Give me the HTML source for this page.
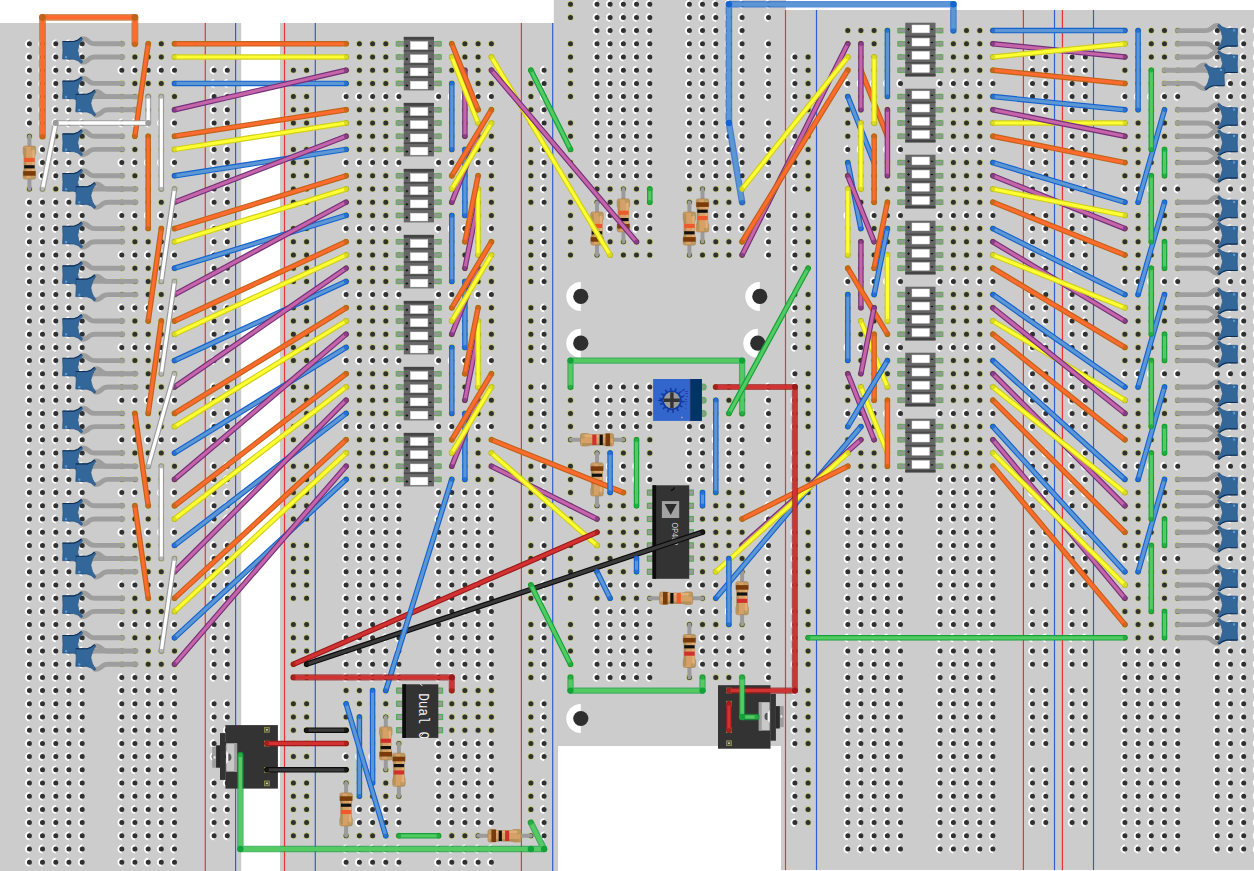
<!DOCTYPE html>
<html><head><meta charset="utf-8"><title>Breadboard</title>
<style>html,body{margin:0;padding:0;background:#fff;}svg{display:block;}</style>
</head><body>
<svg width="1254" height="871" viewBox="0 0 1254 871" font-family="Liberation Sans, sans-serif">
<rect width="1254" height="871" fill="#ffffff"/>
<rect x="0" y="23" width="241.2" height="860" fill="#cccccc"/>
<rect x="280" y="23" width="278" height="860" fill="#cccccc"/>
<rect x="553.8" y="0" width="232.2" height="746" fill="#cccccc"/>
<rect x="781" y="10" width="473" height="860" fill="#cccccc"/>
<defs><path id="hL" d="M29.4,43.8h0M29.4,57h0M29.4,70.2h0M29.4,83.4h0M29.4,96.6h0M29.4,109.8h0M29.4,123h0M29.4,136.2h0M29.4,149.4h0M29.4,162.6h0M29.4,175.8h0M29.4,189h0M29.4,202.2h0M29.4,215.4h0M29.4,228.6h0M29.4,241.8h0M29.4,255h0M29.4,268.2h0M29.4,281.4h0M29.4,294.6h0M29.4,307.8h0M29.4,321h0M29.4,334.2h0M29.4,347.4h0M29.4,360.6h0M29.4,373.8h0M29.4,387h0M29.4,400.2h0M29.4,413.4h0M29.4,426.6h0M29.4,439.8h0M29.4,453h0M29.4,466.2h0M29.4,479.4h0M29.4,492.6h0M29.4,505.8h0M29.4,519h0M29.4,532.2h0M29.4,545.4h0M29.4,558.6h0M29.4,571.8h0M29.4,585h0M29.4,598.2h0M29.4,611.4h0M29.4,624.6h0M29.4,637.8h0M29.4,651h0M29.4,664.2h0M29.4,677.4h0M29.4,690.6h0M29.4,703.8h0M29.4,717h0M29.4,730.2h0M29.4,743.4h0M29.4,756.6h0M29.4,769.8h0M29.4,783h0M29.4,796.2h0M29.4,809.4h0M29.4,822.6h0M29.4,835.8h0M29.4,849h0M29.4,862.2h0M42.5,43.8h0M42.5,57h0M42.5,70.2h0M42.5,83.4h0M42.5,96.6h0M42.5,109.8h0M42.5,123h0M42.5,136.2h0M42.5,149.4h0M42.5,162.6h0M42.5,175.8h0M42.5,189h0M42.5,202.2h0M42.5,215.4h0M42.5,228.6h0M42.5,241.8h0M42.5,255h0M42.5,268.2h0M42.5,281.4h0M42.5,294.6h0M42.5,307.8h0M42.5,321h0M42.5,334.2h0M42.5,347.4h0M42.5,360.6h0M42.5,373.8h0M42.5,387h0M42.5,400.2h0M42.5,413.4h0M42.5,426.6h0M42.5,439.8h0M42.5,453h0M42.5,466.2h0M42.5,479.4h0M42.5,492.6h0M42.5,505.8h0M42.5,519h0M42.5,532.2h0M42.5,545.4h0M42.5,558.6h0M42.5,571.8h0M42.5,585h0M42.5,598.2h0M42.5,611.4h0M42.5,624.6h0M42.5,637.8h0M42.5,651h0M42.5,664.2h0M42.5,677.4h0M42.5,690.6h0M42.5,703.8h0M42.5,717h0M42.5,730.2h0M42.5,743.4h0M42.5,756.6h0M42.5,769.8h0M42.5,783h0M42.5,796.2h0M42.5,809.4h0M42.5,822.6h0M42.5,835.8h0M42.5,849h0M42.5,862.2h0M55.8,43.8h0M55.8,57h0M55.8,70.2h0M55.8,83.4h0M55.8,96.6h0M55.8,109.8h0M55.8,123h0M55.8,136.2h0M55.8,149.4h0M55.8,162.6h0M55.8,175.8h0M55.8,189h0M55.8,202.2h0M55.8,215.4h0M55.8,228.6h0M55.8,241.8h0M55.8,255h0M55.8,268.2h0M55.8,281.4h0M55.8,294.6h0M55.8,307.8h0M55.8,321h0M55.8,334.2h0M55.8,347.4h0M55.8,360.6h0M55.8,373.8h0M55.8,387h0M55.8,400.2h0M55.8,413.4h0M55.8,426.6h0M55.8,439.8h0M55.8,453h0M55.8,466.2h0M55.8,479.4h0M55.8,492.6h0M55.8,505.8h0M55.8,519h0M55.8,532.2h0M55.8,545.4h0M55.8,558.6h0M55.8,571.8h0M55.8,585h0M55.8,598.2h0M55.8,611.4h0M55.8,624.6h0M55.8,637.8h0M55.8,651h0M55.8,664.2h0M55.8,677.4h0M55.8,690.6h0M55.8,703.8h0M55.8,717h0M55.8,730.2h0M55.8,743.4h0M55.8,756.6h0M55.8,769.8h0M55.8,783h0M55.8,796.2h0M55.8,809.4h0M55.8,822.6h0M55.8,835.8h0M55.8,849h0M55.8,862.2h0M68.9,43.8h0M68.9,57h0M68.9,70.2h0M68.9,83.4h0M68.9,96.6h0M68.9,109.8h0M68.9,123h0M68.9,136.2h0M68.9,149.4h0M68.9,162.6h0M68.9,175.8h0M68.9,189h0M68.9,202.2h0M68.9,215.4h0M68.9,228.6h0M68.9,241.8h0M68.9,255h0M68.9,268.2h0M68.9,281.4h0M68.9,294.6h0M68.9,307.8h0M68.9,321h0M68.9,334.2h0M68.9,347.4h0M68.9,360.6h0M68.9,373.8h0M68.9,387h0M68.9,400.2h0M68.9,413.4h0M68.9,426.6h0M68.9,439.8h0M68.9,453h0M68.9,466.2h0M68.9,479.4h0M68.9,492.6h0M68.9,505.8h0M68.9,519h0M68.9,532.2h0M68.9,545.4h0M68.9,558.6h0M68.9,571.8h0M68.9,585h0M68.9,598.2h0M68.9,611.4h0M68.9,624.6h0M68.9,637.8h0M68.9,651h0M68.9,664.2h0M68.9,677.4h0M68.9,690.6h0M68.9,703.8h0M68.9,717h0M68.9,730.2h0M68.9,743.4h0M68.9,756.6h0M68.9,769.8h0M68.9,783h0M68.9,796.2h0M68.9,809.4h0M68.9,822.6h0M68.9,835.8h0M68.9,849h0M68.9,862.2h0M82.2,43.8h0M82.2,57h0M82.2,70.2h0M82.2,83.4h0M82.2,96.6h0M82.2,109.8h0M82.2,123h0M82.2,136.2h0M82.2,149.4h0M82.2,162.6h0M82.2,175.8h0M82.2,189h0M82.2,202.2h0M82.2,215.4h0M82.2,228.6h0M82.2,241.8h0M82.2,255h0M82.2,268.2h0M82.2,281.4h0M82.2,294.6h0M82.2,307.8h0M82.2,321h0M82.2,334.2h0M82.2,347.4h0M82.2,360.6h0M82.2,373.8h0M82.2,387h0M82.2,400.2h0M82.2,413.4h0M82.2,426.6h0M82.2,439.8h0M82.2,453h0M82.2,466.2h0M82.2,479.4h0M82.2,492.6h0M82.2,505.8h0M82.2,519h0M82.2,532.2h0M82.2,545.4h0M82.2,558.6h0M82.2,571.8h0M82.2,585h0M82.2,598.2h0M82.2,611.4h0M82.2,624.6h0M82.2,637.8h0M82.2,651h0M82.2,664.2h0M82.2,677.4h0M82.2,690.6h0M82.2,703.8h0M82.2,717h0M82.2,730.2h0M82.2,743.4h0M82.2,756.6h0M82.2,769.8h0M82.2,783h0M82.2,796.2h0M82.2,809.4h0M82.2,822.6h0M82.2,835.8h0M82.2,849h0M82.2,862.2h0M121.8,43.8h0M121.8,57h0M121.8,70.2h0M121.8,83.4h0M121.8,96.6h0M121.8,109.8h0M121.8,123h0M121.8,136.2h0M121.8,149.4h0M121.8,162.6h0M121.8,175.8h0M121.8,189h0M121.8,202.2h0M121.8,215.4h0M121.8,228.6h0M121.8,241.8h0M121.8,255h0M121.8,268.2h0M121.8,281.4h0M121.8,294.6h0M121.8,307.8h0M121.8,321h0M121.8,334.2h0M121.8,347.4h0M121.8,360.6h0M121.8,373.8h0M121.8,387h0M121.8,400.2h0M121.8,413.4h0M121.8,426.6h0M121.8,439.8h0M121.8,453h0M121.8,466.2h0M121.8,479.4h0M121.8,492.6h0M121.8,505.8h0M121.8,519h0M121.8,532.2h0M121.8,545.4h0M121.8,558.6h0M121.8,571.8h0M121.8,585h0M121.8,598.2h0M121.8,611.4h0M121.8,624.6h0M121.8,637.8h0M121.8,651h0M121.8,664.2h0M121.8,677.4h0M121.8,690.6h0M121.8,703.8h0M121.8,717h0M121.8,730.2h0M121.8,743.4h0M121.8,756.6h0M121.8,769.8h0M121.8,783h0M121.8,796.2h0M121.8,809.4h0M121.8,822.6h0M121.8,835.8h0M121.8,849h0M121.8,862.2h0M134.9,43.8h0M134.9,57h0M134.9,70.2h0M134.9,83.4h0M134.9,96.6h0M134.9,109.8h0M134.9,123h0M134.9,136.2h0M134.9,149.4h0M134.9,162.6h0M134.9,175.8h0M134.9,189h0M134.9,202.2h0M134.9,215.4h0M134.9,228.6h0M134.9,241.8h0M134.9,255h0M134.9,268.2h0M134.9,281.4h0M134.9,294.6h0M134.9,307.8h0M134.9,321h0M134.9,334.2h0M134.9,347.4h0M134.9,360.6h0M134.9,373.8h0M134.9,387h0M134.9,400.2h0M134.9,413.4h0M134.9,426.6h0M134.9,439.8h0M134.9,453h0M134.9,466.2h0M134.9,479.4h0M134.9,492.6h0M134.9,505.8h0M134.9,519h0M134.9,532.2h0M134.9,545.4h0M134.9,558.6h0M134.9,571.8h0M134.9,585h0M134.9,598.2h0M134.9,611.4h0M134.9,624.6h0M134.9,637.8h0M134.9,651h0M134.9,664.2h0M134.9,677.4h0M134.9,690.6h0M134.9,703.8h0M134.9,717h0M134.9,730.2h0M134.9,743.4h0M134.9,756.6h0M134.9,769.8h0M134.9,783h0M134.9,796.2h0M134.9,809.4h0M134.9,822.6h0M134.9,835.8h0M134.9,849h0M134.9,862.2h0M148.2,43.8h0M148.2,57h0M148.2,70.2h0M148.2,83.4h0M148.2,96.6h0M148.2,109.8h0M148.2,123h0M148.2,136.2h0M148.2,149.4h0M148.2,162.6h0M148.2,175.8h0M148.2,189h0M148.2,202.2h0M148.2,215.4h0M148.2,228.6h0M148.2,241.8h0M148.2,255h0M148.2,268.2h0M148.2,281.4h0M148.2,294.6h0M148.2,307.8h0M148.2,321h0M148.2,334.2h0M148.2,347.4h0M148.2,360.6h0M148.2,373.8h0M148.2,387h0M148.2,400.2h0M148.2,413.4h0M148.2,426.6h0M148.2,439.8h0M148.2,453h0M148.2,466.2h0M148.2,479.4h0M148.2,492.6h0M148.2,505.8h0M148.2,519h0M148.2,532.2h0M148.2,545.4h0M148.2,558.6h0M148.2,571.8h0M148.2,585h0M148.2,598.2h0M148.2,611.4h0M148.2,624.6h0M148.2,637.8h0M148.2,651h0M148.2,664.2h0M148.2,677.4h0M148.2,690.6h0M148.2,703.8h0M148.2,717h0M148.2,730.2h0M148.2,743.4h0M148.2,756.6h0M148.2,769.8h0M148.2,783h0M148.2,796.2h0M148.2,809.4h0M148.2,822.6h0M148.2,835.8h0M148.2,849h0M148.2,862.2h0M161.3,43.8h0M161.3,57h0M161.3,70.2h0M161.3,83.4h0M161.3,96.6h0M161.3,109.8h0M161.3,123h0M161.3,136.2h0M161.3,149.4h0M161.3,162.6h0M161.3,175.8h0M161.3,189h0M161.3,202.2h0M161.3,215.4h0M161.3,228.6h0M161.3,241.8h0M161.3,255h0M161.3,268.2h0M161.3,281.4h0M161.3,294.6h0M161.3,307.8h0M161.3,321h0M161.3,334.2h0M161.3,347.4h0M161.3,360.6h0M161.3,373.8h0M161.3,387h0M161.3,400.2h0M161.3,413.4h0M161.3,426.6h0M161.3,439.8h0M161.3,453h0M161.3,466.2h0M161.3,479.4h0M161.3,492.6h0M161.3,505.8h0M161.3,519h0M161.3,532.2h0M161.3,545.4h0M161.3,558.6h0M161.3,571.8h0M161.3,585h0M161.3,598.2h0M161.3,611.4h0M161.3,624.6h0M161.3,637.8h0M161.3,651h0M161.3,664.2h0M161.3,677.4h0M161.3,690.6h0M161.3,703.8h0M161.3,717h0M161.3,730.2h0M161.3,743.4h0M161.3,756.6h0M161.3,769.8h0M161.3,783h0M161.3,796.2h0M161.3,809.4h0M161.3,822.6h0M161.3,835.8h0M161.3,849h0M161.3,862.2h0M174.5,43.8h0M174.5,57h0M174.5,70.2h0M174.5,83.4h0M174.5,96.6h0M174.5,109.8h0M174.5,123h0M174.5,136.2h0M174.5,149.4h0M174.5,162.6h0M174.5,175.8h0M174.5,189h0M174.5,202.2h0M174.5,215.4h0M174.5,228.6h0M174.5,241.8h0M174.5,255h0M174.5,268.2h0M174.5,281.4h0M174.5,294.6h0M174.5,307.8h0M174.5,321h0M174.5,334.2h0M174.5,347.4h0M174.5,360.6h0M174.5,373.8h0M174.5,387h0M174.5,400.2h0M174.5,413.4h0M174.5,426.6h0M174.5,439.8h0M174.5,453h0M174.5,466.2h0M174.5,479.4h0M174.5,492.6h0M174.5,505.8h0M174.5,519h0M174.5,532.2h0M174.5,545.4h0M174.5,558.6h0M174.5,571.8h0M174.5,585h0M174.5,598.2h0M174.5,611.4h0M174.5,624.6h0M174.5,637.8h0M174.5,651h0M174.5,664.2h0M174.5,677.4h0M174.5,690.6h0M174.5,703.8h0M174.5,717h0M174.5,730.2h0M174.5,743.4h0M174.5,756.6h0M174.5,769.8h0M174.5,783h0M174.5,796.2h0M174.5,809.4h0M174.5,822.6h0M174.5,835.8h0M174.5,849h0M174.5,862.2h0M214.1,70.2h0M214.1,83.4h0M214.1,96.6h0M214.1,109.8h0M214.1,123h0M214.1,149.4h0M214.1,162.6h0M214.1,175.8h0M214.1,189h0M214.1,202.2h0M214.1,228.6h0M214.1,241.8h0M214.1,255h0M214.1,268.2h0M214.1,281.4h0M214.1,307.8h0M214.1,321h0M214.1,334.2h0M214.1,347.4h0M214.1,360.6h0M214.1,387h0M214.1,400.2h0M214.1,413.4h0M214.1,426.6h0M214.1,439.8h0M214.1,466.2h0M214.1,479.4h0M214.1,492.6h0M214.1,505.8h0M214.1,519h0M214.1,545.4h0M214.1,558.6h0M214.1,571.8h0M214.1,585h0M214.1,598.2h0M214.1,624.6h0M214.1,637.8h0M214.1,651h0M214.1,664.2h0M214.1,677.4h0M214.1,703.8h0M214.1,717h0M214.1,730.2h0M214.1,743.4h0M214.1,756.6h0M214.1,783h0M214.1,796.2h0M214.1,809.4h0M214.1,822.6h0M214.1,835.8h0M227.3,70.2h0M227.3,83.4h0M227.3,96.6h0M227.3,109.8h0M227.3,123h0M227.3,149.4h0M227.3,162.6h0M227.3,175.8h0M227.3,189h0M227.3,202.2h0M227.3,228.6h0M227.3,241.8h0M227.3,255h0M227.3,268.2h0M227.3,281.4h0M227.3,307.8h0M227.3,321h0M227.3,334.2h0M227.3,347.4h0M227.3,360.6h0M227.3,387h0M227.3,400.2h0M227.3,413.4h0M227.3,426.6h0M227.3,439.8h0M227.3,466.2h0M227.3,479.4h0M227.3,492.6h0M227.3,505.8h0M227.3,519h0M227.3,545.4h0M227.3,558.6h0M227.3,571.8h0M227.3,585h0M227.3,598.2h0M227.3,624.6h0M227.3,637.8h0M227.3,651h0M227.3,664.2h0M227.3,677.4h0M227.3,703.8h0M227.3,717h0M227.3,730.2h0M227.3,743.4h0M227.3,756.6h0M227.3,783h0M227.3,796.2h0M227.3,809.4h0M227.3,822.6h0M227.3,835.8h0"/><path id="hS" d="M293.4,70.2h0M293.4,83.4h0M293.4,96.6h0M293.4,109.8h0M293.4,123h0M293.4,149.4h0M293.4,162.6h0M293.4,175.8h0M293.4,189h0M293.4,202.2h0M293.4,228.6h0M293.4,241.8h0M293.4,255h0M293.4,268.2h0M293.4,281.4h0M293.4,307.8h0M293.4,321h0M293.4,334.2h0M293.4,347.4h0M293.4,360.6h0M293.4,387h0M293.4,400.2h0M293.4,413.4h0M293.4,426.6h0M293.4,439.8h0M293.4,466.2h0M293.4,479.4h0M293.4,492.6h0M293.4,505.8h0M293.4,519h0M293.4,545.4h0M293.4,558.6h0M293.4,571.8h0M293.4,585h0M293.4,598.2h0M293.4,624.6h0M293.4,637.8h0M293.4,651h0M293.4,664.2h0M293.4,677.4h0M293.4,703.8h0M293.4,717h0M293.4,730.2h0M293.4,743.4h0M293.4,756.6h0M293.4,783h0M293.4,796.2h0M293.4,809.4h0M293.4,822.6h0M293.4,835.8h0M306.6,70.2h0M306.6,83.4h0M306.6,96.6h0M306.6,109.8h0M306.6,123h0M306.6,149.4h0M306.6,162.6h0M306.6,175.8h0M306.6,189h0M306.6,202.2h0M306.6,228.6h0M306.6,241.8h0M306.6,255h0M306.6,268.2h0M306.6,281.4h0M306.6,307.8h0M306.6,321h0M306.6,334.2h0M306.6,347.4h0M306.6,360.6h0M306.6,387h0M306.6,400.2h0M306.6,413.4h0M306.6,426.6h0M306.6,439.8h0M306.6,466.2h0M306.6,479.4h0M306.6,492.6h0M306.6,505.8h0M306.6,519h0M306.6,545.4h0M306.6,558.6h0M306.6,571.8h0M306.6,585h0M306.6,598.2h0M306.6,624.6h0M306.6,637.8h0M306.6,651h0M306.6,664.2h0M306.6,677.4h0M306.6,703.8h0M306.6,717h0M306.6,730.2h0M306.6,743.4h0M306.6,756.6h0M306.6,783h0M306.6,796.2h0M306.6,809.4h0M306.6,822.6h0M306.6,835.8h0M346.1,43.8h0M346.1,57h0M346.1,70.2h0M346.1,83.4h0M346.1,96.6h0M346.1,109.8h0M346.1,123h0M346.1,136.2h0M346.1,149.4h0M346.1,162.6h0M346.1,175.8h0M346.1,189h0M346.1,202.2h0M346.1,215.4h0M346.1,228.6h0M346.1,241.8h0M346.1,255h0M346.1,268.2h0M346.1,281.4h0M346.1,294.6h0M346.1,307.8h0M346.1,321h0M346.1,334.2h0M346.1,347.4h0M346.1,360.6h0M346.1,373.8h0M346.1,387h0M346.1,400.2h0M346.1,413.4h0M346.1,426.6h0M346.1,439.8h0M346.1,453h0M346.1,466.2h0M346.1,479.4h0M346.1,492.6h0M346.1,505.8h0M346.1,519h0M346.1,532.2h0M346.1,545.4h0M346.1,558.6h0M346.1,571.8h0M346.1,585h0M346.1,598.2h0M346.1,611.4h0M346.1,624.6h0M346.1,637.8h0M346.1,651h0M346.1,664.2h0M346.1,677.4h0M346.1,690.6h0M346.1,703.8h0M346.1,717h0M346.1,730.2h0M346.1,743.4h0M346.1,756.6h0M346.1,769.8h0M346.1,783h0M346.1,796.2h0M346.1,809.4h0M346.1,822.6h0M346.1,835.8h0M346.1,849h0M346.1,862.2h0M359.4,43.8h0M359.4,57h0M359.4,70.2h0M359.4,83.4h0M359.4,96.6h0M359.4,109.8h0M359.4,123h0M359.4,136.2h0M359.4,149.4h0M359.4,162.6h0M359.4,175.8h0M359.4,189h0M359.4,202.2h0M359.4,215.4h0M359.4,228.6h0M359.4,241.8h0M359.4,255h0M359.4,268.2h0M359.4,281.4h0M359.4,294.6h0M359.4,307.8h0M359.4,321h0M359.4,334.2h0M359.4,347.4h0M359.4,360.6h0M359.4,373.8h0M359.4,387h0M359.4,400.2h0M359.4,413.4h0M359.4,426.6h0M359.4,439.8h0M359.4,453h0M359.4,466.2h0M359.4,479.4h0M359.4,492.6h0M359.4,505.8h0M359.4,519h0M359.4,532.2h0M359.4,545.4h0M359.4,558.6h0M359.4,571.8h0M359.4,585h0M359.4,598.2h0M359.4,611.4h0M359.4,624.6h0M359.4,637.8h0M359.4,651h0M359.4,664.2h0M359.4,677.4h0M359.4,690.6h0M359.4,703.8h0M359.4,717h0M359.4,730.2h0M359.4,743.4h0M359.4,756.6h0M359.4,769.8h0M359.4,783h0M359.4,796.2h0M359.4,809.4h0M359.4,822.6h0M359.4,835.8h0M359.4,849h0M359.4,862.2h0M372.6,43.8h0M372.6,57h0M372.6,70.2h0M372.6,83.4h0M372.6,96.6h0M372.6,109.8h0M372.6,123h0M372.6,136.2h0M372.6,149.4h0M372.6,162.6h0M372.6,175.8h0M372.6,189h0M372.6,202.2h0M372.6,215.4h0M372.6,228.6h0M372.6,241.8h0M372.6,255h0M372.6,268.2h0M372.6,281.4h0M372.6,294.6h0M372.6,307.8h0M372.6,321h0M372.6,334.2h0M372.6,347.4h0M372.6,360.6h0M372.6,373.8h0M372.6,387h0M372.6,400.2h0M372.6,413.4h0M372.6,426.6h0M372.6,439.8h0M372.6,453h0M372.6,466.2h0M372.6,479.4h0M372.6,492.6h0M372.6,505.8h0M372.6,519h0M372.6,532.2h0M372.6,545.4h0M372.6,558.6h0M372.6,571.8h0M372.6,585h0M372.6,598.2h0M372.6,611.4h0M372.6,624.6h0M372.6,637.8h0M372.6,651h0M372.6,664.2h0M372.6,677.4h0M372.6,690.6h0M372.6,703.8h0M372.6,717h0M372.6,730.2h0M372.6,743.4h0M372.6,756.6h0M372.6,769.8h0M372.6,783h0M372.6,796.2h0M372.6,809.4h0M372.6,822.6h0M372.6,835.8h0M372.6,849h0M372.6,862.2h0M385.8,43.8h0M385.8,57h0M385.8,70.2h0M385.8,83.4h0M385.8,96.6h0M385.8,109.8h0M385.8,123h0M385.8,136.2h0M385.8,149.4h0M385.8,162.6h0M385.8,175.8h0M385.8,189h0M385.8,202.2h0M385.8,215.4h0M385.8,228.6h0M385.8,241.8h0M385.8,255h0M385.8,268.2h0M385.8,281.4h0M385.8,294.6h0M385.8,307.8h0M385.8,321h0M385.8,334.2h0M385.8,347.4h0M385.8,360.6h0M385.8,373.8h0M385.8,387h0M385.8,400.2h0M385.8,413.4h0M385.8,426.6h0M385.8,439.8h0M385.8,453h0M385.8,466.2h0M385.8,479.4h0M385.8,492.6h0M385.8,505.8h0M385.8,519h0M385.8,532.2h0M385.8,545.4h0M385.8,558.6h0M385.8,571.8h0M385.8,585h0M385.8,598.2h0M385.8,611.4h0M385.8,624.6h0M385.8,637.8h0M385.8,651h0M385.8,664.2h0M385.8,677.4h0M385.8,690.6h0M385.8,703.8h0M385.8,717h0M385.8,730.2h0M385.8,743.4h0M385.8,756.6h0M385.8,769.8h0M385.8,783h0M385.8,796.2h0M385.8,809.4h0M385.8,822.6h0M385.8,835.8h0M385.8,849h0M385.8,862.2h0M398.9,43.8h0M398.9,57h0M398.9,70.2h0M398.9,83.4h0M398.9,96.6h0M398.9,109.8h0M398.9,123h0M398.9,136.2h0M398.9,149.4h0M398.9,162.6h0M398.9,175.8h0M398.9,189h0M398.9,202.2h0M398.9,215.4h0M398.9,228.6h0M398.9,241.8h0M398.9,255h0M398.9,268.2h0M398.9,281.4h0M398.9,294.6h0M398.9,307.8h0M398.9,321h0M398.9,334.2h0M398.9,347.4h0M398.9,360.6h0M398.9,373.8h0M398.9,387h0M398.9,400.2h0M398.9,413.4h0M398.9,426.6h0M398.9,439.8h0M398.9,453h0M398.9,466.2h0M398.9,479.4h0M398.9,492.6h0M398.9,505.8h0M398.9,519h0M398.9,532.2h0M398.9,545.4h0M398.9,558.6h0M398.9,571.8h0M398.9,585h0M398.9,598.2h0M398.9,611.4h0M398.9,624.6h0M398.9,637.8h0M398.9,651h0M398.9,664.2h0M398.9,677.4h0M398.9,690.6h0M398.9,703.8h0M398.9,717h0M398.9,730.2h0M398.9,743.4h0M398.9,756.6h0M398.9,769.8h0M398.9,783h0M398.9,796.2h0M398.9,809.4h0M398.9,822.6h0M398.9,835.8h0M398.9,849h0M398.9,862.2h0M438.6,43.8h0M438.6,57h0M438.6,70.2h0M438.6,83.4h0M438.6,96.6h0M438.6,109.8h0M438.6,123h0M438.6,136.2h0M438.6,149.4h0M438.6,162.6h0M438.6,175.8h0M438.6,189h0M438.6,202.2h0M438.6,215.4h0M438.6,228.6h0M438.6,241.8h0M438.6,255h0M438.6,268.2h0M438.6,281.4h0M438.6,294.6h0M438.6,307.8h0M438.6,321h0M438.6,334.2h0M438.6,347.4h0M438.6,360.6h0M438.6,373.8h0M438.6,387h0M438.6,400.2h0M438.6,413.4h0M438.6,426.6h0M438.6,439.8h0M438.6,453h0M438.6,466.2h0M438.6,479.4h0M438.6,492.6h0M438.6,505.8h0M438.6,519h0M438.6,532.2h0M438.6,545.4h0M438.6,558.6h0M438.6,571.8h0M438.6,585h0M438.6,598.2h0M438.6,611.4h0M438.6,624.6h0M438.6,637.8h0M438.6,651h0M438.6,664.2h0M438.6,677.4h0M438.6,690.6h0M438.6,703.8h0M438.6,717h0M438.6,730.2h0M438.6,743.4h0M438.6,756.6h0M438.6,769.8h0M438.6,783h0M438.6,796.2h0M438.6,809.4h0M438.6,822.6h0M438.6,835.8h0M438.6,849h0M438.6,862.2h0M451.8,43.8h0M451.8,57h0M451.8,70.2h0M451.8,83.4h0M451.8,96.6h0M451.8,109.8h0M451.8,123h0M451.8,136.2h0M451.8,149.4h0M451.8,162.6h0M451.8,175.8h0M451.8,189h0M451.8,202.2h0M451.8,215.4h0M451.8,228.6h0M451.8,241.8h0M451.8,255h0M451.8,268.2h0M451.8,281.4h0M451.8,294.6h0M451.8,307.8h0M451.8,321h0M451.8,334.2h0M451.8,347.4h0M451.8,360.6h0M451.8,373.8h0M451.8,387h0M451.8,400.2h0M451.8,413.4h0M451.8,426.6h0M451.8,439.8h0M451.8,453h0M451.8,466.2h0M451.8,479.4h0M451.8,492.6h0M451.8,505.8h0M451.8,519h0M451.8,532.2h0M451.8,545.4h0M451.8,558.6h0M451.8,571.8h0M451.8,585h0M451.8,598.2h0M451.8,611.4h0M451.8,624.6h0M451.8,637.8h0M451.8,651h0M451.8,664.2h0M451.8,677.4h0M451.8,690.6h0M451.8,703.8h0M451.8,717h0M451.8,730.2h0M451.8,743.4h0M451.8,756.6h0M451.8,769.8h0M451.8,783h0M451.8,796.2h0M451.8,809.4h0M451.8,822.6h0M451.8,835.8h0M451.8,849h0M451.8,862.2h0M464.9,43.8h0M464.9,57h0M464.9,70.2h0M464.9,83.4h0M464.9,96.6h0M464.9,109.8h0M464.9,123h0M464.9,136.2h0M464.9,149.4h0M464.9,162.6h0M464.9,175.8h0M464.9,189h0M464.9,202.2h0M464.9,215.4h0M464.9,228.6h0M464.9,241.8h0M464.9,255h0M464.9,268.2h0M464.9,281.4h0M464.9,294.6h0M464.9,307.8h0M464.9,321h0M464.9,334.2h0M464.9,347.4h0M464.9,360.6h0M464.9,373.8h0M464.9,387h0M464.9,400.2h0M464.9,413.4h0M464.9,426.6h0M464.9,439.8h0M464.9,453h0M464.9,466.2h0M464.9,479.4h0M464.9,492.6h0M464.9,505.8h0M464.9,519h0M464.9,532.2h0M464.9,545.4h0M464.9,558.6h0M464.9,571.8h0M464.9,585h0M464.9,598.2h0M464.9,611.4h0M464.9,624.6h0M464.9,637.8h0M464.9,651h0M464.9,664.2h0M464.9,677.4h0M464.9,690.6h0M464.9,703.8h0M464.9,717h0M464.9,730.2h0M464.9,743.4h0M464.9,756.6h0M464.9,769.8h0M464.9,783h0M464.9,796.2h0M464.9,809.4h0M464.9,822.6h0M464.9,835.8h0M464.9,849h0M464.9,862.2h0M478.1,43.8h0M478.1,57h0M478.1,70.2h0M478.1,83.4h0M478.1,96.6h0M478.1,109.8h0M478.1,123h0M478.1,136.2h0M478.1,149.4h0M478.1,162.6h0M478.1,175.8h0M478.1,189h0M478.1,202.2h0M478.1,215.4h0M478.1,228.6h0M478.1,241.8h0M478.1,255h0M478.1,268.2h0M478.1,281.4h0M478.1,294.6h0M478.1,307.8h0M478.1,321h0M478.1,334.2h0M478.1,347.4h0M478.1,360.6h0M478.1,373.8h0M478.1,387h0M478.1,400.2h0M478.1,413.4h0M478.1,426.6h0M478.1,439.8h0M478.1,453h0M478.1,466.2h0M478.1,479.4h0M478.1,492.6h0M478.1,505.8h0M478.1,519h0M478.1,532.2h0M478.1,545.4h0M478.1,558.6h0M478.1,571.8h0M478.1,585h0M478.1,598.2h0M478.1,611.4h0M478.1,624.6h0M478.1,637.8h0M478.1,651h0M478.1,664.2h0M478.1,677.4h0M478.1,690.6h0M478.1,703.8h0M478.1,717h0M478.1,730.2h0M478.1,743.4h0M478.1,756.6h0M478.1,769.8h0M478.1,783h0M478.1,796.2h0M478.1,809.4h0M478.1,822.6h0M478.1,835.8h0M478.1,849h0M478.1,862.2h0M491.4,43.8h0M491.4,57h0M491.4,70.2h0M491.4,83.4h0M491.4,96.6h0M491.4,109.8h0M491.4,123h0M491.4,136.2h0M491.4,149.4h0M491.4,162.6h0M491.4,175.8h0M491.4,189h0M491.4,202.2h0M491.4,215.4h0M491.4,228.6h0M491.4,241.8h0M491.4,255h0M491.4,268.2h0M491.4,281.4h0M491.4,294.6h0M491.4,307.8h0M491.4,321h0M491.4,334.2h0M491.4,347.4h0M491.4,360.6h0M491.4,373.8h0M491.4,387h0M491.4,400.2h0M491.4,413.4h0M491.4,426.6h0M491.4,439.8h0M491.4,453h0M491.4,466.2h0M491.4,479.4h0M491.4,492.6h0M491.4,505.8h0M491.4,519h0M491.4,532.2h0M491.4,545.4h0M491.4,558.6h0M491.4,571.8h0M491.4,585h0M491.4,598.2h0M491.4,611.4h0M491.4,624.6h0M491.4,637.8h0M491.4,651h0M491.4,664.2h0M491.4,677.4h0M491.4,690.6h0M491.4,703.8h0M491.4,717h0M491.4,730.2h0M491.4,743.4h0M491.4,756.6h0M491.4,769.8h0M491.4,783h0M491.4,796.2h0M491.4,809.4h0M491.4,822.6h0M491.4,835.8h0M491.4,849h0M491.4,862.2h0M530.9,70.2h0M530.9,83.4h0M530.9,96.6h0M530.9,109.8h0M530.9,123h0M530.9,149.4h0M530.9,162.6h0M530.9,175.8h0M530.9,189h0M530.9,202.2h0M530.9,228.6h0M530.9,241.8h0M530.9,255h0M530.9,268.2h0M530.9,281.4h0M530.9,307.8h0M530.9,321h0M530.9,334.2h0M530.9,347.4h0M530.9,360.6h0M530.9,387h0M530.9,400.2h0M530.9,413.4h0M530.9,426.6h0M530.9,439.8h0M530.9,466.2h0M530.9,479.4h0M530.9,492.6h0M530.9,505.8h0M530.9,519h0M530.9,545.4h0M530.9,558.6h0M530.9,571.8h0M530.9,585h0M530.9,598.2h0M530.9,624.6h0M530.9,637.8h0M530.9,651h0M530.9,664.2h0M530.9,677.4h0M530.9,703.8h0M530.9,717h0M530.9,730.2h0M530.9,743.4h0M530.9,756.6h0M530.9,783h0M530.9,796.2h0M530.9,809.4h0M530.9,822.6h0M530.9,835.8h0M544.1,70.2h0M544.1,83.4h0M544.1,96.6h0M544.1,109.8h0M544.1,123h0M544.1,149.4h0M544.1,162.6h0M544.1,175.8h0M544.1,189h0M544.1,202.2h0M544.1,228.6h0M544.1,241.8h0M544.1,255h0M544.1,268.2h0M544.1,281.4h0M544.1,307.8h0M544.1,321h0M544.1,334.2h0M544.1,347.4h0M544.1,360.6h0M544.1,387h0M544.1,400.2h0M544.1,413.4h0M544.1,426.6h0M544.1,439.8h0M544.1,466.2h0M544.1,479.4h0M544.1,492.6h0M544.1,505.8h0M544.1,519h0M544.1,545.4h0M544.1,558.6h0M544.1,571.8h0M544.1,585h0M544.1,598.2h0M544.1,624.6h0M544.1,637.8h0M544.1,651h0M544.1,664.2h0M544.1,677.4h0M544.1,703.8h0M544.1,717h0M544.1,730.2h0M544.1,743.4h0M544.1,756.6h0M544.1,783h0M544.1,796.2h0M544.1,809.4h0M544.1,822.6h0M544.1,835.8h0"/><path id="hO" d="M570.5,4.2h0M570.5,17.4h0M570.5,43.8h0M570.5,57h0M570.5,70.2h0M570.5,83.4h0M570.5,96.6h0M570.5,123h0M570.5,136.2h0M570.5,149.4h0M570.5,162.6h0M570.5,175.8h0M570.5,202.2h0M570.5,215.4h0M570.5,228.6h0M570.5,241.8h0M570.5,255h0M570.5,387h0M570.5,400.2h0M570.5,413.4h0M570.5,426.6h0M570.5,439.8h0M570.5,466.2h0M570.5,479.4h0M570.5,492.6h0M570.5,505.8h0M570.5,519h0M570.5,545.4h0M570.5,558.6h0M570.5,571.8h0M570.5,585h0M570.5,598.2h0M570.5,624.6h0M570.5,637.8h0M570.5,651h0M570.5,664.2h0M570.5,677.4h0M597,4.2h0M597,17.4h0M597,30.6h0M597,43.8h0M597,57h0M597,70.2h0M597,83.4h0M597,96.6h0M597,109.8h0M597,123h0M597,136.2h0M597,149.4h0M597,162.6h0M597,175.8h0M597,189h0M597,202.2h0M597,215.4h0M597,228.6h0M597,241.8h0M597,255h0M597,387h0M597,400.2h0M597,413.4h0M597,426.6h0M597,439.8h0M597,453h0M597,466.2h0M597,479.4h0M597,492.6h0M597,505.8h0M597,519h0M597,532.2h0M597,545.4h0M597,558.6h0M597,571.8h0M597,585h0M597,598.2h0M597,611.4h0M597,624.6h0M597,637.8h0M597,651h0M597,664.2h0M597,677.4h0M610.1,4.2h0M610.1,17.4h0M610.1,30.6h0M610.1,43.8h0M610.1,57h0M610.1,70.2h0M610.1,83.4h0M610.1,96.6h0M610.1,109.8h0M610.1,123h0M610.1,136.2h0M610.1,149.4h0M610.1,162.6h0M610.1,175.8h0M610.1,189h0M610.1,202.2h0M610.1,215.4h0M610.1,228.6h0M610.1,241.8h0M610.1,255h0M610.1,387h0M610.1,400.2h0M610.1,413.4h0M610.1,426.6h0M610.1,439.8h0M610.1,453h0M610.1,466.2h0M610.1,479.4h0M610.1,492.6h0M610.1,505.8h0M610.1,519h0M610.1,532.2h0M610.1,545.4h0M610.1,558.6h0M610.1,571.8h0M610.1,585h0M610.1,598.2h0M610.1,611.4h0M610.1,624.6h0M610.1,637.8h0M610.1,651h0M610.1,664.2h0M610.1,677.4h0M623.4,4.2h0M623.4,17.4h0M623.4,30.6h0M623.4,43.8h0M623.4,57h0M623.4,70.2h0M623.4,83.4h0M623.4,96.6h0M623.4,109.8h0M623.4,123h0M623.4,136.2h0M623.4,149.4h0M623.4,162.6h0M623.4,175.8h0M623.4,189h0M623.4,202.2h0M623.4,215.4h0M623.4,228.6h0M623.4,241.8h0M623.4,255h0M623.4,387h0M623.4,400.2h0M623.4,413.4h0M623.4,426.6h0M623.4,439.8h0M623.4,453h0M623.4,466.2h0M623.4,479.4h0M623.4,492.6h0M623.4,505.8h0M623.4,519h0M623.4,532.2h0M623.4,545.4h0M623.4,558.6h0M623.4,571.8h0M623.4,585h0M623.4,598.2h0M623.4,611.4h0M623.4,624.6h0M623.4,637.8h0M623.4,651h0M623.4,664.2h0M623.4,677.4h0M636.5,4.2h0M636.5,17.4h0M636.5,30.6h0M636.5,43.8h0M636.5,57h0M636.5,70.2h0M636.5,83.4h0M636.5,96.6h0M636.5,109.8h0M636.5,123h0M636.5,136.2h0M636.5,149.4h0M636.5,162.6h0M636.5,175.8h0M636.5,189h0M636.5,202.2h0M636.5,215.4h0M636.5,228.6h0M636.5,241.8h0M636.5,255h0M636.5,387h0M636.5,400.2h0M636.5,413.4h0M636.5,426.6h0M636.5,439.8h0M636.5,453h0M636.5,466.2h0M636.5,479.4h0M636.5,492.6h0M636.5,505.8h0M636.5,519h0M636.5,532.2h0M636.5,545.4h0M636.5,558.6h0M636.5,571.8h0M636.5,585h0M636.5,598.2h0M636.5,611.4h0M636.5,624.6h0M636.5,637.8h0M636.5,651h0M636.5,664.2h0M636.5,677.4h0M649.8,4.2h0M649.8,17.4h0M649.8,30.6h0M649.8,43.8h0M649.8,57h0M649.8,70.2h0M649.8,83.4h0M649.8,96.6h0M649.8,109.8h0M649.8,123h0M649.8,136.2h0M649.8,149.4h0M649.8,162.6h0M649.8,175.8h0M649.8,189h0M649.8,202.2h0M649.8,215.4h0M649.8,228.6h0M649.8,241.8h0M649.8,255h0M649.8,387h0M649.8,400.2h0M649.8,413.4h0M649.8,426.6h0M649.8,439.8h0M649.8,453h0M649.8,466.2h0M649.8,479.4h0M649.8,492.6h0M649.8,505.8h0M649.8,519h0M649.8,532.2h0M649.8,545.4h0M649.8,558.6h0M649.8,571.8h0M649.8,585h0M649.8,598.2h0M649.8,611.4h0M649.8,624.6h0M649.8,637.8h0M649.8,651h0M649.8,664.2h0M649.8,677.4h0M689.4,4.2h0M689.4,17.4h0M689.4,30.6h0M689.4,43.8h0M689.4,57h0M689.4,70.2h0M689.4,83.4h0M689.4,96.6h0M689.4,109.8h0M689.4,123h0M689.4,136.2h0M689.4,149.4h0M689.4,162.6h0M689.4,175.8h0M689.4,189h0M689.4,202.2h0M689.4,215.4h0M689.4,228.6h0M689.4,241.8h0M689.4,255h0M689.4,387h0M689.4,400.2h0M689.4,413.4h0M689.4,426.6h0M689.4,439.8h0M689.4,453h0M689.4,466.2h0M689.4,479.4h0M689.4,492.6h0M689.4,505.8h0M689.4,519h0M689.4,532.2h0M689.4,545.4h0M689.4,558.6h0M689.4,571.8h0M689.4,585h0M689.4,598.2h0M689.4,611.4h0M689.4,624.6h0M689.4,637.8h0M689.4,651h0M689.4,664.2h0M689.4,677.4h0M702.5,4.2h0M702.5,17.4h0M702.5,30.6h0M702.5,43.8h0M702.5,57h0M702.5,70.2h0M702.5,83.4h0M702.5,96.6h0M702.5,109.8h0M702.5,123h0M702.5,136.2h0M702.5,149.4h0M702.5,162.6h0M702.5,175.8h0M702.5,189h0M702.5,202.2h0M702.5,215.4h0M702.5,228.6h0M702.5,241.8h0M702.5,255h0M702.5,387h0M702.5,400.2h0M702.5,413.4h0M702.5,426.6h0M702.5,439.8h0M702.5,453h0M702.5,466.2h0M702.5,479.4h0M702.5,492.6h0M702.5,505.8h0M702.5,519h0M702.5,532.2h0M702.5,545.4h0M702.5,558.6h0M702.5,571.8h0M702.5,585h0M702.5,598.2h0M702.5,611.4h0M702.5,624.6h0M702.5,637.8h0M702.5,651h0M702.5,664.2h0M702.5,677.4h0M715.8,4.2h0M715.8,17.4h0M715.8,30.6h0M715.8,43.8h0M715.8,57h0M715.8,70.2h0M715.8,83.4h0M715.8,96.6h0M715.8,109.8h0M715.8,123h0M715.8,136.2h0M715.8,149.4h0M715.8,162.6h0M715.8,175.8h0M715.8,189h0M715.8,202.2h0M715.8,215.4h0M715.8,228.6h0M715.8,241.8h0M715.8,255h0M715.8,387h0M715.8,400.2h0M715.8,413.4h0M715.8,426.6h0M715.8,439.8h0M715.8,453h0M715.8,466.2h0M715.8,479.4h0M715.8,492.6h0M715.8,505.8h0M715.8,519h0M715.8,532.2h0M715.8,545.4h0M715.8,558.6h0M715.8,571.8h0M715.8,585h0M715.8,598.2h0M715.8,611.4h0M715.8,624.6h0M715.8,637.8h0M715.8,651h0M715.8,664.2h0M715.8,677.4h0M728.9,4.2h0M728.9,17.4h0M728.9,30.6h0M728.9,43.8h0M728.9,57h0M728.9,70.2h0M728.9,83.4h0M728.9,96.6h0M728.9,109.8h0M728.9,123h0M728.9,136.2h0M728.9,149.4h0M728.9,162.6h0M728.9,175.8h0M728.9,189h0M728.9,202.2h0M728.9,215.4h0M728.9,228.6h0M728.9,241.8h0M728.9,255h0M728.9,387h0M728.9,400.2h0M728.9,413.4h0M728.9,426.6h0M728.9,439.8h0M728.9,453h0M728.9,466.2h0M728.9,479.4h0M728.9,492.6h0M728.9,505.8h0M728.9,519h0M728.9,532.2h0M728.9,545.4h0M728.9,558.6h0M728.9,571.8h0M728.9,585h0M728.9,598.2h0M728.9,611.4h0M728.9,624.6h0M728.9,637.8h0M728.9,651h0M728.9,664.2h0M728.9,677.4h0M742.1,4.2h0M742.1,17.4h0M742.1,30.6h0M742.1,43.8h0M742.1,57h0M742.1,70.2h0M742.1,83.4h0M742.1,96.6h0M742.1,109.8h0M742.1,123h0M742.1,136.2h0M742.1,149.4h0M742.1,162.6h0M742.1,175.8h0M742.1,189h0M742.1,202.2h0M742.1,215.4h0M742.1,228.6h0M742.1,241.8h0M742.1,255h0M742.1,387h0M742.1,400.2h0M742.1,413.4h0M742.1,426.6h0M742.1,439.8h0M742.1,453h0M742.1,466.2h0M742.1,479.4h0M742.1,492.6h0M742.1,505.8h0M742.1,519h0M742.1,532.2h0M742.1,545.4h0M742.1,558.6h0M742.1,571.8h0M742.1,585h0M742.1,598.2h0M742.1,611.4h0M742.1,624.6h0M742.1,637.8h0M742.1,651h0M742.1,664.2h0M742.1,677.4h0M768.5,4.2h0M768.5,17.4h0M768.5,43.8h0M768.5,57h0M768.5,70.2h0M768.5,83.4h0M768.5,96.6h0M768.5,123h0M768.5,136.2h0M768.5,149.4h0M768.5,162.6h0M768.5,175.8h0M768.5,202.2h0M768.5,215.4h0M768.5,228.6h0M768.5,241.8h0M768.5,255h0M768.5,387h0M768.5,400.2h0M768.5,413.4h0M768.5,426.6h0M768.5,439.8h0M768.5,466.2h0M768.5,479.4h0M768.5,492.6h0M768.5,505.8h0M768.5,519h0M768.5,545.4h0M768.5,558.6h0M768.5,571.8h0M768.5,585h0M768.5,598.2h0M768.5,624.6h0M768.5,637.8h0M768.5,651h0M768.5,664.2h0M768.5,677.4h0M794.9,57h0M794.9,70.2h0M794.9,83.4h0M794.9,96.6h0M794.9,109.8h0M794.9,136.2h0M794.9,149.4h0M794.9,162.6h0M794.9,175.8h0M794.9,189h0M794.9,215.4h0M794.9,228.6h0M794.9,241.8h0M794.9,255h0M794.9,268.2h0M794.9,294.6h0M794.9,307.8h0M794.9,321h0M794.9,334.2h0M794.9,347.4h0M794.9,373.8h0M794.9,387h0M794.9,400.2h0M794.9,413.4h0M794.9,426.6h0M794.9,453h0M794.9,466.2h0M794.9,479.4h0M794.9,492.6h0M794.9,505.8h0M794.9,532.2h0M794.9,545.4h0M794.9,558.6h0M794.9,571.8h0M794.9,585h0M794.9,611.4h0M794.9,624.6h0M794.9,637.8h0M794.9,651h0M794.9,664.2h0M794.9,690.6h0M794.9,703.8h0M794.9,717h0M794.9,730.2h0M794.9,743.4h0M794.9,769.8h0M794.9,783h0M794.9,796.2h0M794.9,809.4h0M794.9,822.6h0M808.1,57h0M808.1,70.2h0M808.1,83.4h0M808.1,96.6h0M808.1,109.8h0M808.1,136.2h0M808.1,149.4h0M808.1,162.6h0M808.1,175.8h0M808.1,189h0M808.1,215.4h0M808.1,228.6h0M808.1,241.8h0M808.1,255h0M808.1,268.2h0M808.1,294.6h0M808.1,307.8h0M808.1,321h0M808.1,334.2h0M808.1,347.4h0M808.1,373.8h0M808.1,387h0M808.1,400.2h0M808.1,413.4h0M808.1,426.6h0M808.1,453h0M808.1,466.2h0M808.1,479.4h0M808.1,492.6h0M808.1,505.8h0M808.1,532.2h0M808.1,545.4h0M808.1,558.6h0M808.1,571.8h0M808.1,585h0M808.1,611.4h0M808.1,624.6h0M808.1,637.8h0M808.1,651h0M808.1,664.2h0M808.1,690.6h0M808.1,703.8h0M808.1,717h0M808.1,730.2h0M808.1,743.4h0M808.1,769.8h0M808.1,783h0M808.1,796.2h0M808.1,809.4h0M808.1,822.6h0M847.8,30.6h0M847.8,43.8h0M847.8,57h0M847.8,70.2h0M847.8,83.4h0M847.8,96.6h0M847.8,109.8h0M847.8,123h0M847.8,136.2h0M847.8,149.4h0M847.8,162.6h0M847.8,175.8h0M847.8,189h0M847.8,202.2h0M847.8,215.4h0M847.8,228.6h0M847.8,241.8h0M847.8,255h0M847.8,268.2h0M847.8,281.4h0M847.8,294.6h0M847.8,307.8h0M847.8,321h0M847.8,334.2h0M847.8,347.4h0M847.8,360.6h0M847.8,373.8h0M847.8,387h0M847.8,400.2h0M847.8,413.4h0M847.8,426.6h0M847.8,439.8h0M847.8,453h0M847.8,466.2h0M847.8,479.4h0M847.8,492.6h0M847.8,505.8h0M847.8,519h0M847.8,532.2h0M847.8,545.4h0M847.8,558.6h0M847.8,571.8h0M847.8,585h0M847.8,598.2h0M847.8,611.4h0M847.8,624.6h0M847.8,637.8h0M847.8,651h0M847.8,664.2h0M847.8,677.4h0M847.8,690.6h0M847.8,703.8h0M847.8,717h0M847.8,730.2h0M847.8,743.4h0M847.8,756.6h0M847.8,769.8h0M847.8,783h0M847.8,796.2h0M847.8,809.4h0M847.8,822.6h0M847.8,835.8h0M847.8,849h0M860.9,30.6h0M860.9,43.8h0M860.9,57h0M860.9,70.2h0M860.9,83.4h0M860.9,96.6h0M860.9,109.8h0M860.9,123h0M860.9,136.2h0M860.9,149.4h0M860.9,162.6h0M860.9,175.8h0M860.9,189h0M860.9,202.2h0M860.9,215.4h0M860.9,228.6h0M860.9,241.8h0M860.9,255h0M860.9,268.2h0M860.9,281.4h0M860.9,294.6h0M860.9,307.8h0M860.9,321h0M860.9,334.2h0M860.9,347.4h0M860.9,360.6h0M860.9,373.8h0M860.9,387h0M860.9,400.2h0M860.9,413.4h0M860.9,426.6h0M860.9,439.8h0M860.9,453h0M860.9,466.2h0M860.9,479.4h0M860.9,492.6h0M860.9,505.8h0M860.9,519h0M860.9,532.2h0M860.9,545.4h0M860.9,558.6h0M860.9,571.8h0M860.9,585h0M860.9,598.2h0M860.9,611.4h0M860.9,624.6h0M860.9,637.8h0M860.9,651h0M860.9,664.2h0M860.9,677.4h0M860.9,690.6h0M860.9,703.8h0M860.9,717h0M860.9,730.2h0M860.9,743.4h0M860.9,756.6h0M860.9,769.8h0M860.9,783h0M860.9,796.2h0M860.9,809.4h0M860.9,822.6h0M860.9,835.8h0M860.9,849h0M874.1,30.6h0M874.1,43.8h0M874.1,57h0M874.1,70.2h0M874.1,83.4h0M874.1,96.6h0M874.1,109.8h0M874.1,123h0M874.1,136.2h0M874.1,149.4h0M874.1,162.6h0M874.1,175.8h0M874.1,189h0M874.1,202.2h0M874.1,215.4h0M874.1,228.6h0M874.1,241.8h0M874.1,255h0M874.1,268.2h0M874.1,281.4h0M874.1,294.6h0M874.1,307.8h0M874.1,321h0M874.1,334.2h0M874.1,347.4h0M874.1,360.6h0M874.1,373.8h0M874.1,387h0M874.1,400.2h0M874.1,413.4h0M874.1,426.6h0M874.1,439.8h0M874.1,453h0M874.1,466.2h0M874.1,479.4h0M874.1,492.6h0M874.1,505.8h0M874.1,519h0M874.1,532.2h0M874.1,545.4h0M874.1,558.6h0M874.1,571.8h0M874.1,585h0M874.1,598.2h0M874.1,611.4h0M874.1,624.6h0M874.1,637.8h0M874.1,651h0M874.1,664.2h0M874.1,677.4h0M874.1,690.6h0M874.1,703.8h0M874.1,717h0M874.1,730.2h0M874.1,743.4h0M874.1,756.6h0M874.1,769.8h0M874.1,783h0M874.1,796.2h0M874.1,809.4h0M874.1,822.6h0M874.1,835.8h0M874.1,849h0M887.4,30.6h0M887.4,43.8h0M887.4,57h0M887.4,70.2h0M887.4,83.4h0M887.4,96.6h0M887.4,109.8h0M887.4,123h0M887.4,136.2h0M887.4,149.4h0M887.4,162.6h0M887.4,175.8h0M887.4,189h0M887.4,202.2h0M887.4,215.4h0M887.4,228.6h0M887.4,241.8h0M887.4,255h0M887.4,268.2h0M887.4,281.4h0M887.4,294.6h0M887.4,307.8h0M887.4,321h0M887.4,334.2h0M887.4,347.4h0M887.4,360.6h0M887.4,373.8h0M887.4,387h0M887.4,400.2h0M887.4,413.4h0M887.4,426.6h0M887.4,439.8h0M887.4,453h0M887.4,466.2h0M887.4,479.4h0M887.4,492.6h0M887.4,505.8h0M887.4,519h0M887.4,532.2h0M887.4,545.4h0M887.4,558.6h0M887.4,571.8h0M887.4,585h0M887.4,598.2h0M887.4,611.4h0M887.4,624.6h0M887.4,637.8h0M887.4,651h0M887.4,664.2h0M887.4,677.4h0M887.4,690.6h0M887.4,703.8h0M887.4,717h0M887.4,730.2h0M887.4,743.4h0M887.4,756.6h0M887.4,769.8h0M887.4,783h0M887.4,796.2h0M887.4,809.4h0M887.4,822.6h0M887.4,835.8h0M887.4,849h0M900.5,30.6h0M900.5,43.8h0M900.5,57h0M900.5,70.2h0M900.5,83.4h0M900.5,96.6h0M900.5,109.8h0M900.5,123h0M900.5,136.2h0M900.5,149.4h0M900.5,162.6h0M900.5,175.8h0M900.5,189h0M900.5,202.2h0M900.5,215.4h0M900.5,228.6h0M900.5,241.8h0M900.5,255h0M900.5,268.2h0M900.5,281.4h0M900.5,294.6h0M900.5,307.8h0M900.5,321h0M900.5,334.2h0M900.5,347.4h0M900.5,360.6h0M900.5,373.8h0M900.5,387h0M900.5,400.2h0M900.5,413.4h0M900.5,426.6h0M900.5,439.8h0M900.5,453h0M900.5,466.2h0M900.5,479.4h0M900.5,492.6h0M900.5,505.8h0M900.5,519h0M900.5,532.2h0M900.5,545.4h0M900.5,558.6h0M900.5,571.8h0M900.5,585h0M900.5,598.2h0M900.5,611.4h0M900.5,624.6h0M900.5,637.8h0M900.5,651h0M900.5,664.2h0M900.5,677.4h0M900.5,690.6h0M900.5,703.8h0M900.5,717h0M900.5,730.2h0M900.5,743.4h0M900.5,756.6h0M900.5,769.8h0M900.5,783h0M900.5,796.2h0M900.5,809.4h0M900.5,822.6h0M900.5,835.8h0M900.5,849h0M940.1,30.6h0M940.1,43.8h0M940.1,57h0M940.1,70.2h0M940.1,83.4h0M940.1,96.6h0M940.1,109.8h0M940.1,123h0M940.1,136.2h0M940.1,149.4h0M940.1,162.6h0M940.1,175.8h0M940.1,189h0M940.1,202.2h0M940.1,215.4h0M940.1,228.6h0M940.1,241.8h0M940.1,255h0M940.1,268.2h0M940.1,281.4h0M940.1,294.6h0M940.1,307.8h0M940.1,321h0M940.1,334.2h0M940.1,347.4h0M940.1,360.6h0M940.1,373.8h0M940.1,387h0M940.1,400.2h0M940.1,413.4h0M940.1,426.6h0M940.1,439.8h0M940.1,453h0M940.1,466.2h0M940.1,479.4h0M940.1,492.6h0M940.1,505.8h0M940.1,519h0M940.1,532.2h0M940.1,545.4h0M940.1,558.6h0M940.1,571.8h0M940.1,585h0M940.1,598.2h0M940.1,611.4h0M940.1,624.6h0M940.1,637.8h0M940.1,651h0M940.1,664.2h0M940.1,677.4h0M940.1,690.6h0M940.1,703.8h0M940.1,717h0M940.1,730.2h0M940.1,743.4h0M940.1,756.6h0M940.1,769.8h0M940.1,783h0M940.1,796.2h0M940.1,809.4h0M940.1,822.6h0M940.1,835.8h0M940.1,849h0M953.4,30.6h0M953.4,43.8h0M953.4,57h0M953.4,70.2h0M953.4,83.4h0M953.4,96.6h0M953.4,109.8h0M953.4,123h0M953.4,136.2h0M953.4,149.4h0M953.4,162.6h0M953.4,175.8h0M953.4,189h0M953.4,202.2h0M953.4,215.4h0M953.4,228.6h0M953.4,241.8h0M953.4,255h0M953.4,268.2h0M953.4,281.4h0M953.4,294.6h0M953.4,307.8h0M953.4,321h0M953.4,334.2h0M953.4,347.4h0M953.4,360.6h0M953.4,373.8h0M953.4,387h0M953.4,400.2h0M953.4,413.4h0M953.4,426.6h0M953.4,439.8h0M953.4,453h0M953.4,466.2h0M953.4,479.4h0M953.4,492.6h0M953.4,505.8h0M953.4,519h0M953.4,532.2h0M953.4,545.4h0M953.4,558.6h0M953.4,571.8h0M953.4,585h0M953.4,598.2h0M953.4,611.4h0M953.4,624.6h0M953.4,637.8h0M953.4,651h0M953.4,664.2h0M953.4,677.4h0M953.4,690.6h0M953.4,703.8h0M953.4,717h0M953.4,730.2h0M953.4,743.4h0M953.4,756.6h0M953.4,769.8h0M953.4,783h0M953.4,796.2h0M953.4,809.4h0M953.4,822.6h0M953.4,835.8h0M953.4,849h0M966.5,30.6h0M966.5,43.8h0M966.5,57h0M966.5,70.2h0M966.5,83.4h0M966.5,96.6h0M966.5,109.8h0M966.5,123h0M966.5,136.2h0M966.5,149.4h0M966.5,162.6h0M966.5,175.8h0M966.5,189h0M966.5,202.2h0M966.5,215.4h0M966.5,228.6h0M966.5,241.8h0M966.5,255h0M966.5,268.2h0M966.5,281.4h0M966.5,294.6h0M966.5,307.8h0M966.5,321h0M966.5,334.2h0M966.5,347.4h0M966.5,360.6h0M966.5,373.8h0M966.5,387h0M966.5,400.2h0M966.5,413.4h0M966.5,426.6h0M966.5,439.8h0M966.5,453h0M966.5,466.2h0M966.5,479.4h0M966.5,492.6h0M966.5,505.8h0M966.5,519h0M966.5,532.2h0M966.5,545.4h0M966.5,558.6h0M966.5,571.8h0M966.5,585h0M966.5,598.2h0M966.5,611.4h0M966.5,624.6h0M966.5,637.8h0M966.5,651h0M966.5,664.2h0M966.5,677.4h0M966.5,690.6h0M966.5,703.8h0M966.5,717h0M966.5,730.2h0M966.5,743.4h0M966.5,756.6h0M966.5,769.8h0M966.5,783h0M966.5,796.2h0M966.5,809.4h0M966.5,822.6h0M966.5,835.8h0M966.5,849h0M979.8,30.6h0M979.8,43.8h0M979.8,57h0M979.8,70.2h0M979.8,83.4h0M979.8,96.6h0M979.8,109.8h0M979.8,123h0M979.8,136.2h0M979.8,149.4h0M979.8,162.6h0M979.8,175.8h0M979.8,189h0M979.8,202.2h0M979.8,215.4h0M979.8,228.6h0M979.8,241.8h0M979.8,255h0M979.8,268.2h0M979.8,281.4h0M979.8,294.6h0M979.8,307.8h0M979.8,321h0M979.8,334.2h0M979.8,347.4h0M979.8,360.6h0M979.8,373.8h0M979.8,387h0M979.8,400.2h0M979.8,413.4h0M979.8,426.6h0M979.8,439.8h0M979.8,453h0M979.8,466.2h0M979.8,479.4h0M979.8,492.6h0M979.8,505.8h0M979.8,519h0M979.8,532.2h0M979.8,545.4h0M979.8,558.6h0M979.8,571.8h0M979.8,585h0M979.8,598.2h0M979.8,611.4h0M979.8,624.6h0M979.8,637.8h0M979.8,651h0M979.8,664.2h0M979.8,677.4h0M979.8,690.6h0M979.8,703.8h0M979.8,717h0M979.8,730.2h0M979.8,743.4h0M979.8,756.6h0M979.8,769.8h0M979.8,783h0M979.8,796.2h0M979.8,809.4h0M979.8,822.6h0M979.8,835.8h0M979.8,849h0M992.9,30.6h0M992.9,43.8h0M992.9,57h0M992.9,70.2h0M992.9,83.4h0M992.9,96.6h0M992.9,109.8h0M992.9,123h0M992.9,136.2h0M992.9,149.4h0M992.9,162.6h0M992.9,175.8h0M992.9,189h0M992.9,202.2h0M992.9,215.4h0M992.9,228.6h0M992.9,241.8h0M992.9,255h0M992.9,268.2h0M992.9,281.4h0M992.9,294.6h0M992.9,307.8h0M992.9,321h0M992.9,334.2h0M992.9,347.4h0M992.9,360.6h0M992.9,373.8h0M992.9,387h0M992.9,400.2h0M992.9,413.4h0M992.9,426.6h0M992.9,439.8h0M992.9,453h0M992.9,466.2h0M992.9,479.4h0M992.9,492.6h0M992.9,505.8h0M992.9,519h0M992.9,532.2h0M992.9,545.4h0M992.9,558.6h0M992.9,571.8h0M992.9,585h0M992.9,598.2h0M992.9,611.4h0M992.9,624.6h0M992.9,637.8h0M992.9,651h0M992.9,664.2h0M992.9,677.4h0M992.9,690.6h0M992.9,703.8h0M992.9,717h0M992.9,730.2h0M992.9,743.4h0M992.9,756.6h0M992.9,769.8h0M992.9,783h0M992.9,796.2h0M992.9,809.4h0M992.9,822.6h0M992.9,835.8h0M992.9,849h0M1032.5,57h0M1032.5,70.2h0M1032.5,83.4h0M1032.5,96.6h0M1032.5,109.8h0M1032.5,136.2h0M1032.5,149.4h0M1032.5,162.6h0M1032.5,175.8h0M1032.5,189h0M1032.5,215.4h0M1032.5,228.6h0M1032.5,241.8h0M1032.5,255h0M1032.5,268.2h0M1032.5,294.6h0M1032.5,307.8h0M1032.5,321h0M1032.5,334.2h0M1032.5,347.4h0M1032.5,373.8h0M1032.5,387h0M1032.5,400.2h0M1032.5,413.4h0M1032.5,426.6h0M1032.5,453h0M1032.5,466.2h0M1032.5,479.4h0M1032.5,492.6h0M1032.5,505.8h0M1032.5,532.2h0M1032.5,545.4h0M1032.5,558.6h0M1032.5,571.8h0M1032.5,585h0M1032.5,611.4h0M1032.5,624.6h0M1032.5,637.8h0M1032.5,651h0M1032.5,664.2h0M1032.5,690.6h0M1032.5,703.8h0M1032.5,717h0M1032.5,730.2h0M1032.5,743.4h0M1032.5,769.8h0M1032.5,783h0M1032.5,796.2h0M1032.5,809.4h0M1032.5,822.6h0M1045.8,57h0M1045.8,70.2h0M1045.8,83.4h0M1045.8,96.6h0M1045.8,109.8h0M1045.8,136.2h0M1045.8,149.4h0M1045.8,162.6h0M1045.8,175.8h0M1045.8,189h0M1045.8,215.4h0M1045.8,228.6h0M1045.8,241.8h0M1045.8,255h0M1045.8,268.2h0M1045.8,294.6h0M1045.8,307.8h0M1045.8,321h0M1045.8,334.2h0M1045.8,347.4h0M1045.8,373.8h0M1045.8,387h0M1045.8,400.2h0M1045.8,413.4h0M1045.8,426.6h0M1045.8,453h0M1045.8,466.2h0M1045.8,479.4h0M1045.8,492.6h0M1045.8,505.8h0M1045.8,532.2h0M1045.8,545.4h0M1045.8,558.6h0M1045.8,571.8h0M1045.8,585h0M1045.8,611.4h0M1045.8,624.6h0M1045.8,637.8h0M1045.8,651h0M1045.8,664.2h0M1045.8,690.6h0M1045.8,703.8h0M1045.8,717h0M1045.8,730.2h0M1045.8,743.4h0M1045.8,769.8h0M1045.8,783h0M1045.8,796.2h0M1045.8,809.4h0M1045.8,822.6h0M1072.1,57h0M1072.1,70.2h0M1072.1,83.4h0M1072.1,96.6h0M1072.1,109.8h0M1072.1,136.2h0M1072.1,149.4h0M1072.1,162.6h0M1072.1,175.8h0M1072.1,189h0M1072.1,215.4h0M1072.1,228.6h0M1072.1,241.8h0M1072.1,255h0M1072.1,268.2h0M1072.1,294.6h0M1072.1,307.8h0M1072.1,321h0M1072.1,334.2h0M1072.1,347.4h0M1072.1,373.8h0M1072.1,387h0M1072.1,400.2h0M1072.1,413.4h0M1072.1,426.6h0M1072.1,453h0M1072.1,466.2h0M1072.1,479.4h0M1072.1,492.6h0M1072.1,505.8h0M1072.1,532.2h0M1072.1,545.4h0M1072.1,558.6h0M1072.1,571.8h0M1072.1,585h0M1072.1,611.4h0M1072.1,624.6h0M1072.1,637.8h0M1072.1,651h0M1072.1,664.2h0M1072.1,690.6h0M1072.1,703.8h0M1072.1,717h0M1072.1,730.2h0M1072.1,743.4h0M1072.1,769.8h0M1072.1,783h0M1072.1,796.2h0M1072.1,809.4h0M1072.1,822.6h0M1085.3,57h0M1085.3,70.2h0M1085.3,83.4h0M1085.3,96.6h0M1085.3,109.8h0M1085.3,136.2h0M1085.3,149.4h0M1085.3,162.6h0M1085.3,175.8h0M1085.3,189h0M1085.3,215.4h0M1085.3,228.6h0M1085.3,241.8h0M1085.3,255h0M1085.3,268.2h0M1085.3,294.6h0M1085.3,307.8h0M1085.3,321h0M1085.3,334.2h0M1085.3,347.4h0M1085.3,373.8h0M1085.3,387h0M1085.3,400.2h0M1085.3,413.4h0M1085.3,426.6h0M1085.3,453h0M1085.3,466.2h0M1085.3,479.4h0M1085.3,492.6h0M1085.3,505.8h0M1085.3,532.2h0M1085.3,545.4h0M1085.3,558.6h0M1085.3,571.8h0M1085.3,585h0M1085.3,611.4h0M1085.3,624.6h0M1085.3,637.8h0M1085.3,651h0M1085.3,664.2h0M1085.3,690.6h0M1085.3,703.8h0M1085.3,717h0M1085.3,730.2h0M1085.3,743.4h0M1085.3,769.8h0M1085.3,783h0M1085.3,796.2h0M1085.3,809.4h0M1085.3,822.6h0M1124.9,30.6h0M1124.9,43.8h0M1124.9,57h0M1124.9,70.2h0M1124.9,83.4h0M1124.9,96.6h0M1124.9,109.8h0M1124.9,123h0M1124.9,136.2h0M1124.9,149.4h0M1124.9,162.6h0M1124.9,175.8h0M1124.9,189h0M1124.9,202.2h0M1124.9,215.4h0M1124.9,228.6h0M1124.9,241.8h0M1124.9,255h0M1124.9,268.2h0M1124.9,281.4h0M1124.9,294.6h0M1124.9,307.8h0M1124.9,321h0M1124.9,334.2h0M1124.9,347.4h0M1124.9,360.6h0M1124.9,373.8h0M1124.9,387h0M1124.9,400.2h0M1124.9,413.4h0M1124.9,426.6h0M1124.9,439.8h0M1124.9,453h0M1124.9,466.2h0M1124.9,479.4h0M1124.9,492.6h0M1124.9,505.8h0M1124.9,519h0M1124.9,532.2h0M1124.9,545.4h0M1124.9,558.6h0M1124.9,571.8h0M1124.9,585h0M1124.9,598.2h0M1124.9,611.4h0M1124.9,624.6h0M1124.9,637.8h0M1124.9,651h0M1124.9,664.2h0M1124.9,677.4h0M1124.9,690.6h0M1124.9,703.8h0M1124.9,717h0M1124.9,730.2h0M1124.9,743.4h0M1124.9,756.6h0M1124.9,769.8h0M1124.9,783h0M1124.9,796.2h0M1124.9,809.4h0M1124.9,822.6h0M1124.9,835.8h0M1124.9,849h0M1138.1,30.6h0M1138.1,43.8h0M1138.1,57h0M1138.1,70.2h0M1138.1,83.4h0M1138.1,96.6h0M1138.1,109.8h0M1138.1,123h0M1138.1,136.2h0M1138.1,149.4h0M1138.1,162.6h0M1138.1,175.8h0M1138.1,189h0M1138.1,202.2h0M1138.1,215.4h0M1138.1,228.6h0M1138.1,241.8h0M1138.1,255h0M1138.1,268.2h0M1138.1,281.4h0M1138.1,294.6h0M1138.1,307.8h0M1138.1,321h0M1138.1,334.2h0M1138.1,347.4h0M1138.1,360.6h0M1138.1,373.8h0M1138.1,387h0M1138.1,400.2h0M1138.1,413.4h0M1138.1,426.6h0M1138.1,439.8h0M1138.1,453h0M1138.1,466.2h0M1138.1,479.4h0M1138.1,492.6h0M1138.1,505.8h0M1138.1,519h0M1138.1,532.2h0M1138.1,545.4h0M1138.1,558.6h0M1138.1,571.8h0M1138.1,585h0M1138.1,598.2h0M1138.1,611.4h0M1138.1,624.6h0M1138.1,637.8h0M1138.1,651h0M1138.1,664.2h0M1138.1,677.4h0M1138.1,690.6h0M1138.1,703.8h0M1138.1,717h0M1138.1,730.2h0M1138.1,743.4h0M1138.1,756.6h0M1138.1,769.8h0M1138.1,783h0M1138.1,796.2h0M1138.1,809.4h0M1138.1,822.6h0M1138.1,835.8h0M1138.1,849h0M1151.3,30.6h0M1151.3,43.8h0M1151.3,57h0M1151.3,70.2h0M1151.3,83.4h0M1151.3,96.6h0M1151.3,109.8h0M1151.3,123h0M1151.3,136.2h0M1151.3,149.4h0M1151.3,162.6h0M1151.3,175.8h0M1151.3,189h0M1151.3,202.2h0M1151.3,215.4h0M1151.3,228.6h0M1151.3,241.8h0M1151.3,255h0M1151.3,268.2h0M1151.3,281.4h0M1151.3,294.6h0M1151.3,307.8h0M1151.3,321h0M1151.3,334.2h0M1151.3,347.4h0M1151.3,360.6h0M1151.3,373.8h0M1151.3,387h0M1151.3,400.2h0M1151.3,413.4h0M1151.3,426.6h0M1151.3,439.8h0M1151.3,453h0M1151.3,466.2h0M1151.3,479.4h0M1151.3,492.6h0M1151.3,505.8h0M1151.3,519h0M1151.3,532.2h0M1151.3,545.4h0M1151.3,558.6h0M1151.3,571.8h0M1151.3,585h0M1151.3,598.2h0M1151.3,611.4h0M1151.3,624.6h0M1151.3,637.8h0M1151.3,651h0M1151.3,664.2h0M1151.3,677.4h0M1151.3,690.6h0M1151.3,703.8h0M1151.3,717h0M1151.3,730.2h0M1151.3,743.4h0M1151.3,756.6h0M1151.3,769.8h0M1151.3,783h0M1151.3,796.2h0M1151.3,809.4h0M1151.3,822.6h0M1151.3,835.8h0M1151.3,849h0M1164.5,30.6h0M1164.5,43.8h0M1164.5,57h0M1164.5,70.2h0M1164.5,83.4h0M1164.5,96.6h0M1164.5,109.8h0M1164.5,123h0M1164.5,136.2h0M1164.5,149.4h0M1164.5,162.6h0M1164.5,175.8h0M1164.5,189h0M1164.5,202.2h0M1164.5,215.4h0M1164.5,228.6h0M1164.5,241.8h0M1164.5,255h0M1164.5,268.2h0M1164.5,281.4h0M1164.5,294.6h0M1164.5,307.8h0M1164.5,321h0M1164.5,334.2h0M1164.5,347.4h0M1164.5,360.6h0M1164.5,373.8h0M1164.5,387h0M1164.5,400.2h0M1164.5,413.4h0M1164.5,426.6h0M1164.5,439.8h0M1164.5,453h0M1164.5,466.2h0M1164.5,479.4h0M1164.5,492.6h0M1164.5,505.8h0M1164.5,519h0M1164.5,532.2h0M1164.5,545.4h0M1164.5,558.6h0M1164.5,571.8h0M1164.5,585h0M1164.5,598.2h0M1164.5,611.4h0M1164.5,624.6h0M1164.5,637.8h0M1164.5,651h0M1164.5,664.2h0M1164.5,677.4h0M1164.5,690.6h0M1164.5,703.8h0M1164.5,717h0M1164.5,730.2h0M1164.5,743.4h0M1164.5,756.6h0M1164.5,769.8h0M1164.5,783h0M1164.5,796.2h0M1164.5,809.4h0M1164.5,822.6h0M1164.5,835.8h0M1164.5,849h0M1177.7,30.6h0M1177.7,43.8h0M1177.7,57h0M1177.7,70.2h0M1177.7,83.4h0M1177.7,96.6h0M1177.7,109.8h0M1177.7,123h0M1177.7,136.2h0M1177.7,149.4h0M1177.7,162.6h0M1177.7,175.8h0M1177.7,189h0M1177.7,202.2h0M1177.7,215.4h0M1177.7,228.6h0M1177.7,241.8h0M1177.7,255h0M1177.7,268.2h0M1177.7,281.4h0M1177.7,294.6h0M1177.7,307.8h0M1177.7,321h0M1177.7,334.2h0M1177.7,347.4h0M1177.7,360.6h0M1177.7,373.8h0M1177.7,387h0M1177.7,400.2h0M1177.7,413.4h0M1177.7,426.6h0M1177.7,439.8h0M1177.7,453h0M1177.7,466.2h0M1177.7,479.4h0M1177.7,492.6h0M1177.7,505.8h0M1177.7,519h0M1177.7,532.2h0M1177.7,545.4h0M1177.7,558.6h0M1177.7,571.8h0M1177.7,585h0M1177.7,598.2h0M1177.7,611.4h0M1177.7,624.6h0M1177.7,637.8h0M1177.7,651h0M1177.7,664.2h0M1177.7,677.4h0M1177.7,690.6h0M1177.7,703.8h0M1177.7,717h0M1177.7,730.2h0M1177.7,743.4h0M1177.7,756.6h0M1177.7,769.8h0M1177.7,783h0M1177.7,796.2h0M1177.7,809.4h0M1177.7,822.6h0M1177.7,835.8h0M1177.7,849h0M1217.3,30.6h0M1217.3,43.8h0M1217.3,57h0M1217.3,70.2h0M1217.3,83.4h0M1217.3,96.6h0M1217.3,109.8h0M1217.3,123h0M1217.3,136.2h0M1217.3,149.4h0M1217.3,162.6h0M1217.3,175.8h0M1217.3,189h0M1217.3,202.2h0M1217.3,215.4h0M1217.3,228.6h0M1217.3,241.8h0M1217.3,255h0M1217.3,268.2h0M1217.3,281.4h0M1217.3,294.6h0M1217.3,307.8h0M1217.3,321h0M1217.3,334.2h0M1217.3,347.4h0M1217.3,360.6h0M1217.3,373.8h0M1217.3,387h0M1217.3,400.2h0M1217.3,413.4h0M1217.3,426.6h0M1217.3,439.8h0M1217.3,453h0M1217.3,466.2h0M1217.3,479.4h0M1217.3,492.6h0M1217.3,505.8h0M1217.3,519h0M1217.3,532.2h0M1217.3,545.4h0M1217.3,558.6h0M1217.3,571.8h0M1217.3,585h0M1217.3,598.2h0M1217.3,611.4h0M1217.3,624.6h0M1217.3,637.8h0M1217.3,651h0M1217.3,664.2h0M1217.3,677.4h0M1217.3,690.6h0M1217.3,703.8h0M1217.3,717h0M1217.3,730.2h0M1217.3,743.4h0M1217.3,756.6h0M1217.3,769.8h0M1217.3,783h0M1217.3,796.2h0M1217.3,809.4h0M1217.3,822.6h0M1217.3,835.8h0M1217.3,849h0M1230.5,30.6h0M1230.5,43.8h0M1230.5,57h0M1230.5,70.2h0M1230.5,83.4h0M1230.5,96.6h0M1230.5,109.8h0M1230.5,123h0M1230.5,136.2h0M1230.5,149.4h0M1230.5,162.6h0M1230.5,175.8h0M1230.5,189h0M1230.5,202.2h0M1230.5,215.4h0M1230.5,228.6h0M1230.5,241.8h0M1230.5,255h0M1230.5,268.2h0M1230.5,281.4h0M1230.5,294.6h0M1230.5,307.8h0M1230.5,321h0M1230.5,334.2h0M1230.5,347.4h0M1230.5,360.6h0M1230.5,373.8h0M1230.5,387h0M1230.5,400.2h0M1230.5,413.4h0M1230.5,426.6h0M1230.5,439.8h0M1230.5,453h0M1230.5,466.2h0M1230.5,479.4h0M1230.5,492.6h0M1230.5,505.8h0M1230.5,519h0M1230.5,532.2h0M1230.5,545.4h0M1230.5,558.6h0M1230.5,571.8h0M1230.5,585h0M1230.5,598.2h0M1230.5,611.4h0M1230.5,624.6h0M1230.5,637.8h0M1230.5,651h0M1230.5,664.2h0M1230.5,677.4h0M1230.5,690.6h0M1230.5,703.8h0M1230.5,717h0M1230.5,730.2h0M1230.5,743.4h0M1230.5,756.6h0M1230.5,769.8h0M1230.5,783h0M1230.5,796.2h0M1230.5,809.4h0M1230.5,822.6h0M1230.5,835.8h0M1230.5,849h0M1243.7,30.6h0M1243.7,43.8h0M1243.7,57h0M1243.7,70.2h0M1243.7,83.4h0M1243.7,96.6h0M1243.7,109.8h0M1243.7,123h0M1243.7,136.2h0M1243.7,149.4h0M1243.7,162.6h0M1243.7,175.8h0M1243.7,189h0M1243.7,202.2h0M1243.7,215.4h0M1243.7,228.6h0M1243.7,241.8h0M1243.7,255h0M1243.7,268.2h0M1243.7,281.4h0M1243.7,294.6h0M1243.7,307.8h0M1243.7,321h0M1243.7,334.2h0M1243.7,347.4h0M1243.7,360.6h0M1243.7,373.8h0M1243.7,387h0M1243.7,400.2h0M1243.7,413.4h0M1243.7,426.6h0M1243.7,439.8h0M1243.7,453h0M1243.7,466.2h0M1243.7,479.4h0M1243.7,492.6h0M1243.7,505.8h0M1243.7,519h0M1243.7,532.2h0M1243.7,545.4h0M1243.7,558.6h0M1243.7,571.8h0M1243.7,585h0M1243.7,598.2h0M1243.7,611.4h0M1243.7,624.6h0M1243.7,637.8h0M1243.7,651h0M1243.7,664.2h0M1243.7,677.4h0M1243.7,690.6h0M1243.7,703.8h0M1243.7,717h0M1243.7,730.2h0M1243.7,743.4h0M1243.7,756.6h0M1243.7,769.8h0M1243.7,783h0M1243.7,796.2h0M1243.7,809.4h0M1243.7,822.6h0M1243.7,835.8h0M1243.7,849h0M1256.9,30.6h0M1256.9,43.8h0M1256.9,57h0M1256.9,70.2h0M1256.9,83.4h0M1256.9,96.6h0M1256.9,109.8h0M1256.9,123h0M1256.9,136.2h0M1256.9,149.4h0M1256.9,162.6h0M1256.9,175.8h0M1256.9,189h0M1256.9,202.2h0M1256.9,215.4h0M1256.9,228.6h0M1256.9,241.8h0M1256.9,255h0M1256.9,268.2h0M1256.9,281.4h0M1256.9,294.6h0M1256.9,307.8h0M1256.9,321h0M1256.9,334.2h0M1256.9,347.4h0M1256.9,360.6h0M1256.9,373.8h0M1256.9,387h0M1256.9,400.2h0M1256.9,413.4h0M1256.9,426.6h0M1256.9,439.8h0M1256.9,453h0M1256.9,466.2h0M1256.9,479.4h0M1256.9,492.6h0M1256.9,505.8h0M1256.9,519h0M1256.9,532.2h0M1256.9,545.4h0M1256.9,558.6h0M1256.9,571.8h0M1256.9,585h0M1256.9,598.2h0M1256.9,611.4h0M1256.9,624.6h0M1256.9,637.8h0M1256.9,651h0M1256.9,664.2h0M1256.9,677.4h0M1256.9,690.6h0M1256.9,703.8h0M1256.9,717h0M1256.9,730.2h0M1256.9,743.4h0M1256.9,756.6h0M1256.9,769.8h0M1256.9,783h0M1256.9,796.2h0M1256.9,809.4h0M1256.9,822.6h0M1256.9,835.8h0M1256.9,849h0"/><path id="hc" d="M29.4,136.2h0M29.4,189h0M42.5,136.2h0M42.5,189h0M55.8,136.2h0M55.8,189h0M68.9,136.2h0M68.9,189h0M82.2,136.2h0M82.2,189h0M121.8,43.8h0M121.8,57h0M121.8,83.4h0M121.8,96.6h0M121.8,109.8h0M121.8,136.2h0M121.8,149.4h0M121.8,175.8h0M121.8,189h0M121.8,202.2h0M121.8,228.6h0M121.8,241.8h0M121.8,268.2h0M121.8,281.4h0M121.8,294.6h0M121.8,321h0M121.8,334.2h0M121.8,360.6h0M121.8,373.8h0M121.8,387h0M121.8,413.4h0M121.8,426.6h0M121.8,453h0M121.8,466.2h0M121.8,479.4h0M121.8,505.8h0M121.8,519h0M121.8,545.4h0M121.8,558.6h0M121.8,571.8h0M121.8,598.2h0M121.8,611.4h0M121.8,637.8h0M121.8,651h0M121.8,664.2h0M134.9,43.8h0M134.9,57h0M134.9,83.4h0M134.9,96.6h0M134.9,109.8h0M134.9,136.2h0M134.9,149.4h0M134.9,175.8h0M134.9,189h0M134.9,202.2h0M134.9,228.6h0M134.9,241.8h0M134.9,268.2h0M134.9,281.4h0M134.9,294.6h0M134.9,321h0M134.9,334.2h0M134.9,360.6h0M134.9,373.8h0M134.9,387h0M134.9,413.4h0M134.9,426.6h0M134.9,453h0M134.9,466.2h0M134.9,479.4h0M134.9,505.8h0M134.9,519h0M134.9,545.4h0M134.9,558.6h0M134.9,571.8h0M134.9,598.2h0M134.9,611.4h0M134.9,637.8h0M134.9,651h0M134.9,664.2h0M148.2,43.8h0M148.2,57h0M148.2,83.4h0M148.2,96.6h0M148.2,109.8h0M148.2,136.2h0M148.2,149.4h0M148.2,175.8h0M148.2,189h0M148.2,202.2h0M148.2,228.6h0M148.2,241.8h0M148.2,268.2h0M148.2,281.4h0M148.2,294.6h0M148.2,321h0M148.2,334.2h0M148.2,360.6h0M148.2,373.8h0M148.2,387h0M148.2,413.4h0M148.2,426.6h0M148.2,453h0M148.2,466.2h0M148.2,479.4h0M148.2,505.8h0M148.2,519h0M148.2,545.4h0M148.2,558.6h0M148.2,571.8h0M148.2,598.2h0M148.2,611.4h0M148.2,637.8h0M148.2,651h0M148.2,664.2h0M161.3,43.8h0M161.3,57h0M161.3,83.4h0M161.3,96.6h0M161.3,109.8h0M161.3,136.2h0M161.3,149.4h0M161.3,175.8h0M161.3,189h0M161.3,202.2h0M161.3,228.6h0M161.3,241.8h0M161.3,268.2h0M161.3,281.4h0M161.3,294.6h0M161.3,321h0M161.3,334.2h0M161.3,360.6h0M161.3,373.8h0M161.3,387h0M161.3,413.4h0M161.3,426.6h0M161.3,453h0M161.3,466.2h0M161.3,479.4h0M161.3,505.8h0M161.3,519h0M161.3,545.4h0M161.3,558.6h0M161.3,571.8h0M161.3,598.2h0M161.3,611.4h0M161.3,637.8h0M161.3,651h0M161.3,664.2h0M174.5,43.8h0M174.5,57h0M174.5,83.4h0M174.5,96.6h0M174.5,109.8h0M174.5,136.2h0M174.5,149.4h0M174.5,175.8h0M174.5,189h0M174.5,202.2h0M174.5,228.6h0M174.5,241.8h0M174.5,268.2h0M174.5,281.4h0M174.5,294.6h0M174.5,321h0M174.5,334.2h0M174.5,360.6h0M174.5,373.8h0M174.5,387h0M174.5,413.4h0M174.5,426.6h0M174.5,453h0M174.5,466.2h0M174.5,479.4h0M174.5,505.8h0M174.5,519h0M174.5,545.4h0M174.5,558.6h0M174.5,571.8h0M174.5,598.2h0M174.5,611.4h0M174.5,637.8h0M174.5,651h0M174.5,664.2h0M293.4,70.2h0M293.4,83.4h0M293.4,96.6h0M293.4,109.8h0M293.4,123h0M293.4,149.4h0M293.4,162.6h0M293.4,175.8h0M293.4,189h0M293.4,202.2h0M293.4,228.6h0M293.4,241.8h0M293.4,255h0M293.4,268.2h0M293.4,281.4h0M293.4,307.8h0M293.4,321h0M293.4,334.2h0M293.4,347.4h0M293.4,360.6h0M293.4,387h0M293.4,400.2h0M293.4,413.4h0M293.4,426.6h0M293.4,439.8h0M293.4,466.2h0M293.4,479.4h0M293.4,492.6h0M293.4,505.8h0M293.4,519h0M293.4,545.4h0M293.4,558.6h0M293.4,571.8h0M293.4,585h0M293.4,598.2h0M293.4,624.6h0M293.4,637.8h0M293.4,651h0M293.4,664.2h0M293.4,677.4h0M293.4,703.8h0M293.4,717h0M293.4,730.2h0M293.4,743.4h0M293.4,756.6h0M293.4,783h0M293.4,796.2h0M293.4,809.4h0M293.4,822.6h0M293.4,835.8h0M306.6,70.2h0M306.6,83.4h0M306.6,96.6h0M306.6,109.8h0M306.6,123h0M306.6,149.4h0M306.6,162.6h0M306.6,175.8h0M306.6,189h0M306.6,202.2h0M306.6,228.6h0M306.6,241.8h0M306.6,255h0M306.6,268.2h0M306.6,281.4h0M306.6,307.8h0M306.6,321h0M306.6,334.2h0M306.6,347.4h0M306.6,360.6h0M306.6,387h0M306.6,400.2h0M306.6,413.4h0M306.6,426.6h0M306.6,439.8h0M306.6,466.2h0M306.6,479.4h0M306.6,492.6h0M306.6,505.8h0M306.6,519h0M306.6,545.4h0M306.6,558.6h0M306.6,571.8h0M306.6,585h0M306.6,598.2h0M306.6,624.6h0M306.6,637.8h0M306.6,651h0M306.6,664.2h0M306.6,677.4h0M306.6,703.8h0M306.6,717h0M306.6,730.2h0M306.6,743.4h0M306.6,756.6h0M306.6,783h0M306.6,796.2h0M306.6,809.4h0M306.6,822.6h0M306.6,835.8h0M346.1,43.8h0M346.1,57h0M346.1,70.2h0M346.1,83.4h0M346.1,109.8h0M346.1,123h0M346.1,136.2h0M346.1,149.4h0M346.1,175.8h0M346.1,189h0M346.1,202.2h0M346.1,215.4h0M346.1,241.8h0M346.1,255h0M346.1,268.2h0M346.1,281.4h0M346.1,307.8h0M346.1,321h0M346.1,334.2h0M346.1,347.4h0M346.1,373.8h0M346.1,387h0M346.1,400.2h0M346.1,413.4h0M346.1,439.8h0M346.1,453h0M346.1,466.2h0M346.1,479.4h0M346.1,690.6h0M346.1,703.8h0M346.1,717h0M346.1,730.2h0M346.1,743.4h0M346.1,769.8h0M346.1,783h0M346.1,796.2h0M346.1,835.8h0M359.4,43.8h0M359.4,57h0M359.4,70.2h0M359.4,83.4h0M359.4,109.8h0M359.4,123h0M359.4,136.2h0M359.4,149.4h0M359.4,175.8h0M359.4,189h0M359.4,202.2h0M359.4,215.4h0M359.4,241.8h0M359.4,255h0M359.4,268.2h0M359.4,281.4h0M359.4,307.8h0M359.4,321h0M359.4,334.2h0M359.4,347.4h0M359.4,373.8h0M359.4,387h0M359.4,400.2h0M359.4,413.4h0M359.4,439.8h0M359.4,453h0M359.4,466.2h0M359.4,479.4h0M359.4,690.6h0M359.4,703.8h0M359.4,717h0M359.4,730.2h0M359.4,743.4h0M359.4,769.8h0M359.4,783h0M359.4,796.2h0M359.4,835.8h0M372.6,43.8h0M372.6,57h0M372.6,70.2h0M372.6,83.4h0M372.6,109.8h0M372.6,123h0M372.6,136.2h0M372.6,149.4h0M372.6,175.8h0M372.6,189h0M372.6,202.2h0M372.6,215.4h0M372.6,241.8h0M372.6,255h0M372.6,268.2h0M372.6,281.4h0M372.6,307.8h0M372.6,321h0M372.6,334.2h0M372.6,347.4h0M372.6,373.8h0M372.6,387h0M372.6,400.2h0M372.6,413.4h0M372.6,439.8h0M372.6,453h0M372.6,466.2h0M372.6,479.4h0M372.6,690.6h0M372.6,703.8h0M372.6,717h0M372.6,730.2h0M372.6,743.4h0M372.6,769.8h0M372.6,783h0M372.6,796.2h0M372.6,835.8h0M385.8,43.8h0M385.8,57h0M385.8,70.2h0M385.8,83.4h0M385.8,109.8h0M385.8,123h0M385.8,136.2h0M385.8,149.4h0M385.8,175.8h0M385.8,189h0M385.8,202.2h0M385.8,215.4h0M385.8,241.8h0M385.8,255h0M385.8,268.2h0M385.8,281.4h0M385.8,307.8h0M385.8,321h0M385.8,334.2h0M385.8,347.4h0M385.8,373.8h0M385.8,387h0M385.8,400.2h0M385.8,413.4h0M385.8,439.8h0M385.8,453h0M385.8,466.2h0M385.8,479.4h0M385.8,690.6h0M385.8,703.8h0M385.8,717h0M385.8,730.2h0M385.8,743.4h0M385.8,769.8h0M385.8,783h0M385.8,796.2h0M385.8,835.8h0M398.9,43.8h0M398.9,57h0M398.9,70.2h0M398.9,83.4h0M398.9,109.8h0M398.9,123h0M398.9,136.2h0M398.9,149.4h0M398.9,175.8h0M398.9,189h0M398.9,202.2h0M398.9,215.4h0M398.9,241.8h0M398.9,255h0M398.9,268.2h0M398.9,281.4h0M398.9,307.8h0M398.9,321h0M398.9,334.2h0M398.9,347.4h0M398.9,373.8h0M398.9,387h0M398.9,400.2h0M398.9,413.4h0M398.9,439.8h0M398.9,453h0M398.9,466.2h0M398.9,479.4h0M398.9,690.6h0M398.9,703.8h0M398.9,717h0M398.9,730.2h0M398.9,743.4h0M398.9,769.8h0M398.9,783h0M398.9,796.2h0M398.9,835.8h0M438.6,43.8h0M438.6,57h0M438.6,70.2h0M438.6,83.4h0M438.6,109.8h0M438.6,123h0M438.6,136.2h0M438.6,149.4h0M438.6,175.8h0M438.6,189h0M438.6,202.2h0M438.6,215.4h0M438.6,241.8h0M438.6,255h0M438.6,268.2h0M438.6,281.4h0M438.6,307.8h0M438.6,321h0M438.6,334.2h0M438.6,347.4h0M438.6,373.8h0M438.6,387h0M438.6,400.2h0M438.6,413.4h0M438.6,439.8h0M438.6,453h0M438.6,466.2h0M438.6,479.4h0M438.6,690.6h0M438.6,703.8h0M438.6,717h0M438.6,730.2h0M438.6,835.8h0M451.8,43.8h0M451.8,57h0M451.8,70.2h0M451.8,83.4h0M451.8,109.8h0M451.8,123h0M451.8,136.2h0M451.8,149.4h0M451.8,175.8h0M451.8,189h0M451.8,202.2h0M451.8,215.4h0M451.8,241.8h0M451.8,255h0M451.8,268.2h0M451.8,281.4h0M451.8,307.8h0M451.8,321h0M451.8,334.2h0M451.8,347.4h0M451.8,373.8h0M451.8,387h0M451.8,400.2h0M451.8,413.4h0M451.8,439.8h0M451.8,453h0M451.8,466.2h0M451.8,479.4h0M451.8,690.6h0M451.8,703.8h0M451.8,717h0M451.8,730.2h0M451.8,835.8h0M464.9,43.8h0M464.9,57h0M464.9,70.2h0M464.9,83.4h0M464.9,109.8h0M464.9,123h0M464.9,136.2h0M464.9,149.4h0M464.9,175.8h0M464.9,189h0M464.9,202.2h0M464.9,215.4h0M464.9,241.8h0M464.9,255h0M464.9,268.2h0M464.9,281.4h0M464.9,307.8h0M464.9,321h0M464.9,334.2h0M464.9,347.4h0M464.9,373.8h0M464.9,387h0M464.9,400.2h0M464.9,413.4h0M464.9,439.8h0M464.9,453h0M464.9,466.2h0M464.9,479.4h0M464.9,690.6h0M464.9,703.8h0M464.9,717h0M464.9,730.2h0M464.9,835.8h0M478.1,43.8h0M478.1,57h0M478.1,70.2h0M478.1,83.4h0M478.1,109.8h0M478.1,123h0M478.1,136.2h0M478.1,149.4h0M478.1,175.8h0M478.1,189h0M478.1,202.2h0M478.1,215.4h0M478.1,241.8h0M478.1,255h0M478.1,268.2h0M478.1,281.4h0M478.1,307.8h0M478.1,321h0M478.1,334.2h0M478.1,347.4h0M478.1,373.8h0M478.1,387h0M478.1,400.2h0M478.1,413.4h0M478.1,439.8h0M478.1,453h0M478.1,466.2h0M478.1,479.4h0M478.1,690.6h0M478.1,703.8h0M478.1,717h0M478.1,730.2h0M478.1,835.8h0M491.4,43.8h0M491.4,57h0M491.4,70.2h0M491.4,83.4h0M491.4,109.8h0M491.4,123h0M491.4,136.2h0M491.4,149.4h0M491.4,175.8h0M491.4,189h0M491.4,202.2h0M491.4,215.4h0M491.4,241.8h0M491.4,255h0M491.4,268.2h0M491.4,281.4h0M491.4,307.8h0M491.4,321h0M491.4,334.2h0M491.4,347.4h0M491.4,373.8h0M491.4,387h0M491.4,400.2h0M491.4,413.4h0M491.4,439.8h0M491.4,453h0M491.4,466.2h0M491.4,479.4h0M491.4,690.6h0M491.4,703.8h0M491.4,717h0M491.4,730.2h0M491.4,835.8h0M530.9,70.2h0M530.9,83.4h0M530.9,96.6h0M530.9,109.8h0M530.9,123h0M530.9,149.4h0M530.9,162.6h0M530.9,175.8h0M530.9,189h0M530.9,202.2h0M530.9,228.6h0M530.9,241.8h0M530.9,255h0M530.9,268.2h0M530.9,281.4h0M530.9,307.8h0M530.9,321h0M530.9,334.2h0M530.9,347.4h0M530.9,360.6h0M530.9,387h0M530.9,400.2h0M530.9,413.4h0M530.9,426.6h0M530.9,439.8h0M530.9,466.2h0M530.9,479.4h0M530.9,492.6h0M530.9,505.8h0M530.9,519h0M530.9,545.4h0M530.9,558.6h0M530.9,571.8h0M530.9,585h0M530.9,598.2h0M530.9,624.6h0M530.9,637.8h0M530.9,651h0M530.9,664.2h0M530.9,677.4h0M530.9,703.8h0M530.9,717h0M530.9,730.2h0M530.9,743.4h0M530.9,756.6h0M530.9,783h0M530.9,796.2h0M530.9,809.4h0M530.9,822.6h0M530.9,835.8h0M570.5,4.2h0M570.5,17.4h0M570.5,43.8h0M570.5,57h0M570.5,70.2h0M570.5,83.4h0M570.5,96.6h0M570.5,123h0M570.5,136.2h0M570.5,149.4h0M570.5,162.6h0M570.5,175.8h0M570.5,202.2h0M570.5,215.4h0M570.5,228.6h0M570.5,241.8h0M570.5,255h0M570.5,387h0M570.5,400.2h0M570.5,413.4h0M570.5,426.6h0M570.5,439.8h0M570.5,466.2h0M570.5,479.4h0M570.5,492.6h0M570.5,505.8h0M570.5,519h0M570.5,545.4h0M570.5,558.6h0M570.5,571.8h0M570.5,585h0M570.5,598.2h0M570.5,624.6h0M570.5,637.8h0M570.5,651h0M570.5,664.2h0M570.5,677.4h0M597,189h0M597,202.2h0M597,241.8h0M597,255h0M597,439.8h0M597,453h0M597,492.6h0M597,505.8h0M597,519h0M597,532.2h0M597,545.4h0M597,558.6h0M597,571.8h0M597,598.2h0M610.1,189h0M610.1,202.2h0M610.1,241.8h0M610.1,255h0M610.1,439.8h0M610.1,453h0M610.1,492.6h0M610.1,505.8h0M610.1,519h0M610.1,532.2h0M610.1,545.4h0M610.1,558.6h0M610.1,571.8h0M610.1,598.2h0M623.4,189h0M623.4,202.2h0M623.4,241.8h0M623.4,255h0M623.4,439.8h0M623.4,453h0M623.4,492.6h0M623.4,505.8h0M623.4,519h0M623.4,532.2h0M623.4,545.4h0M623.4,558.6h0M623.4,571.8h0M623.4,598.2h0M636.5,189h0M636.5,202.2h0M636.5,241.8h0M636.5,255h0M636.5,439.8h0M636.5,453h0M636.5,492.6h0M636.5,505.8h0M636.5,519h0M636.5,532.2h0M636.5,545.4h0M636.5,558.6h0M636.5,571.8h0M636.5,598.2h0M649.8,189h0M649.8,202.2h0M649.8,241.8h0M649.8,255h0M649.8,439.8h0M649.8,453h0M649.8,492.6h0M649.8,505.8h0M649.8,519h0M649.8,532.2h0M649.8,545.4h0M649.8,558.6h0M649.8,571.8h0M649.8,598.2h0M689.4,189h0M689.4,202.2h0M689.4,241.8h0M689.4,255h0M689.4,387h0M689.4,400.2h0M689.4,413.4h0M689.4,492.6h0M689.4,505.8h0M689.4,519h0M689.4,532.2h0M689.4,545.4h0M689.4,558.6h0M689.4,571.8h0M689.4,598.2h0M689.4,624.6h0M689.4,677.4h0M702.5,189h0M702.5,202.2h0M702.5,241.8h0M702.5,255h0M702.5,387h0M702.5,400.2h0M702.5,413.4h0M702.5,492.6h0M702.5,505.8h0M702.5,519h0M702.5,532.2h0M702.5,545.4h0M702.5,558.6h0M702.5,571.8h0M702.5,598.2h0M702.5,624.6h0M702.5,677.4h0M715.8,189h0M715.8,202.2h0M715.8,241.8h0M715.8,255h0M715.8,387h0M715.8,400.2h0M715.8,413.4h0M715.8,492.6h0M715.8,505.8h0M715.8,519h0M715.8,532.2h0M715.8,545.4h0M715.8,558.6h0M715.8,571.8h0M715.8,598.2h0M715.8,624.6h0M715.8,677.4h0M728.9,189h0M728.9,202.2h0M728.9,241.8h0M728.9,255h0M728.9,387h0M728.9,400.2h0M728.9,413.4h0M728.9,492.6h0M728.9,505.8h0M728.9,519h0M728.9,532.2h0M728.9,545.4h0M728.9,558.6h0M728.9,571.8h0M728.9,598.2h0M728.9,624.6h0M728.9,677.4h0M742.1,189h0M742.1,202.2h0M742.1,241.8h0M742.1,255h0M742.1,387h0M742.1,400.2h0M742.1,413.4h0M742.1,492.6h0M742.1,505.8h0M742.1,519h0M742.1,532.2h0M742.1,545.4h0M742.1,558.6h0M742.1,571.8h0M742.1,598.2h0M742.1,624.6h0M742.1,677.4h0M808.1,57h0M808.1,70.2h0M808.1,83.4h0M808.1,96.6h0M808.1,109.8h0M808.1,136.2h0M808.1,149.4h0M808.1,162.6h0M808.1,175.8h0M808.1,189h0M808.1,215.4h0M808.1,228.6h0M808.1,241.8h0M808.1,255h0M808.1,268.2h0M808.1,294.6h0M808.1,307.8h0M808.1,321h0M808.1,334.2h0M808.1,347.4h0M808.1,373.8h0M808.1,387h0M808.1,400.2h0M808.1,413.4h0M808.1,426.6h0M808.1,453h0M808.1,466.2h0M808.1,479.4h0M808.1,492.6h0M808.1,505.8h0M808.1,532.2h0M808.1,545.4h0M808.1,558.6h0M808.1,571.8h0M808.1,585h0M808.1,611.4h0M808.1,624.6h0M808.1,637.8h0M808.1,651h0M808.1,664.2h0M808.1,690.6h0M808.1,703.8h0M808.1,717h0M808.1,730.2h0M808.1,743.4h0M808.1,769.8h0M808.1,783h0M808.1,796.2h0M808.1,809.4h0M808.1,822.6h0M847.8,30.6h0M847.8,43.8h0M847.8,57h0M847.8,70.2h0M847.8,96.6h0M847.8,109.8h0M847.8,123h0M847.8,136.2h0M847.8,162.6h0M847.8,175.8h0M847.8,189h0M847.8,202.2h0M847.8,228.6h0M847.8,241.8h0M847.8,255h0M847.8,268.2h0M847.8,294.6h0M847.8,307.8h0M847.8,321h0M847.8,334.2h0M847.8,360.6h0M847.8,373.8h0M847.8,387h0M847.8,400.2h0M847.8,426.6h0M847.8,439.8h0M847.8,453h0M847.8,466.2h0M860.9,30.6h0M860.9,43.8h0M860.9,57h0M860.9,70.2h0M860.9,96.6h0M860.9,109.8h0M860.9,123h0M860.9,136.2h0M860.9,162.6h0M860.9,175.8h0M860.9,189h0M860.9,202.2h0M860.9,228.6h0M860.9,241.8h0M860.9,255h0M860.9,268.2h0M860.9,294.6h0M860.9,307.8h0M860.9,321h0M860.9,334.2h0M860.9,360.6h0M860.9,373.8h0M860.9,387h0M860.9,400.2h0M860.9,426.6h0M860.9,439.8h0M860.9,453h0M860.9,466.2h0M874.1,30.6h0M874.1,43.8h0M874.1,57h0M874.1,70.2h0M874.1,96.6h0M874.1,109.8h0M874.1,123h0M874.1,136.2h0M874.1,162.6h0M874.1,175.8h0M874.1,189h0M874.1,202.2h0M874.1,228.6h0M874.1,241.8h0M874.1,255h0M874.1,268.2h0M874.1,294.6h0M874.1,307.8h0M874.1,321h0M874.1,334.2h0M874.1,360.6h0M874.1,373.8h0M874.1,387h0M874.1,400.2h0M874.1,426.6h0M874.1,439.8h0M874.1,453h0M874.1,466.2h0M887.4,30.6h0M887.4,43.8h0M887.4,57h0M887.4,70.2h0M887.4,96.6h0M887.4,109.8h0M887.4,123h0M887.4,136.2h0M887.4,162.6h0M887.4,175.8h0M887.4,189h0M887.4,202.2h0M887.4,228.6h0M887.4,241.8h0M887.4,255h0M887.4,268.2h0M887.4,294.6h0M887.4,307.8h0M887.4,321h0M887.4,334.2h0M887.4,360.6h0M887.4,373.8h0M887.4,387h0M887.4,400.2h0M887.4,426.6h0M887.4,439.8h0M887.4,453h0M887.4,466.2h0M900.5,30.6h0M900.5,43.8h0M900.5,57h0M900.5,70.2h0M900.5,96.6h0M900.5,109.8h0M900.5,123h0M900.5,136.2h0M900.5,162.6h0M900.5,175.8h0M900.5,189h0M900.5,202.2h0M900.5,228.6h0M900.5,241.8h0M900.5,255h0M900.5,268.2h0M900.5,294.6h0M900.5,307.8h0M900.5,321h0M900.5,334.2h0M900.5,360.6h0M900.5,373.8h0M900.5,387h0M900.5,400.2h0M900.5,426.6h0M900.5,439.8h0M900.5,453h0M900.5,466.2h0M940.1,30.6h0M940.1,43.8h0M940.1,57h0M940.1,70.2h0M940.1,96.6h0M940.1,109.8h0M940.1,123h0M940.1,136.2h0M940.1,162.6h0M940.1,175.8h0M940.1,189h0M940.1,202.2h0M940.1,228.6h0M940.1,241.8h0M940.1,255h0M940.1,268.2h0M940.1,294.6h0M940.1,307.8h0M940.1,321h0M940.1,334.2h0M940.1,360.6h0M940.1,373.8h0M940.1,387h0M940.1,400.2h0M940.1,426.6h0M940.1,439.8h0M940.1,453h0M940.1,466.2h0M953.4,30.6h0M953.4,43.8h0M953.4,57h0M953.4,70.2h0M953.4,96.6h0M953.4,109.8h0M953.4,123h0M953.4,136.2h0M953.4,162.6h0M953.4,175.8h0M953.4,189h0M953.4,202.2h0M953.4,228.6h0M953.4,241.8h0M953.4,255h0M953.4,268.2h0M953.4,294.6h0M953.4,307.8h0M953.4,321h0M953.4,334.2h0M953.4,360.6h0M953.4,373.8h0M953.4,387h0M953.4,400.2h0M953.4,426.6h0M953.4,439.8h0M953.4,453h0M953.4,466.2h0M966.5,30.6h0M966.5,43.8h0M966.5,57h0M966.5,70.2h0M966.5,96.6h0M966.5,109.8h0M966.5,123h0M966.5,136.2h0M966.5,162.6h0M966.5,175.8h0M966.5,189h0M966.5,202.2h0M966.5,228.6h0M966.5,241.8h0M966.5,255h0M966.5,268.2h0M966.5,294.6h0M966.5,307.8h0M966.5,321h0M966.5,334.2h0M966.5,360.6h0M966.5,373.8h0M966.5,387h0M966.5,400.2h0M966.5,426.6h0M966.5,439.8h0M966.5,453h0M966.5,466.2h0M979.8,30.6h0M979.8,43.8h0M979.8,57h0M979.8,70.2h0M979.8,96.6h0M979.8,109.8h0M979.8,123h0M979.8,136.2h0M979.8,162.6h0M979.8,175.8h0M979.8,189h0M979.8,202.2h0M979.8,228.6h0M979.8,241.8h0M979.8,255h0M979.8,268.2h0M979.8,294.6h0M979.8,307.8h0M979.8,321h0M979.8,334.2h0M979.8,360.6h0M979.8,373.8h0M979.8,387h0M979.8,400.2h0M979.8,426.6h0M979.8,439.8h0M979.8,453h0M979.8,466.2h0M992.9,30.6h0M992.9,43.8h0M992.9,57h0M992.9,70.2h0M992.9,96.6h0M992.9,109.8h0M992.9,123h0M992.9,136.2h0M992.9,162.6h0M992.9,175.8h0M992.9,189h0M992.9,202.2h0M992.9,228.6h0M992.9,241.8h0M992.9,255h0M992.9,268.2h0M992.9,294.6h0M992.9,307.8h0M992.9,321h0M992.9,334.2h0M992.9,360.6h0M992.9,373.8h0M992.9,387h0M992.9,400.2h0M992.9,426.6h0M992.9,439.8h0M992.9,453h0M992.9,466.2h0M1124.9,30.6h0M1124.9,43.8h0M1124.9,57h0M1124.9,70.2h0M1124.9,83.4h0M1124.9,109.8h0M1124.9,123h0M1124.9,136.2h0M1124.9,149.4h0M1124.9,162.6h0M1124.9,175.8h0M1124.9,202.2h0M1124.9,215.4h0M1124.9,228.6h0M1124.9,241.8h0M1124.9,255h0M1124.9,268.2h0M1124.9,294.6h0M1124.9,307.8h0M1124.9,321h0M1124.9,334.2h0M1124.9,347.4h0M1124.9,360.6h0M1124.9,387h0M1124.9,400.2h0M1124.9,413.4h0M1124.9,426.6h0M1124.9,439.8h0M1124.9,453h0M1124.9,479.4h0M1124.9,492.6h0M1124.9,505.8h0M1124.9,519h0M1124.9,532.2h0M1124.9,545.4h0M1124.9,571.8h0M1124.9,585h0M1124.9,598.2h0M1124.9,611.4h0M1124.9,624.6h0M1124.9,637.8h0M1138.1,30.6h0M1138.1,43.8h0M1138.1,57h0M1138.1,70.2h0M1138.1,83.4h0M1138.1,109.8h0M1138.1,123h0M1138.1,136.2h0M1138.1,149.4h0M1138.1,162.6h0M1138.1,175.8h0M1138.1,202.2h0M1138.1,215.4h0M1138.1,228.6h0M1138.1,241.8h0M1138.1,255h0M1138.1,268.2h0M1138.1,294.6h0M1138.1,307.8h0M1138.1,321h0M1138.1,334.2h0M1138.1,347.4h0M1138.1,360.6h0M1138.1,387h0M1138.1,400.2h0M1138.1,413.4h0M1138.1,426.6h0M1138.1,439.8h0M1138.1,453h0M1138.1,479.4h0M1138.1,492.6h0M1138.1,505.8h0M1138.1,519h0M1138.1,532.2h0M1138.1,545.4h0M1138.1,571.8h0M1138.1,585h0M1138.1,598.2h0M1138.1,611.4h0M1138.1,624.6h0M1138.1,637.8h0M1151.3,30.6h0M1151.3,43.8h0M1151.3,57h0M1151.3,70.2h0M1151.3,83.4h0M1151.3,109.8h0M1151.3,123h0M1151.3,136.2h0M1151.3,149.4h0M1151.3,162.6h0M1151.3,175.8h0M1151.3,202.2h0M1151.3,215.4h0M1151.3,228.6h0M1151.3,241.8h0M1151.3,255h0M1151.3,268.2h0M1151.3,294.6h0M1151.3,307.8h0M1151.3,321h0M1151.3,334.2h0M1151.3,347.4h0M1151.3,360.6h0M1151.3,387h0M1151.3,400.2h0M1151.3,413.4h0M1151.3,426.6h0M1151.3,439.8h0M1151.3,453h0M1151.3,479.4h0M1151.3,492.6h0M1151.3,505.8h0M1151.3,519h0M1151.3,532.2h0M1151.3,545.4h0M1151.3,571.8h0M1151.3,585h0M1151.3,598.2h0M1151.3,611.4h0M1151.3,624.6h0M1151.3,637.8h0M1164.5,30.6h0M1164.5,43.8h0M1164.5,57h0M1164.5,70.2h0M1164.5,83.4h0M1164.5,109.8h0M1164.5,123h0M1164.5,136.2h0M1164.5,149.4h0M1164.5,162.6h0M1164.5,175.8h0M1164.5,202.2h0M1164.5,215.4h0M1164.5,228.6h0M1164.5,241.8h0M1164.5,255h0M1164.5,268.2h0M1164.5,294.6h0M1164.5,307.8h0M1164.5,321h0M1164.5,334.2h0M1164.5,347.4h0M1164.5,360.6h0M1164.5,387h0M1164.5,400.2h0M1164.5,413.4h0M1164.5,426.6h0M1164.5,439.8h0M1164.5,453h0M1164.5,479.4h0M1164.5,492.6h0M1164.5,505.8h0M1164.5,519h0M1164.5,532.2h0M1164.5,545.4h0M1164.5,571.8h0M1164.5,585h0M1164.5,598.2h0M1164.5,611.4h0M1164.5,624.6h0M1164.5,637.8h0M1177.7,30.6h0M1177.7,43.8h0M1177.7,57h0M1177.7,70.2h0M1177.7,83.4h0M1177.7,109.8h0M1177.7,123h0M1177.7,136.2h0M1177.7,149.4h0M1177.7,162.6h0M1177.7,175.8h0M1177.7,202.2h0M1177.7,215.4h0M1177.7,228.6h0M1177.7,241.8h0M1177.7,255h0M1177.7,268.2h0M1177.7,294.6h0M1177.7,307.8h0M1177.7,321h0M1177.7,334.2h0M1177.7,347.4h0M1177.7,360.6h0M1177.7,387h0M1177.7,400.2h0M1177.7,413.4h0M1177.7,426.6h0M1177.7,439.8h0M1177.7,453h0M1177.7,479.4h0M1177.7,492.6h0M1177.7,505.8h0M1177.7,519h0M1177.7,532.2h0M1177.7,545.4h0M1177.7,571.8h0M1177.7,585h0M1177.7,598.2h0M1177.7,611.4h0M1177.7,624.6h0M1177.7,637.8h0"/></defs>
<path d="M580.8,281.9 a14.5,14.5 0 0 0 0,29 z" fill="#ffffff"/><circle cx="580.8" cy="296.4" r="7.6" fill="#2e2e2e"/><path d="M759.8,281.9 a14.5,14.5 0 0 0 0,29 z" fill="#ffffff"/><circle cx="759.8" cy="296.4" r="7.6" fill="#2e2e2e"/><path d="M580.8,328.7 a14.5,14.5 0 0 0 0,29 z" fill="#ffffff"/><circle cx="580.8" cy="343.2" r="7.6" fill="#2e2e2e"/><path d="M757.8,328.7 a14.5,14.5 0 0 0 0,29 z" fill="#ffffff"/><circle cx="757.8" cy="343.2" r="7.6" fill="#2e2e2e"/><path d="M580.8,704 a14.5,14.5 0 0 0 0,29 z" fill="#ffffff"/><circle cx="580.8" cy="718.5" r="7.6" fill="#2e2e2e"/>
<g fill="none" stroke-linecap="round">
<use href="#hL" stroke="#fff" stroke-width="8.8"/>
<use href="#hS" stroke="#fff" stroke-width="8.8"/>
<use href="#hO" stroke="#fff" stroke-width="8.8"/>
<use href="#hL" stroke="#cccccc" stroke-width="8.8" stroke-linecap="square" transform="translate(4.45,0)"/>
<use href="#hS" stroke="#cccccc" stroke-width="8.8" stroke-linecap="square" transform="translate(4.45,0)"/>
<use href="#hO" stroke="#cccccc" stroke-width="8.8" stroke-linecap="square" transform="translate(4.45,0)"/>
</g><line x1="205.3" y1="23" x2="205.3" y2="871" stroke="#f23232" stroke-width="1.2"/><line x1="284.5" y1="23" x2="284.5" y2="871" stroke="#f23232" stroke-width="1.2"/><line x1="521.4" y1="23" x2="521.4" y2="871" stroke="#f23232" stroke-width="1.2"/><line x1="235.6" y1="23" x2="235.6" y2="871" stroke="#2f5fd6" stroke-width="1.2"/><line x1="315.3" y1="23" x2="315.3" y2="871" stroke="#2f5fd6" stroke-width="1.2"/><line x1="552.7" y1="23" x2="552.7" y2="871" stroke="#2f5fd6" stroke-width="1.2"/><line x1="785.5" y1="10" x2="785.5" y2="870" stroke="#f23232" stroke-width="1.2"/><line x1="1023.4" y1="10" x2="1023.4" y2="870" stroke="#f23232" stroke-width="1.2"/><line x1="1062.4" y1="10" x2="1062.4" y2="870" stroke="#f23232" stroke-width="1.2"/><line x1="816.5" y1="10" x2="816.5" y2="870" stroke="#2f5fd6" stroke-width="1.2"/><line x1="1054.5" y1="10" x2="1054.5" y2="870" stroke="#2f5fd6" stroke-width="1.2"/><line x1="1093.5" y1="10" x2="1093.5" y2="870" stroke="#2f5fd6" stroke-width="1.2"/><g fill="none" stroke-linecap="round">
<use href="#hc" stroke="#cccccc" stroke-width="9.4"/>
<use href="#hc" stroke="#c0c87c" stroke-width="6.6"/>
<use href="#hL" stroke="#303030" stroke-width="5.0"/>
<use href="#hS" stroke="#303030" stroke-width="5.0"/>
<use href="#hO" stroke="#303030" stroke-width="5.0"/>
</g>
<g transform="translate(72.3,50.4)"><path d="M9.6,-11.6 C13,-12.6 15.5,-9.6 17.5,-8 S21,-6.6 24,-6.6 L50.6,-6.6" fill="none" stroke="#9e9e9e" stroke-width="4.9" stroke-linecap="round"/><path d="M9.6,11.6 C13,12.6 15.5,9.6 17.5,8 S21,6.6 24,6.6 L50.6,6.6" fill="none" stroke="#9e9e9e" stroke-width="4.9" stroke-linecap="round"/><path d="M-9.7,-8.8 L1.5,-8.8 Q5.5,-9.6 9.2,-12.9 L10.2,-11.6 Q6.2,-6.5 5.3,0 Q6.2,6.5 10.2,11.6 L9.2,12.9 Q5.5,9.6 1.5,8.8 L-9.7,8.6 Q-8.9,0 -9.7,-8.8Z" fill="#336699" stroke="#23507f" stroke-width="0.7"/><path d="M-9.7,-8.9 L1.5,-8.9 Q5.5,-9.7 9.2,-13" fill="none" stroke="#0d2f55" stroke-width="1.1"/><rect x="-7.2" y="5.8" width="2" height="2" fill="#5f9fdc"/></g>
<g transform="translate(72.3,90)"><path d="M9.6,-11.6 C13,-12.6 15.5,-9.6 17.5,-8 S21,-6.6 24,-6.6 L50.6,-6.6" fill="none" stroke="#9e9e9e" stroke-width="4.9" stroke-linecap="round"/><path d="M9.6,11.6 C13,12.6 15.5,9.6 17.5,8 S21,6.6 24,6.6 L50.6,6.6" fill="none" stroke="#9e9e9e" stroke-width="4.9" stroke-linecap="round"/><path d="M-9.7,-8.8 L1.5,-8.8 Q5.5,-9.6 9.2,-12.9 L10.2,-11.6 Q6.2,-6.5 5.3,0 Q6.2,6.5 10.2,11.6 L9.2,12.9 Q5.5,9.6 1.5,8.8 L-9.7,8.6 Q-8.9,0 -9.7,-8.8Z" fill="#336699" stroke="#23507f" stroke-width="0.7"/><path d="M-9.7,-8.9 L1.5,-8.9 Q5.5,-9.7 9.2,-13" fill="none" stroke="#0d2f55" stroke-width="1.1"/><rect x="-7.2" y="5.8" width="2" height="2" fill="#5f9fdc"/></g>
<g transform="translate(85.5,103.2)"><path d="M9.6,-11.6 C13,-12.6 15.5,-9.6 17.5,-8 S21,-6.6 24,-6.6 L50.6,-6.6" fill="none" stroke="#9e9e9e" stroke-width="4.9" stroke-linecap="round"/><path d="M9.6,11.6 C13,12.6 15.5,9.6 17.5,8 S21,6.6 24,6.6 L50.6,6.6" fill="none" stroke="#9e9e9e" stroke-width="4.9" stroke-linecap="round"/><path d="M-9.7,-8.8 L1.5,-8.8 Q5.5,-9.6 9.2,-12.9 L10.2,-11.6 Q6.2,-6.5 5.3,0 Q6.2,6.5 10.2,11.6 L9.2,12.9 Q5.5,9.6 1.5,8.8 L-9.7,8.6 Q-8.9,0 -9.7,-8.8Z" fill="#336699" stroke="#23507f" stroke-width="0.7"/><path d="M-9.7,-8.9 L1.5,-8.9 Q5.5,-9.7 9.2,-13" fill="none" stroke="#0d2f55" stroke-width="1.1"/><rect x="-7.2" y="5.8" width="2" height="2" fill="#5f9fdc"/></g>
<g transform="translate(72.3,142.8)"><path d="M9.6,-11.6 C13,-12.6 15.5,-9.6 17.5,-8 S21,-6.6 24,-6.6 L50.6,-6.6" fill="none" stroke="#9e9e9e" stroke-width="4.9" stroke-linecap="round"/><path d="M9.6,11.6 C13,12.6 15.5,9.6 17.5,8 S21,6.6 24,6.6 L50.6,6.6" fill="none" stroke="#9e9e9e" stroke-width="4.9" stroke-linecap="round"/><path d="M-9.7,-8.8 L1.5,-8.8 Q5.5,-9.6 9.2,-12.9 L10.2,-11.6 Q6.2,-6.5 5.3,0 Q6.2,6.5 10.2,11.6 L9.2,12.9 Q5.5,9.6 1.5,8.8 L-9.7,8.6 Q-8.9,0 -9.7,-8.8Z" fill="#336699" stroke="#23507f" stroke-width="0.7"/><path d="M-9.7,-8.9 L1.5,-8.9 Q5.5,-9.7 9.2,-13" fill="none" stroke="#0d2f55" stroke-width="1.1"/><rect x="-7.2" y="5.8" width="2" height="2" fill="#5f9fdc"/></g>
<g transform="translate(72.3,182.4)"><path d="M9.6,-11.6 C13,-12.6 15.5,-9.6 17.5,-8 S21,-6.6 24,-6.6 L50.6,-6.6" fill="none" stroke="#9e9e9e" stroke-width="4.9" stroke-linecap="round"/><path d="M9.6,11.6 C13,12.6 15.5,9.6 17.5,8 S21,6.6 24,6.6 L50.6,6.6" fill="none" stroke="#9e9e9e" stroke-width="4.9" stroke-linecap="round"/><path d="M-9.7,-8.8 L1.5,-8.8 Q5.5,-9.6 9.2,-12.9 L10.2,-11.6 Q6.2,-6.5 5.3,0 Q6.2,6.5 10.2,11.6 L9.2,12.9 Q5.5,9.6 1.5,8.8 L-9.7,8.6 Q-8.9,0 -9.7,-8.8Z" fill="#336699" stroke="#23507f" stroke-width="0.7"/><path d="M-9.7,-8.9 L1.5,-8.9 Q5.5,-9.7 9.2,-13" fill="none" stroke="#0d2f55" stroke-width="1.1"/><rect x="-7.2" y="5.8" width="2" height="2" fill="#5f9fdc"/></g>
<g transform="translate(85.5,195.6)"><path d="M9.6,-11.6 C13,-12.6 15.5,-9.6 17.5,-8 S21,-6.6 24,-6.6 L50.6,-6.6" fill="none" stroke="#9e9e9e" stroke-width="4.9" stroke-linecap="round"/><path d="M9.6,11.6 C13,12.6 15.5,9.6 17.5,8 S21,6.6 24,6.6 L50.6,6.6" fill="none" stroke="#9e9e9e" stroke-width="4.9" stroke-linecap="round"/><path d="M-9.7,-8.8 L1.5,-8.8 Q5.5,-9.6 9.2,-12.9 L10.2,-11.6 Q6.2,-6.5 5.3,0 Q6.2,6.5 10.2,11.6 L9.2,12.9 Q5.5,9.6 1.5,8.8 L-9.7,8.6 Q-8.9,0 -9.7,-8.8Z" fill="#336699" stroke="#23507f" stroke-width="0.7"/><path d="M-9.7,-8.9 L1.5,-8.9 Q5.5,-9.7 9.2,-13" fill="none" stroke="#0d2f55" stroke-width="1.1"/><rect x="-7.2" y="5.8" width="2" height="2" fill="#5f9fdc"/></g>
<g transform="translate(72.3,235.2)"><path d="M9.6,-11.6 C13,-12.6 15.5,-9.6 17.5,-8 S21,-6.6 24,-6.6 L50.6,-6.6" fill="none" stroke="#9e9e9e" stroke-width="4.9" stroke-linecap="round"/><path d="M9.6,11.6 C13,12.6 15.5,9.6 17.5,8 S21,6.6 24,6.6 L50.6,6.6" fill="none" stroke="#9e9e9e" stroke-width="4.9" stroke-linecap="round"/><path d="M-9.7,-8.8 L1.5,-8.8 Q5.5,-9.6 9.2,-12.9 L10.2,-11.6 Q6.2,-6.5 5.3,0 Q6.2,6.5 10.2,11.6 L9.2,12.9 Q5.5,9.6 1.5,8.8 L-9.7,8.6 Q-8.9,0 -9.7,-8.8Z" fill="#336699" stroke="#23507f" stroke-width="0.7"/><path d="M-9.7,-8.9 L1.5,-8.9 Q5.5,-9.7 9.2,-13" fill="none" stroke="#0d2f55" stroke-width="1.1"/><rect x="-7.2" y="5.8" width="2" height="2" fill="#5f9fdc"/></g>
<g transform="translate(72.3,274.8)"><path d="M9.6,-11.6 C13,-12.6 15.5,-9.6 17.5,-8 S21,-6.6 24,-6.6 L50.6,-6.6" fill="none" stroke="#9e9e9e" stroke-width="4.9" stroke-linecap="round"/><path d="M9.6,11.6 C13,12.6 15.5,9.6 17.5,8 S21,6.6 24,6.6 L50.6,6.6" fill="none" stroke="#9e9e9e" stroke-width="4.9" stroke-linecap="round"/><path d="M-9.7,-8.8 L1.5,-8.8 Q5.5,-9.6 9.2,-12.9 L10.2,-11.6 Q6.2,-6.5 5.3,0 Q6.2,6.5 10.2,11.6 L9.2,12.9 Q5.5,9.6 1.5,8.8 L-9.7,8.6 Q-8.9,0 -9.7,-8.8Z" fill="#336699" stroke="#23507f" stroke-width="0.7"/><path d="M-9.7,-8.9 L1.5,-8.9 Q5.5,-9.7 9.2,-13" fill="none" stroke="#0d2f55" stroke-width="1.1"/><rect x="-7.2" y="5.8" width="2" height="2" fill="#5f9fdc"/></g>
<g transform="translate(85.5,288)"><path d="M9.6,-11.6 C13,-12.6 15.5,-9.6 17.5,-8 S21,-6.6 24,-6.6 L50.6,-6.6" fill="none" stroke="#9e9e9e" stroke-width="4.9" stroke-linecap="round"/><path d="M9.6,11.6 C13,12.6 15.5,9.6 17.5,8 S21,6.6 24,6.6 L50.6,6.6" fill="none" stroke="#9e9e9e" stroke-width="4.9" stroke-linecap="round"/><path d="M-9.7,-8.8 L1.5,-8.8 Q5.5,-9.6 9.2,-12.9 L10.2,-11.6 Q6.2,-6.5 5.3,0 Q6.2,6.5 10.2,11.6 L9.2,12.9 Q5.5,9.6 1.5,8.8 L-9.7,8.6 Q-8.9,0 -9.7,-8.8Z" fill="#336699" stroke="#23507f" stroke-width="0.7"/><path d="M-9.7,-8.9 L1.5,-8.9 Q5.5,-9.7 9.2,-13" fill="none" stroke="#0d2f55" stroke-width="1.1"/><rect x="-7.2" y="5.8" width="2" height="2" fill="#5f9fdc"/></g>
<g transform="translate(72.3,327.6)"><path d="M9.6,-11.6 C13,-12.6 15.5,-9.6 17.5,-8 S21,-6.6 24,-6.6 L50.6,-6.6" fill="none" stroke="#9e9e9e" stroke-width="4.9" stroke-linecap="round"/><path d="M9.6,11.6 C13,12.6 15.5,9.6 17.5,8 S21,6.6 24,6.6 L50.6,6.6" fill="none" stroke="#9e9e9e" stroke-width="4.9" stroke-linecap="round"/><path d="M-9.7,-8.8 L1.5,-8.8 Q5.5,-9.6 9.2,-12.9 L10.2,-11.6 Q6.2,-6.5 5.3,0 Q6.2,6.5 10.2,11.6 L9.2,12.9 Q5.5,9.6 1.5,8.8 L-9.7,8.6 Q-8.9,0 -9.7,-8.8Z" fill="#336699" stroke="#23507f" stroke-width="0.7"/><path d="M-9.7,-8.9 L1.5,-8.9 Q5.5,-9.7 9.2,-13" fill="none" stroke="#0d2f55" stroke-width="1.1"/><rect x="-7.2" y="5.8" width="2" height="2" fill="#5f9fdc"/></g>
<g transform="translate(72.3,367.2)"><path d="M9.6,-11.6 C13,-12.6 15.5,-9.6 17.5,-8 S21,-6.6 24,-6.6 L50.6,-6.6" fill="none" stroke="#9e9e9e" stroke-width="4.9" stroke-linecap="round"/><path d="M9.6,11.6 C13,12.6 15.5,9.6 17.5,8 S21,6.6 24,6.6 L50.6,6.6" fill="none" stroke="#9e9e9e" stroke-width="4.9" stroke-linecap="round"/><path d="M-9.7,-8.8 L1.5,-8.8 Q5.5,-9.6 9.2,-12.9 L10.2,-11.6 Q6.2,-6.5 5.3,0 Q6.2,6.5 10.2,11.6 L9.2,12.9 Q5.5,9.6 1.5,8.8 L-9.7,8.6 Q-8.9,0 -9.7,-8.8Z" fill="#336699" stroke="#23507f" stroke-width="0.7"/><path d="M-9.7,-8.9 L1.5,-8.9 Q5.5,-9.7 9.2,-13" fill="none" stroke="#0d2f55" stroke-width="1.1"/><rect x="-7.2" y="5.8" width="2" height="2" fill="#5f9fdc"/></g>
<g transform="translate(85.5,380.4)"><path d="M9.6,-11.6 C13,-12.6 15.5,-9.6 17.5,-8 S21,-6.6 24,-6.6 L50.6,-6.6" fill="none" stroke="#9e9e9e" stroke-width="4.9" stroke-linecap="round"/><path d="M9.6,11.6 C13,12.6 15.5,9.6 17.5,8 S21,6.6 24,6.6 L50.6,6.6" fill="none" stroke="#9e9e9e" stroke-width="4.9" stroke-linecap="round"/><path d="M-9.7,-8.8 L1.5,-8.8 Q5.5,-9.6 9.2,-12.9 L10.2,-11.6 Q6.2,-6.5 5.3,0 Q6.2,6.5 10.2,11.6 L9.2,12.9 Q5.5,9.6 1.5,8.8 L-9.7,8.6 Q-8.9,0 -9.7,-8.8Z" fill="#336699" stroke="#23507f" stroke-width="0.7"/><path d="M-9.7,-8.9 L1.5,-8.9 Q5.5,-9.7 9.2,-13" fill="none" stroke="#0d2f55" stroke-width="1.1"/><rect x="-7.2" y="5.8" width="2" height="2" fill="#5f9fdc"/></g>
<g transform="translate(72.3,420)"><path d="M9.6,-11.6 C13,-12.6 15.5,-9.6 17.5,-8 S21,-6.6 24,-6.6 L50.6,-6.6" fill="none" stroke="#9e9e9e" stroke-width="4.9" stroke-linecap="round"/><path d="M9.6,11.6 C13,12.6 15.5,9.6 17.5,8 S21,6.6 24,6.6 L50.6,6.6" fill="none" stroke="#9e9e9e" stroke-width="4.9" stroke-linecap="round"/><path d="M-9.7,-8.8 L1.5,-8.8 Q5.5,-9.6 9.2,-12.9 L10.2,-11.6 Q6.2,-6.5 5.3,0 Q6.2,6.5 10.2,11.6 L9.2,12.9 Q5.5,9.6 1.5,8.8 L-9.7,8.6 Q-8.9,0 -9.7,-8.8Z" fill="#336699" stroke="#23507f" stroke-width="0.7"/><path d="M-9.7,-8.9 L1.5,-8.9 Q5.5,-9.7 9.2,-13" fill="none" stroke="#0d2f55" stroke-width="1.1"/><rect x="-7.2" y="5.8" width="2" height="2" fill="#5f9fdc"/></g>
<g transform="translate(72.3,459.6)"><path d="M9.6,-11.6 C13,-12.6 15.5,-9.6 17.5,-8 S21,-6.6 24,-6.6 L50.6,-6.6" fill="none" stroke="#9e9e9e" stroke-width="4.9" stroke-linecap="round"/><path d="M9.6,11.6 C13,12.6 15.5,9.6 17.5,8 S21,6.6 24,6.6 L50.6,6.6" fill="none" stroke="#9e9e9e" stroke-width="4.9" stroke-linecap="round"/><path d="M-9.7,-8.8 L1.5,-8.8 Q5.5,-9.6 9.2,-12.9 L10.2,-11.6 Q6.2,-6.5 5.3,0 Q6.2,6.5 10.2,11.6 L9.2,12.9 Q5.5,9.6 1.5,8.8 L-9.7,8.6 Q-8.9,0 -9.7,-8.8Z" fill="#336699" stroke="#23507f" stroke-width="0.7"/><path d="M-9.7,-8.9 L1.5,-8.9 Q5.5,-9.7 9.2,-13" fill="none" stroke="#0d2f55" stroke-width="1.1"/><rect x="-7.2" y="5.8" width="2" height="2" fill="#5f9fdc"/></g>
<g transform="translate(85.5,472.8)"><path d="M9.6,-11.6 C13,-12.6 15.5,-9.6 17.5,-8 S21,-6.6 24,-6.6 L50.6,-6.6" fill="none" stroke="#9e9e9e" stroke-width="4.9" stroke-linecap="round"/><path d="M9.6,11.6 C13,12.6 15.5,9.6 17.5,8 S21,6.6 24,6.6 L50.6,6.6" fill="none" stroke="#9e9e9e" stroke-width="4.9" stroke-linecap="round"/><path d="M-9.7,-8.8 L1.5,-8.8 Q5.5,-9.6 9.2,-12.9 L10.2,-11.6 Q6.2,-6.5 5.3,0 Q6.2,6.5 10.2,11.6 L9.2,12.9 Q5.5,9.6 1.5,8.8 L-9.7,8.6 Q-8.9,0 -9.7,-8.8Z" fill="#336699" stroke="#23507f" stroke-width="0.7"/><path d="M-9.7,-8.9 L1.5,-8.9 Q5.5,-9.7 9.2,-13" fill="none" stroke="#0d2f55" stroke-width="1.1"/><rect x="-7.2" y="5.8" width="2" height="2" fill="#5f9fdc"/></g>
<g transform="translate(72.3,512.4)"><path d="M9.6,-11.6 C13,-12.6 15.5,-9.6 17.5,-8 S21,-6.6 24,-6.6 L50.6,-6.6" fill="none" stroke="#9e9e9e" stroke-width="4.9" stroke-linecap="round"/><path d="M9.6,11.6 C13,12.6 15.5,9.6 17.5,8 S21,6.6 24,6.6 L50.6,6.6" fill="none" stroke="#9e9e9e" stroke-width="4.9" stroke-linecap="round"/><path d="M-9.7,-8.8 L1.5,-8.8 Q5.5,-9.6 9.2,-12.9 L10.2,-11.6 Q6.2,-6.5 5.3,0 Q6.2,6.5 10.2,11.6 L9.2,12.9 Q5.5,9.6 1.5,8.8 L-9.7,8.6 Q-8.9,0 -9.7,-8.8Z" fill="#336699" stroke="#23507f" stroke-width="0.7"/><path d="M-9.7,-8.9 L1.5,-8.9 Q5.5,-9.7 9.2,-13" fill="none" stroke="#0d2f55" stroke-width="1.1"/><rect x="-7.2" y="5.8" width="2" height="2" fill="#5f9fdc"/></g>
<g transform="translate(72.3,552)"><path d="M9.6,-11.6 C13,-12.6 15.5,-9.6 17.5,-8 S21,-6.6 24,-6.6 L50.6,-6.6" fill="none" stroke="#9e9e9e" stroke-width="4.9" stroke-linecap="round"/><path d="M9.6,11.6 C13,12.6 15.5,9.6 17.5,8 S21,6.6 24,6.6 L50.6,6.6" fill="none" stroke="#9e9e9e" stroke-width="4.9" stroke-linecap="round"/><path d="M-9.7,-8.8 L1.5,-8.8 Q5.5,-9.6 9.2,-12.9 L10.2,-11.6 Q6.2,-6.5 5.3,0 Q6.2,6.5 10.2,11.6 L9.2,12.9 Q5.5,9.6 1.5,8.8 L-9.7,8.6 Q-8.9,0 -9.7,-8.8Z" fill="#336699" stroke="#23507f" stroke-width="0.7"/><path d="M-9.7,-8.9 L1.5,-8.9 Q5.5,-9.7 9.2,-13" fill="none" stroke="#0d2f55" stroke-width="1.1"/><rect x="-7.2" y="5.8" width="2" height="2" fill="#5f9fdc"/></g>
<g transform="translate(85.5,565.2)"><path d="M9.6,-11.6 C13,-12.6 15.5,-9.6 17.5,-8 S21,-6.6 24,-6.6 L50.6,-6.6" fill="none" stroke="#9e9e9e" stroke-width="4.9" stroke-linecap="round"/><path d="M9.6,11.6 C13,12.6 15.5,9.6 17.5,8 S21,6.6 24,6.6 L50.6,6.6" fill="none" stroke="#9e9e9e" stroke-width="4.9" stroke-linecap="round"/><path d="M-9.7,-8.8 L1.5,-8.8 Q5.5,-9.6 9.2,-12.9 L10.2,-11.6 Q6.2,-6.5 5.3,0 Q6.2,6.5 10.2,11.6 L9.2,12.9 Q5.5,9.6 1.5,8.8 L-9.7,8.6 Q-8.9,0 -9.7,-8.8Z" fill="#336699" stroke="#23507f" stroke-width="0.7"/><path d="M-9.7,-8.9 L1.5,-8.9 Q5.5,-9.7 9.2,-13" fill="none" stroke="#0d2f55" stroke-width="1.1"/><rect x="-7.2" y="5.8" width="2" height="2" fill="#5f9fdc"/></g>
<g transform="translate(72.3,604.8)"><path d="M9.6,-11.6 C13,-12.6 15.5,-9.6 17.5,-8 S21,-6.6 24,-6.6 L50.6,-6.6" fill="none" stroke="#9e9e9e" stroke-width="4.9" stroke-linecap="round"/><path d="M9.6,11.6 C13,12.6 15.5,9.6 17.5,8 S21,6.6 24,6.6 L50.6,6.6" fill="none" stroke="#9e9e9e" stroke-width="4.9" stroke-linecap="round"/><path d="M-9.7,-8.8 L1.5,-8.8 Q5.5,-9.6 9.2,-12.9 L10.2,-11.6 Q6.2,-6.5 5.3,0 Q6.2,6.5 10.2,11.6 L9.2,12.9 Q5.5,9.6 1.5,8.8 L-9.7,8.6 Q-8.9,0 -9.7,-8.8Z" fill="#336699" stroke="#23507f" stroke-width="0.7"/><path d="M-9.7,-8.9 L1.5,-8.9 Q5.5,-9.7 9.2,-13" fill="none" stroke="#0d2f55" stroke-width="1.1"/><rect x="-7.2" y="5.8" width="2" height="2" fill="#5f9fdc"/></g>
<g transform="translate(72.3,644.4)"><path d="M9.6,-11.6 C13,-12.6 15.5,-9.6 17.5,-8 S21,-6.6 24,-6.6 L50.6,-6.6" fill="none" stroke="#9e9e9e" stroke-width="4.9" stroke-linecap="round"/><path d="M9.6,11.6 C13,12.6 15.5,9.6 17.5,8 S21,6.6 24,6.6 L50.6,6.6" fill="none" stroke="#9e9e9e" stroke-width="4.9" stroke-linecap="round"/><path d="M-9.7,-8.8 L1.5,-8.8 Q5.5,-9.6 9.2,-12.9 L10.2,-11.6 Q6.2,-6.5 5.3,0 Q6.2,6.5 10.2,11.6 L9.2,12.9 Q5.5,9.6 1.5,8.8 L-9.7,8.6 Q-8.9,0 -9.7,-8.8Z" fill="#336699" stroke="#23507f" stroke-width="0.7"/><path d="M-9.7,-8.9 L1.5,-8.9 Q5.5,-9.7 9.2,-13" fill="none" stroke="#0d2f55" stroke-width="1.1"/><rect x="-7.2" y="5.8" width="2" height="2" fill="#5f9fdc"/></g>
<g transform="translate(85.5,657.6)"><path d="M9.6,-11.6 C13,-12.6 15.5,-9.6 17.5,-8 S21,-6.6 24,-6.6 L50.6,-6.6" fill="none" stroke="#9e9e9e" stroke-width="4.9" stroke-linecap="round"/><path d="M9.6,11.6 C13,12.6 15.5,9.6 17.5,8 S21,6.6 24,6.6 L50.6,6.6" fill="none" stroke="#9e9e9e" stroke-width="4.9" stroke-linecap="round"/><path d="M-9.7,-8.8 L1.5,-8.8 Q5.5,-9.6 9.2,-12.9 L10.2,-11.6 Q6.2,-6.5 5.3,0 Q6.2,6.5 10.2,11.6 L9.2,12.9 Q5.5,9.6 1.5,8.8 L-9.7,8.6 Q-8.9,0 -9.7,-8.8Z" fill="#336699" stroke="#23507f" stroke-width="0.7"/><path d="M-9.7,-8.9 L1.5,-8.9 Q5.5,-9.7 9.2,-13" fill="none" stroke="#0d2f55" stroke-width="1.1"/><rect x="-7.2" y="5.8" width="2" height="2" fill="#5f9fdc"/></g>
<g transform="translate(1227.9,37.2) scale(-1,-1)"><path d="M9.6,-11.6 C13,-12.6 15.5,-9.6 17.5,-8 S21,-6.6 24,-6.6 L50.6,-6.6" fill="none" stroke="#9e9e9e" stroke-width="4.9" stroke-linecap="round"/><path d="M9.6,11.6 C13,12.6 15.5,9.6 17.5,8 S21,6.6 24,6.6 L50.6,6.6" fill="none" stroke="#9e9e9e" stroke-width="4.9" stroke-linecap="round"/><path d="M-9.7,-8.8 L1.5,-8.8 Q5.5,-9.6 9.2,-12.9 L10.2,-11.6 Q6.2,-6.5 5.3,0 Q6.2,6.5 10.2,11.6 L9.2,12.9 Q5.5,9.6 1.5,8.8 L-9.7,8.6 Q-8.9,0 -9.7,-8.8Z" fill="#336699" stroke="#23507f" stroke-width="0.7"/><path d="M-9.7,-8.9 L1.5,-8.9 Q5.5,-9.7 9.2,-13" fill="none" stroke="#0d2f55" stroke-width="1.1"/><rect x="-7.2" y="5.8" width="2" height="2" fill="#5f9fdc"/></g>
<g transform="translate(1227.9,63.6) scale(-1,-1)"><path d="M9.6,-11.6 C13,-12.6 15.5,-9.6 17.5,-8 S21,-6.6 24,-6.6 L50.6,-6.6" fill="none" stroke="#9e9e9e" stroke-width="4.9" stroke-linecap="round"/><path d="M9.6,11.6 C13,12.6 15.5,9.6 17.5,8 S21,6.6 24,6.6 L50.6,6.6" fill="none" stroke="#9e9e9e" stroke-width="4.9" stroke-linecap="round"/><path d="M-9.7,-8.8 L1.5,-8.8 Q5.5,-9.6 9.2,-12.9 L10.2,-11.6 Q6.2,-6.5 5.3,0 Q6.2,6.5 10.2,11.6 L9.2,12.9 Q5.5,9.6 1.5,8.8 L-9.7,8.6 Q-8.9,0 -9.7,-8.8Z" fill="#336699" stroke="#23507f" stroke-width="0.7"/><path d="M-9.7,-8.9 L1.5,-8.9 Q5.5,-9.7 9.2,-13" fill="none" stroke="#0d2f55" stroke-width="1.1"/><rect x="-7.2" y="5.8" width="2" height="2" fill="#5f9fdc"/></g>
<g transform="translate(1214.8,76.8) scale(-1,-1)"><path d="M9.6,-11.6 C13,-12.6 15.5,-9.6 17.5,-8 S21,-6.6 24,-6.6 L50.6,-6.6" fill="none" stroke="#9e9e9e" stroke-width="4.9" stroke-linecap="round"/><path d="M9.6,11.6 C13,12.6 15.5,9.6 17.5,8 S21,6.6 24,6.6 L50.6,6.6" fill="none" stroke="#9e9e9e" stroke-width="4.9" stroke-linecap="round"/><path d="M-9.7,-8.8 L1.5,-8.8 Q5.5,-9.6 9.2,-12.9 L10.2,-11.6 Q6.2,-6.5 5.3,0 Q6.2,6.5 10.2,11.6 L9.2,12.9 Q5.5,9.6 1.5,8.8 L-9.7,8.6 Q-8.9,0 -9.7,-8.8Z" fill="#336699" stroke="#23507f" stroke-width="0.7"/><path d="M-9.7,-8.9 L1.5,-8.9 Q5.5,-9.7 9.2,-13" fill="none" stroke="#0d2f55" stroke-width="1.1"/><rect x="-7.2" y="5.8" width="2" height="2" fill="#5f9fdc"/></g>
<g transform="translate(1227.9,116.4) scale(-1,-1)"><path d="M9.6,-11.6 C13,-12.6 15.5,-9.6 17.5,-8 S21,-6.6 24,-6.6 L50.6,-6.6" fill="none" stroke="#9e9e9e" stroke-width="4.9" stroke-linecap="round"/><path d="M9.6,11.6 C13,12.6 15.5,9.6 17.5,8 S21,6.6 24,6.6 L50.6,6.6" fill="none" stroke="#9e9e9e" stroke-width="4.9" stroke-linecap="round"/><path d="M-9.7,-8.8 L1.5,-8.8 Q5.5,-9.6 9.2,-12.9 L10.2,-11.6 Q6.2,-6.5 5.3,0 Q6.2,6.5 10.2,11.6 L9.2,12.9 Q5.5,9.6 1.5,8.8 L-9.7,8.6 Q-8.9,0 -9.7,-8.8Z" fill="#336699" stroke="#23507f" stroke-width="0.7"/><path d="M-9.7,-8.9 L1.5,-8.9 Q5.5,-9.7 9.2,-13" fill="none" stroke="#0d2f55" stroke-width="1.1"/><rect x="-7.2" y="5.8" width="2" height="2" fill="#5f9fdc"/></g>
<g transform="translate(1227.9,142.8) scale(-1,-1)"><path d="M9.6,-11.6 C13,-12.6 15.5,-9.6 17.5,-8 S21,-6.6 24,-6.6 L50.6,-6.6" fill="none" stroke="#9e9e9e" stroke-width="4.9" stroke-linecap="round"/><path d="M9.6,11.6 C13,12.6 15.5,9.6 17.5,8 S21,6.6 24,6.6 L50.6,6.6" fill="none" stroke="#9e9e9e" stroke-width="4.9" stroke-linecap="round"/><path d="M-9.7,-8.8 L1.5,-8.8 Q5.5,-9.6 9.2,-12.9 L10.2,-11.6 Q6.2,-6.5 5.3,0 Q6.2,6.5 10.2,11.6 L9.2,12.9 Q5.5,9.6 1.5,8.8 L-9.7,8.6 Q-8.9,0 -9.7,-8.8Z" fill="#336699" stroke="#23507f" stroke-width="0.7"/><path d="M-9.7,-8.9 L1.5,-8.9 Q5.5,-9.7 9.2,-13" fill="none" stroke="#0d2f55" stroke-width="1.1"/><rect x="-7.2" y="5.8" width="2" height="2" fill="#5f9fdc"/></g>
<g transform="translate(1227.9,169.2) scale(-1,-1)"><path d="M9.6,-11.6 C13,-12.6 15.5,-9.6 17.5,-8 S21,-6.6 24,-6.6 L50.6,-6.6" fill="none" stroke="#9e9e9e" stroke-width="4.9" stroke-linecap="round"/><path d="M9.6,11.6 C13,12.6 15.5,9.6 17.5,8 S21,6.6 24,6.6 L50.6,6.6" fill="none" stroke="#9e9e9e" stroke-width="4.9" stroke-linecap="round"/><path d="M-9.7,-8.8 L1.5,-8.8 Q5.5,-9.6 9.2,-12.9 L10.2,-11.6 Q6.2,-6.5 5.3,0 Q6.2,6.5 10.2,11.6 L9.2,12.9 Q5.5,9.6 1.5,8.8 L-9.7,8.6 Q-8.9,0 -9.7,-8.8Z" fill="#336699" stroke="#23507f" stroke-width="0.7"/><path d="M-9.7,-8.9 L1.5,-8.9 Q5.5,-9.7 9.2,-13" fill="none" stroke="#0d2f55" stroke-width="1.1"/><rect x="-7.2" y="5.8" width="2" height="2" fill="#5f9fdc"/></g>
<g transform="translate(1227.9,208.8) scale(-1,-1)"><path d="M9.6,-11.6 C13,-12.6 15.5,-9.6 17.5,-8 S21,-6.6 24,-6.6 L50.6,-6.6" fill="none" stroke="#9e9e9e" stroke-width="4.9" stroke-linecap="round"/><path d="M9.6,11.6 C13,12.6 15.5,9.6 17.5,8 S21,6.6 24,6.6 L50.6,6.6" fill="none" stroke="#9e9e9e" stroke-width="4.9" stroke-linecap="round"/><path d="M-9.7,-8.8 L1.5,-8.8 Q5.5,-9.6 9.2,-12.9 L10.2,-11.6 Q6.2,-6.5 5.3,0 Q6.2,6.5 10.2,11.6 L9.2,12.9 Q5.5,9.6 1.5,8.8 L-9.7,8.6 Q-8.9,0 -9.7,-8.8Z" fill="#336699" stroke="#23507f" stroke-width="0.7"/><path d="M-9.7,-8.9 L1.5,-8.9 Q5.5,-9.7 9.2,-13" fill="none" stroke="#0d2f55" stroke-width="1.1"/><rect x="-7.2" y="5.8" width="2" height="2" fill="#5f9fdc"/></g>
<g transform="translate(1227.9,235.2) scale(-1,-1)"><path d="M9.6,-11.6 C13,-12.6 15.5,-9.6 17.5,-8 S21,-6.6 24,-6.6 L50.6,-6.6" fill="none" stroke="#9e9e9e" stroke-width="4.9" stroke-linecap="round"/><path d="M9.6,11.6 C13,12.6 15.5,9.6 17.5,8 S21,6.6 24,6.6 L50.6,6.6" fill="none" stroke="#9e9e9e" stroke-width="4.9" stroke-linecap="round"/><path d="M-9.7,-8.8 L1.5,-8.8 Q5.5,-9.6 9.2,-12.9 L10.2,-11.6 Q6.2,-6.5 5.3,0 Q6.2,6.5 10.2,11.6 L9.2,12.9 Q5.5,9.6 1.5,8.8 L-9.7,8.6 Q-8.9,0 -9.7,-8.8Z" fill="#336699" stroke="#23507f" stroke-width="0.7"/><path d="M-9.7,-8.9 L1.5,-8.9 Q5.5,-9.7 9.2,-13" fill="none" stroke="#0d2f55" stroke-width="1.1"/><rect x="-7.2" y="5.8" width="2" height="2" fill="#5f9fdc"/></g>
<g transform="translate(1227.9,261.6) scale(-1,-1)"><path d="M9.6,-11.6 C13,-12.6 15.5,-9.6 17.5,-8 S21,-6.6 24,-6.6 L50.6,-6.6" fill="none" stroke="#9e9e9e" stroke-width="4.9" stroke-linecap="round"/><path d="M9.6,11.6 C13,12.6 15.5,9.6 17.5,8 S21,6.6 24,6.6 L50.6,6.6" fill="none" stroke="#9e9e9e" stroke-width="4.9" stroke-linecap="round"/><path d="M-9.7,-8.8 L1.5,-8.8 Q5.5,-9.6 9.2,-12.9 L10.2,-11.6 Q6.2,-6.5 5.3,0 Q6.2,6.5 10.2,11.6 L9.2,12.9 Q5.5,9.6 1.5,8.8 L-9.7,8.6 Q-8.9,0 -9.7,-8.8Z" fill="#336699" stroke="#23507f" stroke-width="0.7"/><path d="M-9.7,-8.9 L1.5,-8.9 Q5.5,-9.7 9.2,-13" fill="none" stroke="#0d2f55" stroke-width="1.1"/><rect x="-7.2" y="5.8" width="2" height="2" fill="#5f9fdc"/></g>
<g transform="translate(1227.9,301.2) scale(-1,-1)"><path d="M9.6,-11.6 C13,-12.6 15.5,-9.6 17.5,-8 S21,-6.6 24,-6.6 L50.6,-6.6" fill="none" stroke="#9e9e9e" stroke-width="4.9" stroke-linecap="round"/><path d="M9.6,11.6 C13,12.6 15.5,9.6 17.5,8 S21,6.6 24,6.6 L50.6,6.6" fill="none" stroke="#9e9e9e" stroke-width="4.9" stroke-linecap="round"/><path d="M-9.7,-8.8 L1.5,-8.8 Q5.5,-9.6 9.2,-12.9 L10.2,-11.6 Q6.2,-6.5 5.3,0 Q6.2,6.5 10.2,11.6 L9.2,12.9 Q5.5,9.6 1.5,8.8 L-9.7,8.6 Q-8.9,0 -9.7,-8.8Z" fill="#336699" stroke="#23507f" stroke-width="0.7"/><path d="M-9.7,-8.9 L1.5,-8.9 Q5.5,-9.7 9.2,-13" fill="none" stroke="#0d2f55" stroke-width="1.1"/><rect x="-7.2" y="5.8" width="2" height="2" fill="#5f9fdc"/></g>
<g transform="translate(1227.9,327.6) scale(-1,-1)"><path d="M9.6,-11.6 C13,-12.6 15.5,-9.6 17.5,-8 S21,-6.6 24,-6.6 L50.6,-6.6" fill="none" stroke="#9e9e9e" stroke-width="4.9" stroke-linecap="round"/><path d="M9.6,11.6 C13,12.6 15.5,9.6 17.5,8 S21,6.6 24,6.6 L50.6,6.6" fill="none" stroke="#9e9e9e" stroke-width="4.9" stroke-linecap="round"/><path d="M-9.7,-8.8 L1.5,-8.8 Q5.5,-9.6 9.2,-12.9 L10.2,-11.6 Q6.2,-6.5 5.3,0 Q6.2,6.5 10.2,11.6 L9.2,12.9 Q5.5,9.6 1.5,8.8 L-9.7,8.6 Q-8.9,0 -9.7,-8.8Z" fill="#336699" stroke="#23507f" stroke-width="0.7"/><path d="M-9.7,-8.9 L1.5,-8.9 Q5.5,-9.7 9.2,-13" fill="none" stroke="#0d2f55" stroke-width="1.1"/><rect x="-7.2" y="5.8" width="2" height="2" fill="#5f9fdc"/></g>
<g transform="translate(1227.9,354) scale(-1,-1)"><path d="M9.6,-11.6 C13,-12.6 15.5,-9.6 17.5,-8 S21,-6.6 24,-6.6 L50.6,-6.6" fill="none" stroke="#9e9e9e" stroke-width="4.9" stroke-linecap="round"/><path d="M9.6,11.6 C13,12.6 15.5,9.6 17.5,8 S21,6.6 24,6.6 L50.6,6.6" fill="none" stroke="#9e9e9e" stroke-width="4.9" stroke-linecap="round"/><path d="M-9.7,-8.8 L1.5,-8.8 Q5.5,-9.6 9.2,-12.9 L10.2,-11.6 Q6.2,-6.5 5.3,0 Q6.2,6.5 10.2,11.6 L9.2,12.9 Q5.5,9.6 1.5,8.8 L-9.7,8.6 Q-8.9,0 -9.7,-8.8Z" fill="#336699" stroke="#23507f" stroke-width="0.7"/><path d="M-9.7,-8.9 L1.5,-8.9 Q5.5,-9.7 9.2,-13" fill="none" stroke="#0d2f55" stroke-width="1.1"/><rect x="-7.2" y="5.8" width="2" height="2" fill="#5f9fdc"/></g>
<g transform="translate(1227.9,393.6) scale(-1,-1)"><path d="M9.6,-11.6 C13,-12.6 15.5,-9.6 17.5,-8 S21,-6.6 24,-6.6 L50.6,-6.6" fill="none" stroke="#9e9e9e" stroke-width="4.9" stroke-linecap="round"/><path d="M9.6,11.6 C13,12.6 15.5,9.6 17.5,8 S21,6.6 24,6.6 L50.6,6.6" fill="none" stroke="#9e9e9e" stroke-width="4.9" stroke-linecap="round"/><path d="M-9.7,-8.8 L1.5,-8.8 Q5.5,-9.6 9.2,-12.9 L10.2,-11.6 Q6.2,-6.5 5.3,0 Q6.2,6.5 10.2,11.6 L9.2,12.9 Q5.5,9.6 1.5,8.8 L-9.7,8.6 Q-8.9,0 -9.7,-8.8Z" fill="#336699" stroke="#23507f" stroke-width="0.7"/><path d="M-9.7,-8.9 L1.5,-8.9 Q5.5,-9.7 9.2,-13" fill="none" stroke="#0d2f55" stroke-width="1.1"/><rect x="-7.2" y="5.8" width="2" height="2" fill="#5f9fdc"/></g>
<g transform="translate(1227.9,420) scale(-1,-1)"><path d="M9.6,-11.6 C13,-12.6 15.5,-9.6 17.5,-8 S21,-6.6 24,-6.6 L50.6,-6.6" fill="none" stroke="#9e9e9e" stroke-width="4.9" stroke-linecap="round"/><path d="M9.6,11.6 C13,12.6 15.5,9.6 17.5,8 S21,6.6 24,6.6 L50.6,6.6" fill="none" stroke="#9e9e9e" stroke-width="4.9" stroke-linecap="round"/><path d="M-9.7,-8.8 L1.5,-8.8 Q5.5,-9.6 9.2,-12.9 L10.2,-11.6 Q6.2,-6.5 5.3,0 Q6.2,6.5 10.2,11.6 L9.2,12.9 Q5.5,9.6 1.5,8.8 L-9.7,8.6 Q-8.9,0 -9.7,-8.8Z" fill="#336699" stroke="#23507f" stroke-width="0.7"/><path d="M-9.7,-8.9 L1.5,-8.9 Q5.5,-9.7 9.2,-13" fill="none" stroke="#0d2f55" stroke-width="1.1"/><rect x="-7.2" y="5.8" width="2" height="2" fill="#5f9fdc"/></g>
<g transform="translate(1227.9,446.4) scale(-1,-1)"><path d="M9.6,-11.6 C13,-12.6 15.5,-9.6 17.5,-8 S21,-6.6 24,-6.6 L50.6,-6.6" fill="none" stroke="#9e9e9e" stroke-width="4.9" stroke-linecap="round"/><path d="M9.6,11.6 C13,12.6 15.5,9.6 17.5,8 S21,6.6 24,6.6 L50.6,6.6" fill="none" stroke="#9e9e9e" stroke-width="4.9" stroke-linecap="round"/><path d="M-9.7,-8.8 L1.5,-8.8 Q5.5,-9.6 9.2,-12.9 L10.2,-11.6 Q6.2,-6.5 5.3,0 Q6.2,6.5 10.2,11.6 L9.2,12.9 Q5.5,9.6 1.5,8.8 L-9.7,8.6 Q-8.9,0 -9.7,-8.8Z" fill="#336699" stroke="#23507f" stroke-width="0.7"/><path d="M-9.7,-8.9 L1.5,-8.9 Q5.5,-9.7 9.2,-13" fill="none" stroke="#0d2f55" stroke-width="1.1"/><rect x="-7.2" y="5.8" width="2" height="2" fill="#5f9fdc"/></g>
<g transform="translate(1227.9,486) scale(-1,-1)"><path d="M9.6,-11.6 C13,-12.6 15.5,-9.6 17.5,-8 S21,-6.6 24,-6.6 L50.6,-6.6" fill="none" stroke="#9e9e9e" stroke-width="4.9" stroke-linecap="round"/><path d="M9.6,11.6 C13,12.6 15.5,9.6 17.5,8 S21,6.6 24,6.6 L50.6,6.6" fill="none" stroke="#9e9e9e" stroke-width="4.9" stroke-linecap="round"/><path d="M-9.7,-8.8 L1.5,-8.8 Q5.5,-9.6 9.2,-12.9 L10.2,-11.6 Q6.2,-6.5 5.3,0 Q6.2,6.5 10.2,11.6 L9.2,12.9 Q5.5,9.6 1.5,8.8 L-9.7,8.6 Q-8.9,0 -9.7,-8.8Z" fill="#336699" stroke="#23507f" stroke-width="0.7"/><path d="M-9.7,-8.9 L1.5,-8.9 Q5.5,-9.7 9.2,-13" fill="none" stroke="#0d2f55" stroke-width="1.1"/><rect x="-7.2" y="5.8" width="2" height="2" fill="#5f9fdc"/></g>
<g transform="translate(1227.9,512.4) scale(-1,-1)"><path d="M9.6,-11.6 C13,-12.6 15.5,-9.6 17.5,-8 S21,-6.6 24,-6.6 L50.6,-6.6" fill="none" stroke="#9e9e9e" stroke-width="4.9" stroke-linecap="round"/><path d="M9.6,11.6 C13,12.6 15.5,9.6 17.5,8 S21,6.6 24,6.6 L50.6,6.6" fill="none" stroke="#9e9e9e" stroke-width="4.9" stroke-linecap="round"/><path d="M-9.7,-8.8 L1.5,-8.8 Q5.5,-9.6 9.2,-12.9 L10.2,-11.6 Q6.2,-6.5 5.3,0 Q6.2,6.5 10.2,11.6 L9.2,12.9 Q5.5,9.6 1.5,8.8 L-9.7,8.6 Q-8.9,0 -9.7,-8.8Z" fill="#336699" stroke="#23507f" stroke-width="0.7"/><path d="M-9.7,-8.9 L1.5,-8.9 Q5.5,-9.7 9.2,-13" fill="none" stroke="#0d2f55" stroke-width="1.1"/><rect x="-7.2" y="5.8" width="2" height="2" fill="#5f9fdc"/></g>
<g transform="translate(1227.9,538.8) scale(-1,-1)"><path d="M9.6,-11.6 C13,-12.6 15.5,-9.6 17.5,-8 S21,-6.6 24,-6.6 L50.6,-6.6" fill="none" stroke="#9e9e9e" stroke-width="4.9" stroke-linecap="round"/><path d="M9.6,11.6 C13,12.6 15.5,9.6 17.5,8 S21,6.6 24,6.6 L50.6,6.6" fill="none" stroke="#9e9e9e" stroke-width="4.9" stroke-linecap="round"/><path d="M-9.7,-8.8 L1.5,-8.8 Q5.5,-9.6 9.2,-12.9 L10.2,-11.6 Q6.2,-6.5 5.3,0 Q6.2,6.5 10.2,11.6 L9.2,12.9 Q5.5,9.6 1.5,8.8 L-9.7,8.6 Q-8.9,0 -9.7,-8.8Z" fill="#336699" stroke="#23507f" stroke-width="0.7"/><path d="M-9.7,-8.9 L1.5,-8.9 Q5.5,-9.7 9.2,-13" fill="none" stroke="#0d2f55" stroke-width="1.1"/><rect x="-7.2" y="5.8" width="2" height="2" fill="#5f9fdc"/></g>
<g transform="translate(1227.9,578.4) scale(-1,-1)"><path d="M9.6,-11.6 C13,-12.6 15.5,-9.6 17.5,-8 S21,-6.6 24,-6.6 L50.6,-6.6" fill="none" stroke="#9e9e9e" stroke-width="4.9" stroke-linecap="round"/><path d="M9.6,11.6 C13,12.6 15.5,9.6 17.5,8 S21,6.6 24,6.6 L50.6,6.6" fill="none" stroke="#9e9e9e" stroke-width="4.9" stroke-linecap="round"/><path d="M-9.7,-8.8 L1.5,-8.8 Q5.5,-9.6 9.2,-12.9 L10.2,-11.6 Q6.2,-6.5 5.3,0 Q6.2,6.5 10.2,11.6 L9.2,12.9 Q5.5,9.6 1.5,8.8 L-9.7,8.6 Q-8.9,0 -9.7,-8.8Z" fill="#336699" stroke="#23507f" stroke-width="0.7"/><path d="M-9.7,-8.9 L1.5,-8.9 Q5.5,-9.7 9.2,-13" fill="none" stroke="#0d2f55" stroke-width="1.1"/><rect x="-7.2" y="5.8" width="2" height="2" fill="#5f9fdc"/></g>
<g transform="translate(1227.9,604.8) scale(-1,-1)"><path d="M9.6,-11.6 C13,-12.6 15.5,-9.6 17.5,-8 S21,-6.6 24,-6.6 L50.6,-6.6" fill="none" stroke="#9e9e9e" stroke-width="4.9" stroke-linecap="round"/><path d="M9.6,11.6 C13,12.6 15.5,9.6 17.5,8 S21,6.6 24,6.6 L50.6,6.6" fill="none" stroke="#9e9e9e" stroke-width="4.9" stroke-linecap="round"/><path d="M-9.7,-8.8 L1.5,-8.8 Q5.5,-9.6 9.2,-12.9 L10.2,-11.6 Q6.2,-6.5 5.3,0 Q6.2,6.5 10.2,11.6 L9.2,12.9 Q5.5,9.6 1.5,8.8 L-9.7,8.6 Q-8.9,0 -9.7,-8.8Z" fill="#336699" stroke="#23507f" stroke-width="0.7"/><path d="M-9.7,-8.9 L1.5,-8.9 Q5.5,-9.7 9.2,-13" fill="none" stroke="#0d2f55" stroke-width="1.1"/><rect x="-7.2" y="5.8" width="2" height="2" fill="#5f9fdc"/></g>
<g transform="translate(1227.9,631.2) scale(-1,-1)"><path d="M9.6,-11.6 C13,-12.6 15.5,-9.6 17.5,-8 S21,-6.6 24,-6.6 L50.6,-6.6" fill="none" stroke="#9e9e9e" stroke-width="4.9" stroke-linecap="round"/><path d="M9.6,11.6 C13,12.6 15.5,9.6 17.5,8 S21,6.6 24,6.6 L50.6,6.6" fill="none" stroke="#9e9e9e" stroke-width="4.9" stroke-linecap="round"/><path d="M-9.7,-8.8 L1.5,-8.8 Q5.5,-9.6 9.2,-12.9 L10.2,-11.6 Q6.2,-6.5 5.3,0 Q6.2,6.5 10.2,11.6 L9.2,12.9 Q5.5,9.6 1.5,8.8 L-9.7,8.6 Q-8.9,0 -9.7,-8.8Z" fill="#336699" stroke="#23507f" stroke-width="0.7"/><path d="M-9.7,-8.9 L1.5,-8.9 Q5.5,-9.7 9.2,-13" fill="none" stroke="#0d2f55" stroke-width="1.1"/><rect x="-7.2" y="5.8" width="2" height="2" fill="#5f9fdc"/></g>
<g><rect x="396.2" y="41.6" width="8" height="4.4" fill="#969696" stroke="#5fae5f" stroke-width="1"/><rect x="433.2" y="41.6" width="8" height="4.4" fill="#969696" stroke="#5fae5f" stroke-width="1"/><rect x="396.2" y="54.8" width="8" height="4.4" fill="#969696" stroke="#5fae5f" stroke-width="1"/><rect x="433.2" y="54.8" width="8" height="4.4" fill="#969696" stroke="#5fae5f" stroke-width="1"/><rect x="396.2" y="68" width="8" height="4.4" fill="#969696" stroke="#5fae5f" stroke-width="1"/><rect x="433.2" y="68" width="8" height="4.4" fill="#969696" stroke="#5fae5f" stroke-width="1"/><rect x="396.2" y="81.2" width="8" height="4.4" fill="#969696" stroke="#5fae5f" stroke-width="1"/><rect x="433.2" y="81.2" width="8" height="4.4" fill="#969696" stroke="#5fae5f" stroke-width="1"/><rect x="403.8" y="36.9" width="30.2" height="53.5" fill="#666666"/><rect x="403.8" y="36.9" width="30.2" height="2.8" fill="#444444"/><rect x="410.4" y="41.6" width="17.4" height="7.8" fill="#ffffff" stroke="#dedede" stroke-width="0.5"/><path d="M405.6,45.9 h2.6 M406.9,44.6 v2.6" stroke="#111" stroke-width="0.9"/><path d="M429.1,45.9 h2.4" stroke="#111" stroke-width="1.1"/><rect x="403.8" y="50.1" width="30.2" height="1.5" fill="#4a4a4a"/><rect x="410.4" y="54.8" width="17.4" height="7.8" fill="#ffffff" stroke="#dedede" stroke-width="0.5"/><path d="M405.6,59.1 h2.6 M406.9,57.8 v2.6" stroke="#111" stroke-width="0.9"/><path d="M429.1,59.1 h2.4" stroke="#111" stroke-width="1.1"/><rect x="403.8" y="63.3" width="30.2" height="1.5" fill="#4a4a4a"/><rect x="410.4" y="68" width="17.4" height="7.8" fill="#ffffff" stroke="#dedede" stroke-width="0.5"/><path d="M405.6,72.3 h2.6 M406.9,71 v2.6" stroke="#111" stroke-width="0.9"/><path d="M429.1,72.3 h2.4" stroke="#111" stroke-width="1.1"/><rect x="403.8" y="76.5" width="30.2" height="1.5" fill="#4a4a4a"/><rect x="410.4" y="81.2" width="17.4" height="7.8" fill="#ffffff" stroke="#dedede" stroke-width="0.5"/><path d="M405.6,85.5 h2.6 M406.9,84.2 v2.6" stroke="#111" stroke-width="0.9"/><path d="M429.1,85.5 h2.4" stroke="#111" stroke-width="1.1"/></g>
<g><rect x="897.8" y="28.4" width="8" height="4.4" fill="#969696" stroke="#5fae5f" stroke-width="1"/><rect x="934.9" y="28.4" width="8" height="4.4" fill="#969696" stroke="#5fae5f" stroke-width="1"/><rect x="897.8" y="41.6" width="8" height="4.4" fill="#969696" stroke="#5fae5f" stroke-width="1"/><rect x="934.9" y="41.6" width="8" height="4.4" fill="#969696" stroke="#5fae5f" stroke-width="1"/><rect x="897.8" y="54.8" width="8" height="4.4" fill="#969696" stroke="#5fae5f" stroke-width="1"/><rect x="934.9" y="54.8" width="8" height="4.4" fill="#969696" stroke="#5fae5f" stroke-width="1"/><rect x="897.8" y="68" width="8" height="4.4" fill="#969696" stroke="#5fae5f" stroke-width="1"/><rect x="934.9" y="68" width="8" height="4.4" fill="#969696" stroke="#5fae5f" stroke-width="1"/><rect x="905.3" y="22.7" width="30.2" height="53.7" fill="#666666"/><rect x="905.3" y="73.8" width="30.2" height="2.6" fill="#444444"/><rect x="905.3" y="35.6" width="30.2" height="1.5" fill="#4a4a4a"/><rect x="912" y="25" width="17.4" height="7.8" fill="#ffffff" stroke="#dedede" stroke-width="0.5"/><path d="M907.2,29.3 h2.6 M908.5,28 v2.6" stroke="#111" stroke-width="0.9"/><path d="M930.8,29.3 h2.4" stroke="#111" stroke-width="1.1"/><rect x="905.3" y="48.8" width="30.2" height="1.5" fill="#4a4a4a"/><rect x="912" y="38.2" width="17.4" height="7.8" fill="#ffffff" stroke="#dedede" stroke-width="0.5"/><path d="M907.2,42.5 h2.6 M908.5,41.2 v2.6" stroke="#111" stroke-width="0.9"/><path d="M930.8,42.5 h2.4" stroke="#111" stroke-width="1.1"/><rect x="905.3" y="62" width="30.2" height="1.5" fill="#4a4a4a"/><rect x="912" y="51.4" width="17.4" height="7.8" fill="#ffffff" stroke="#dedede" stroke-width="0.5"/><path d="M907.2,55.7 h2.6 M908.5,54.4 v2.6" stroke="#111" stroke-width="0.9"/><path d="M930.8,55.7 h2.4" stroke="#111" stroke-width="1.1"/><rect x="912" y="64.6" width="17.4" height="7.8" fill="#ffffff" stroke="#dedede" stroke-width="0.5"/><path d="M907.2,68.9 h2.6 M908.5,67.6 v2.6" stroke="#111" stroke-width="0.9"/><path d="M930.8,68.9 h2.4" stroke="#111" stroke-width="1.1"/></g>
<g><rect x="396.2" y="107.6" width="8" height="4.4" fill="#969696" stroke="#5fae5f" stroke-width="1"/><rect x="433.2" y="107.6" width="8" height="4.4" fill="#969696" stroke="#5fae5f" stroke-width="1"/><rect x="396.2" y="120.8" width="8" height="4.4" fill="#969696" stroke="#5fae5f" stroke-width="1"/><rect x="433.2" y="120.8" width="8" height="4.4" fill="#969696" stroke="#5fae5f" stroke-width="1"/><rect x="396.2" y="134" width="8" height="4.4" fill="#969696" stroke="#5fae5f" stroke-width="1"/><rect x="433.2" y="134" width="8" height="4.4" fill="#969696" stroke="#5fae5f" stroke-width="1"/><rect x="396.2" y="147.2" width="8" height="4.4" fill="#969696" stroke="#5fae5f" stroke-width="1"/><rect x="433.2" y="147.2" width="8" height="4.4" fill="#969696" stroke="#5fae5f" stroke-width="1"/><rect x="403.8" y="102.9" width="30.2" height="53.5" fill="#666666"/><rect x="403.8" y="102.9" width="30.2" height="2.8" fill="#444444"/><rect x="410.4" y="107.6" width="17.4" height="7.8" fill="#ffffff" stroke="#dedede" stroke-width="0.5"/><path d="M405.6,111.9 h2.6 M406.9,110.6 v2.6" stroke="#111" stroke-width="0.9"/><path d="M429.1,111.9 h2.4" stroke="#111" stroke-width="1.1"/><rect x="403.8" y="116.1" width="30.2" height="1.5" fill="#4a4a4a"/><rect x="410.4" y="120.8" width="17.4" height="7.8" fill="#ffffff" stroke="#dedede" stroke-width="0.5"/><path d="M405.6,125.1 h2.6 M406.9,123.8 v2.6" stroke="#111" stroke-width="0.9"/><path d="M429.1,125.1 h2.4" stroke="#111" stroke-width="1.1"/><rect x="403.8" y="129.3" width="30.2" height="1.5" fill="#4a4a4a"/><rect x="410.4" y="134" width="17.4" height="7.8" fill="#ffffff" stroke="#dedede" stroke-width="0.5"/><path d="M405.6,138.3 h2.6 M406.9,137 v2.6" stroke="#111" stroke-width="0.9"/><path d="M429.1,138.3 h2.4" stroke="#111" stroke-width="1.1"/><rect x="403.8" y="142.5" width="30.2" height="1.5" fill="#4a4a4a"/><rect x="410.4" y="147.2" width="17.4" height="7.8" fill="#ffffff" stroke="#dedede" stroke-width="0.5"/><path d="M405.6,151.5 h2.6 M406.9,150.2 v2.6" stroke="#111" stroke-width="0.9"/><path d="M429.1,151.5 h2.4" stroke="#111" stroke-width="1.1"/></g>
<g><rect x="897.8" y="94.4" width="8" height="4.4" fill="#969696" stroke="#5fae5f" stroke-width="1"/><rect x="934.9" y="94.4" width="8" height="4.4" fill="#969696" stroke="#5fae5f" stroke-width="1"/><rect x="897.8" y="107.6" width="8" height="4.4" fill="#969696" stroke="#5fae5f" stroke-width="1"/><rect x="934.9" y="107.6" width="8" height="4.4" fill="#969696" stroke="#5fae5f" stroke-width="1"/><rect x="897.8" y="120.8" width="8" height="4.4" fill="#969696" stroke="#5fae5f" stroke-width="1"/><rect x="934.9" y="120.8" width="8" height="4.4" fill="#969696" stroke="#5fae5f" stroke-width="1"/><rect x="897.8" y="134" width="8" height="4.4" fill="#969696" stroke="#5fae5f" stroke-width="1"/><rect x="934.9" y="134" width="8" height="4.4" fill="#969696" stroke="#5fae5f" stroke-width="1"/><rect x="905.3" y="88.7" width="30.2" height="53.7" fill="#666666"/><rect x="905.3" y="139.8" width="30.2" height="2.6" fill="#444444"/><rect x="905.3" y="101.6" width="30.2" height="1.5" fill="#4a4a4a"/><rect x="912" y="91" width="17.4" height="7.8" fill="#ffffff" stroke="#dedede" stroke-width="0.5"/><path d="M907.2,95.3 h2.6 M908.5,94 v2.6" stroke="#111" stroke-width="0.9"/><path d="M930.8,95.3 h2.4" stroke="#111" stroke-width="1.1"/><rect x="905.3" y="114.8" width="30.2" height="1.5" fill="#4a4a4a"/><rect x="912" y="104.2" width="17.4" height="7.8" fill="#ffffff" stroke="#dedede" stroke-width="0.5"/><path d="M907.2,108.5 h2.6 M908.5,107.2 v2.6" stroke="#111" stroke-width="0.9"/><path d="M930.8,108.5 h2.4" stroke="#111" stroke-width="1.1"/><rect x="905.3" y="128" width="30.2" height="1.5" fill="#4a4a4a"/><rect x="912" y="117.4" width="17.4" height="7.8" fill="#ffffff" stroke="#dedede" stroke-width="0.5"/><path d="M907.2,121.7 h2.6 M908.5,120.4 v2.6" stroke="#111" stroke-width="0.9"/><path d="M930.8,121.7 h2.4" stroke="#111" stroke-width="1.1"/><rect x="912" y="130.6" width="17.4" height="7.8" fill="#ffffff" stroke="#dedede" stroke-width="0.5"/><path d="M907.2,134.9 h2.6 M908.5,133.6 v2.6" stroke="#111" stroke-width="0.9"/><path d="M930.8,134.9 h2.4" stroke="#111" stroke-width="1.1"/></g>
<g><rect x="396.2" y="173.6" width="8" height="4.4" fill="#969696" stroke="#5fae5f" stroke-width="1"/><rect x="433.2" y="173.6" width="8" height="4.4" fill="#969696" stroke="#5fae5f" stroke-width="1"/><rect x="396.2" y="186.8" width="8" height="4.4" fill="#969696" stroke="#5fae5f" stroke-width="1"/><rect x="433.2" y="186.8" width="8" height="4.4" fill="#969696" stroke="#5fae5f" stroke-width="1"/><rect x="396.2" y="200" width="8" height="4.4" fill="#969696" stroke="#5fae5f" stroke-width="1"/><rect x="433.2" y="200" width="8" height="4.4" fill="#969696" stroke="#5fae5f" stroke-width="1"/><rect x="396.2" y="213.2" width="8" height="4.4" fill="#969696" stroke="#5fae5f" stroke-width="1"/><rect x="433.2" y="213.2" width="8" height="4.4" fill="#969696" stroke="#5fae5f" stroke-width="1"/><rect x="403.8" y="168.9" width="30.2" height="53.5" fill="#666666"/><rect x="403.8" y="168.9" width="30.2" height="2.8" fill="#444444"/><rect x="410.4" y="173.6" width="17.4" height="7.8" fill="#ffffff" stroke="#dedede" stroke-width="0.5"/><path d="M405.6,177.9 h2.6 M406.9,176.6 v2.6" stroke="#111" stroke-width="0.9"/><path d="M429.1,177.9 h2.4" stroke="#111" stroke-width="1.1"/><rect x="403.8" y="182.1" width="30.2" height="1.5" fill="#4a4a4a"/><rect x="410.4" y="186.8" width="17.4" height="7.8" fill="#ffffff" stroke="#dedede" stroke-width="0.5"/><path d="M405.6,191.1 h2.6 M406.9,189.8 v2.6" stroke="#111" stroke-width="0.9"/><path d="M429.1,191.1 h2.4" stroke="#111" stroke-width="1.1"/><rect x="403.8" y="195.3" width="30.2" height="1.5" fill="#4a4a4a"/><rect x="410.4" y="200" width="17.4" height="7.8" fill="#ffffff" stroke="#dedede" stroke-width="0.5"/><path d="M405.6,204.3 h2.6 M406.9,203 v2.6" stroke="#111" stroke-width="0.9"/><path d="M429.1,204.3 h2.4" stroke="#111" stroke-width="1.1"/><rect x="403.8" y="208.5" width="30.2" height="1.5" fill="#4a4a4a"/><rect x="410.4" y="213.2" width="17.4" height="7.8" fill="#ffffff" stroke="#dedede" stroke-width="0.5"/><path d="M405.6,217.5 h2.6 M406.9,216.2 v2.6" stroke="#111" stroke-width="0.9"/><path d="M429.1,217.5 h2.4" stroke="#111" stroke-width="1.1"/></g>
<g><rect x="897.8" y="160.4" width="8" height="4.4" fill="#969696" stroke="#5fae5f" stroke-width="1"/><rect x="934.9" y="160.4" width="8" height="4.4" fill="#969696" stroke="#5fae5f" stroke-width="1"/><rect x="897.8" y="173.6" width="8" height="4.4" fill="#969696" stroke="#5fae5f" stroke-width="1"/><rect x="934.9" y="173.6" width="8" height="4.4" fill="#969696" stroke="#5fae5f" stroke-width="1"/><rect x="897.8" y="186.8" width="8" height="4.4" fill="#969696" stroke="#5fae5f" stroke-width="1"/><rect x="934.9" y="186.8" width="8" height="4.4" fill="#969696" stroke="#5fae5f" stroke-width="1"/><rect x="897.8" y="200" width="8" height="4.4" fill="#969696" stroke="#5fae5f" stroke-width="1"/><rect x="934.9" y="200" width="8" height="4.4" fill="#969696" stroke="#5fae5f" stroke-width="1"/><rect x="905.3" y="154.7" width="30.2" height="53.7" fill="#666666"/><rect x="905.3" y="205.8" width="30.2" height="2.6" fill="#444444"/><rect x="905.3" y="167.6" width="30.2" height="1.5" fill="#4a4a4a"/><rect x="912" y="157" width="17.4" height="7.8" fill="#ffffff" stroke="#dedede" stroke-width="0.5"/><path d="M907.2,161.3 h2.6 M908.5,160 v2.6" stroke="#111" stroke-width="0.9"/><path d="M930.8,161.3 h2.4" stroke="#111" stroke-width="1.1"/><rect x="905.3" y="180.8" width="30.2" height="1.5" fill="#4a4a4a"/><rect x="912" y="170.2" width="17.4" height="7.8" fill="#ffffff" stroke="#dedede" stroke-width="0.5"/><path d="M907.2,174.5 h2.6 M908.5,173.2 v2.6" stroke="#111" stroke-width="0.9"/><path d="M930.8,174.5 h2.4" stroke="#111" stroke-width="1.1"/><rect x="905.3" y="194" width="30.2" height="1.5" fill="#4a4a4a"/><rect x="912" y="183.4" width="17.4" height="7.8" fill="#ffffff" stroke="#dedede" stroke-width="0.5"/><path d="M907.2,187.7 h2.6 M908.5,186.4 v2.6" stroke="#111" stroke-width="0.9"/><path d="M930.8,187.7 h2.4" stroke="#111" stroke-width="1.1"/><rect x="912" y="196.6" width="17.4" height="7.8" fill="#ffffff" stroke="#dedede" stroke-width="0.5"/><path d="M907.2,200.9 h2.6 M908.5,199.6 v2.6" stroke="#111" stroke-width="0.9"/><path d="M930.8,200.9 h2.4" stroke="#111" stroke-width="1.1"/></g>
<g><rect x="396.2" y="239.6" width="8" height="4.4" fill="#969696" stroke="#5fae5f" stroke-width="1"/><rect x="433.2" y="239.6" width="8" height="4.4" fill="#969696" stroke="#5fae5f" stroke-width="1"/><rect x="396.2" y="252.8" width="8" height="4.4" fill="#969696" stroke="#5fae5f" stroke-width="1"/><rect x="433.2" y="252.8" width="8" height="4.4" fill="#969696" stroke="#5fae5f" stroke-width="1"/><rect x="396.2" y="266" width="8" height="4.4" fill="#969696" stroke="#5fae5f" stroke-width="1"/><rect x="433.2" y="266" width="8" height="4.4" fill="#969696" stroke="#5fae5f" stroke-width="1"/><rect x="396.2" y="279.2" width="8" height="4.4" fill="#969696" stroke="#5fae5f" stroke-width="1"/><rect x="433.2" y="279.2" width="8" height="4.4" fill="#969696" stroke="#5fae5f" stroke-width="1"/><rect x="403.8" y="234.9" width="30.2" height="53.5" fill="#666666"/><rect x="403.8" y="234.9" width="30.2" height="2.8" fill="#444444"/><rect x="410.4" y="239.6" width="17.4" height="7.8" fill="#ffffff" stroke="#dedede" stroke-width="0.5"/><path d="M405.6,243.9 h2.6 M406.9,242.6 v2.6" stroke="#111" stroke-width="0.9"/><path d="M429.1,243.9 h2.4" stroke="#111" stroke-width="1.1"/><rect x="403.8" y="248.1" width="30.2" height="1.5" fill="#4a4a4a"/><rect x="410.4" y="252.8" width="17.4" height="7.8" fill="#ffffff" stroke="#dedede" stroke-width="0.5"/><path d="M405.6,257.1 h2.6 M406.9,255.8 v2.6" stroke="#111" stroke-width="0.9"/><path d="M429.1,257.1 h2.4" stroke="#111" stroke-width="1.1"/><rect x="403.8" y="261.3" width="30.2" height="1.5" fill="#4a4a4a"/><rect x="410.4" y="266" width="17.4" height="7.8" fill="#ffffff" stroke="#dedede" stroke-width="0.5"/><path d="M405.6,270.3 h2.6 M406.9,269 v2.6" stroke="#111" stroke-width="0.9"/><path d="M429.1,270.3 h2.4" stroke="#111" stroke-width="1.1"/><rect x="403.8" y="274.5" width="30.2" height="1.5" fill="#4a4a4a"/><rect x="410.4" y="279.2" width="17.4" height="7.8" fill="#ffffff" stroke="#dedede" stroke-width="0.5"/><path d="M405.6,283.5 h2.6 M406.9,282.2 v2.6" stroke="#111" stroke-width="0.9"/><path d="M429.1,283.5 h2.4" stroke="#111" stroke-width="1.1"/></g>
<g><rect x="897.8" y="226.4" width="8" height="4.4" fill="#969696" stroke="#5fae5f" stroke-width="1"/><rect x="934.9" y="226.4" width="8" height="4.4" fill="#969696" stroke="#5fae5f" stroke-width="1"/><rect x="897.8" y="239.6" width="8" height="4.4" fill="#969696" stroke="#5fae5f" stroke-width="1"/><rect x="934.9" y="239.6" width="8" height="4.4" fill="#969696" stroke="#5fae5f" stroke-width="1"/><rect x="897.8" y="252.8" width="8" height="4.4" fill="#969696" stroke="#5fae5f" stroke-width="1"/><rect x="934.9" y="252.8" width="8" height="4.4" fill="#969696" stroke="#5fae5f" stroke-width="1"/><rect x="897.8" y="266" width="8" height="4.4" fill="#969696" stroke="#5fae5f" stroke-width="1"/><rect x="934.9" y="266" width="8" height="4.4" fill="#969696" stroke="#5fae5f" stroke-width="1"/><rect x="905.3" y="220.7" width="30.2" height="53.7" fill="#666666"/><rect x="905.3" y="271.8" width="30.2" height="2.6" fill="#444444"/><rect x="905.3" y="233.6" width="30.2" height="1.5" fill="#4a4a4a"/><rect x="912" y="223" width="17.4" height="7.8" fill="#ffffff" stroke="#dedede" stroke-width="0.5"/><path d="M907.2,227.3 h2.6 M908.5,226 v2.6" stroke="#111" stroke-width="0.9"/><path d="M930.8,227.3 h2.4" stroke="#111" stroke-width="1.1"/><rect x="905.3" y="246.8" width="30.2" height="1.5" fill="#4a4a4a"/><rect x="912" y="236.2" width="17.4" height="7.8" fill="#ffffff" stroke="#dedede" stroke-width="0.5"/><path d="M907.2,240.5 h2.6 M908.5,239.2 v2.6" stroke="#111" stroke-width="0.9"/><path d="M930.8,240.5 h2.4" stroke="#111" stroke-width="1.1"/><rect x="905.3" y="260" width="30.2" height="1.5" fill="#4a4a4a"/><rect x="912" y="249.4" width="17.4" height="7.8" fill="#ffffff" stroke="#dedede" stroke-width="0.5"/><path d="M907.2,253.7 h2.6 M908.5,252.4 v2.6" stroke="#111" stroke-width="0.9"/><path d="M930.8,253.7 h2.4" stroke="#111" stroke-width="1.1"/><rect x="912" y="262.6" width="17.4" height="7.8" fill="#ffffff" stroke="#dedede" stroke-width="0.5"/><path d="M907.2,266.9 h2.6 M908.5,265.6 v2.6" stroke="#111" stroke-width="0.9"/><path d="M930.8,266.9 h2.4" stroke="#111" stroke-width="1.1"/></g>
<g><rect x="396.2" y="305.6" width="8" height="4.4" fill="#969696" stroke="#5fae5f" stroke-width="1"/><rect x="433.2" y="305.6" width="8" height="4.4" fill="#969696" stroke="#5fae5f" stroke-width="1"/><rect x="396.2" y="318.8" width="8" height="4.4" fill="#969696" stroke="#5fae5f" stroke-width="1"/><rect x="433.2" y="318.8" width="8" height="4.4" fill="#969696" stroke="#5fae5f" stroke-width="1"/><rect x="396.2" y="332" width="8" height="4.4" fill="#969696" stroke="#5fae5f" stroke-width="1"/><rect x="433.2" y="332" width="8" height="4.4" fill="#969696" stroke="#5fae5f" stroke-width="1"/><rect x="396.2" y="345.2" width="8" height="4.4" fill="#969696" stroke="#5fae5f" stroke-width="1"/><rect x="433.2" y="345.2" width="8" height="4.4" fill="#969696" stroke="#5fae5f" stroke-width="1"/><rect x="403.8" y="300.9" width="30.2" height="53.5" fill="#666666"/><rect x="403.8" y="300.9" width="30.2" height="2.8" fill="#444444"/><rect x="410.4" y="305.6" width="17.4" height="7.8" fill="#ffffff" stroke="#dedede" stroke-width="0.5"/><path d="M405.6,309.9 h2.6 M406.9,308.6 v2.6" stroke="#111" stroke-width="0.9"/><path d="M429.1,309.9 h2.4" stroke="#111" stroke-width="1.1"/><rect x="403.8" y="314.1" width="30.2" height="1.5" fill="#4a4a4a"/><rect x="410.4" y="318.8" width="17.4" height="7.8" fill="#ffffff" stroke="#dedede" stroke-width="0.5"/><path d="M405.6,323.1 h2.6 M406.9,321.8 v2.6" stroke="#111" stroke-width="0.9"/><path d="M429.1,323.1 h2.4" stroke="#111" stroke-width="1.1"/><rect x="403.8" y="327.3" width="30.2" height="1.5" fill="#4a4a4a"/><rect x="410.4" y="332" width="17.4" height="7.8" fill="#ffffff" stroke="#dedede" stroke-width="0.5"/><path d="M405.6,336.3 h2.6 M406.9,335 v2.6" stroke="#111" stroke-width="0.9"/><path d="M429.1,336.3 h2.4" stroke="#111" stroke-width="1.1"/><rect x="403.8" y="340.5" width="30.2" height="1.5" fill="#4a4a4a"/><rect x="410.4" y="345.2" width="17.4" height="7.8" fill="#ffffff" stroke="#dedede" stroke-width="0.5"/><path d="M405.6,349.5 h2.6 M406.9,348.2 v2.6" stroke="#111" stroke-width="0.9"/><path d="M429.1,349.5 h2.4" stroke="#111" stroke-width="1.1"/></g>
<g><rect x="897.8" y="292.4" width="8" height="4.4" fill="#969696" stroke="#5fae5f" stroke-width="1"/><rect x="934.9" y="292.4" width="8" height="4.4" fill="#969696" stroke="#5fae5f" stroke-width="1"/><rect x="897.8" y="305.6" width="8" height="4.4" fill="#969696" stroke="#5fae5f" stroke-width="1"/><rect x="934.9" y="305.6" width="8" height="4.4" fill="#969696" stroke="#5fae5f" stroke-width="1"/><rect x="897.8" y="318.8" width="8" height="4.4" fill="#969696" stroke="#5fae5f" stroke-width="1"/><rect x="934.9" y="318.8" width="8" height="4.4" fill="#969696" stroke="#5fae5f" stroke-width="1"/><rect x="897.8" y="332" width="8" height="4.4" fill="#969696" stroke="#5fae5f" stroke-width="1"/><rect x="934.9" y="332" width="8" height="4.4" fill="#969696" stroke="#5fae5f" stroke-width="1"/><rect x="905.3" y="286.7" width="30.2" height="53.7" fill="#666666"/><rect x="905.3" y="337.8" width="30.2" height="2.6" fill="#444444"/><rect x="905.3" y="299.6" width="30.2" height="1.5" fill="#4a4a4a"/><rect x="912" y="289" width="17.4" height="7.8" fill="#ffffff" stroke="#dedede" stroke-width="0.5"/><path d="M907.2,293.3 h2.6 M908.5,292 v2.6" stroke="#111" stroke-width="0.9"/><path d="M930.8,293.3 h2.4" stroke="#111" stroke-width="1.1"/><rect x="905.3" y="312.8" width="30.2" height="1.5" fill="#4a4a4a"/><rect x="912" y="302.2" width="17.4" height="7.8" fill="#ffffff" stroke="#dedede" stroke-width="0.5"/><path d="M907.2,306.5 h2.6 M908.5,305.2 v2.6" stroke="#111" stroke-width="0.9"/><path d="M930.8,306.5 h2.4" stroke="#111" stroke-width="1.1"/><rect x="905.3" y="326" width="30.2" height="1.5" fill="#4a4a4a"/><rect x="912" y="315.4" width="17.4" height="7.8" fill="#ffffff" stroke="#dedede" stroke-width="0.5"/><path d="M907.2,319.7 h2.6 M908.5,318.4 v2.6" stroke="#111" stroke-width="0.9"/><path d="M930.8,319.7 h2.4" stroke="#111" stroke-width="1.1"/><rect x="912" y="328.6" width="17.4" height="7.8" fill="#ffffff" stroke="#dedede" stroke-width="0.5"/><path d="M907.2,332.9 h2.6 M908.5,331.6 v2.6" stroke="#111" stroke-width="0.9"/><path d="M930.8,332.9 h2.4" stroke="#111" stroke-width="1.1"/></g>
<g><rect x="396.2" y="371.6" width="8" height="4.4" fill="#969696" stroke="#5fae5f" stroke-width="1"/><rect x="433.2" y="371.6" width="8" height="4.4" fill="#969696" stroke="#5fae5f" stroke-width="1"/><rect x="396.2" y="384.8" width="8" height="4.4" fill="#969696" stroke="#5fae5f" stroke-width="1"/><rect x="433.2" y="384.8" width="8" height="4.4" fill="#969696" stroke="#5fae5f" stroke-width="1"/><rect x="396.2" y="398" width="8" height="4.4" fill="#969696" stroke="#5fae5f" stroke-width="1"/><rect x="433.2" y="398" width="8" height="4.4" fill="#969696" stroke="#5fae5f" stroke-width="1"/><rect x="396.2" y="411.2" width="8" height="4.4" fill="#969696" stroke="#5fae5f" stroke-width="1"/><rect x="433.2" y="411.2" width="8" height="4.4" fill="#969696" stroke="#5fae5f" stroke-width="1"/><rect x="403.8" y="366.9" width="30.2" height="53.5" fill="#666666"/><rect x="403.8" y="366.9" width="30.2" height="2.8" fill="#444444"/><rect x="410.4" y="371.6" width="17.4" height="7.8" fill="#ffffff" stroke="#dedede" stroke-width="0.5"/><path d="M405.6,375.9 h2.6 M406.9,374.6 v2.6" stroke="#111" stroke-width="0.9"/><path d="M429.1,375.9 h2.4" stroke="#111" stroke-width="1.1"/><rect x="403.8" y="380.1" width="30.2" height="1.5" fill="#4a4a4a"/><rect x="410.4" y="384.8" width="17.4" height="7.8" fill="#ffffff" stroke="#dedede" stroke-width="0.5"/><path d="M405.6,389.1 h2.6 M406.9,387.8 v2.6" stroke="#111" stroke-width="0.9"/><path d="M429.1,389.1 h2.4" stroke="#111" stroke-width="1.1"/><rect x="403.8" y="393.3" width="30.2" height="1.5" fill="#4a4a4a"/><rect x="410.4" y="398" width="17.4" height="7.8" fill="#ffffff" stroke="#dedede" stroke-width="0.5"/><path d="M405.6,402.3 h2.6 M406.9,401 v2.6" stroke="#111" stroke-width="0.9"/><path d="M429.1,402.3 h2.4" stroke="#111" stroke-width="1.1"/><rect x="403.8" y="406.5" width="30.2" height="1.5" fill="#4a4a4a"/><rect x="410.4" y="411.2" width="17.4" height="7.8" fill="#ffffff" stroke="#dedede" stroke-width="0.5"/><path d="M405.6,415.5 h2.6 M406.9,414.2 v2.6" stroke="#111" stroke-width="0.9"/><path d="M429.1,415.5 h2.4" stroke="#111" stroke-width="1.1"/></g>
<g><rect x="897.8" y="358.4" width="8" height="4.4" fill="#969696" stroke="#5fae5f" stroke-width="1"/><rect x="934.9" y="358.4" width="8" height="4.4" fill="#969696" stroke="#5fae5f" stroke-width="1"/><rect x="897.8" y="371.6" width="8" height="4.4" fill="#969696" stroke="#5fae5f" stroke-width="1"/><rect x="934.9" y="371.6" width="8" height="4.4" fill="#969696" stroke="#5fae5f" stroke-width="1"/><rect x="897.8" y="384.8" width="8" height="4.4" fill="#969696" stroke="#5fae5f" stroke-width="1"/><rect x="934.9" y="384.8" width="8" height="4.4" fill="#969696" stroke="#5fae5f" stroke-width="1"/><rect x="897.8" y="398" width="8" height="4.4" fill="#969696" stroke="#5fae5f" stroke-width="1"/><rect x="934.9" y="398" width="8" height="4.4" fill="#969696" stroke="#5fae5f" stroke-width="1"/><rect x="905.3" y="352.7" width="30.2" height="53.7" fill="#666666"/><rect x="905.3" y="403.8" width="30.2" height="2.6" fill="#444444"/><rect x="905.3" y="365.6" width="30.2" height="1.5" fill="#4a4a4a"/><rect x="912" y="355" width="17.4" height="7.8" fill="#ffffff" stroke="#dedede" stroke-width="0.5"/><path d="M907.2,359.3 h2.6 M908.5,358 v2.6" stroke="#111" stroke-width="0.9"/><path d="M930.8,359.3 h2.4" stroke="#111" stroke-width="1.1"/><rect x="905.3" y="378.8" width="30.2" height="1.5" fill="#4a4a4a"/><rect x="912" y="368.2" width="17.4" height="7.8" fill="#ffffff" stroke="#dedede" stroke-width="0.5"/><path d="M907.2,372.5 h2.6 M908.5,371.2 v2.6" stroke="#111" stroke-width="0.9"/><path d="M930.8,372.5 h2.4" stroke="#111" stroke-width="1.1"/><rect x="905.3" y="392" width="30.2" height="1.5" fill="#4a4a4a"/><rect x="912" y="381.4" width="17.4" height="7.8" fill="#ffffff" stroke="#dedede" stroke-width="0.5"/><path d="M907.2,385.7 h2.6 M908.5,384.4 v2.6" stroke="#111" stroke-width="0.9"/><path d="M930.8,385.7 h2.4" stroke="#111" stroke-width="1.1"/><rect x="912" y="394.6" width="17.4" height="7.8" fill="#ffffff" stroke="#dedede" stroke-width="0.5"/><path d="M907.2,398.9 h2.6 M908.5,397.6 v2.6" stroke="#111" stroke-width="0.9"/><path d="M930.8,398.9 h2.4" stroke="#111" stroke-width="1.1"/></g>
<g><rect x="396.2" y="437.6" width="8" height="4.4" fill="#969696" stroke="#5fae5f" stroke-width="1"/><rect x="433.2" y="437.6" width="8" height="4.4" fill="#969696" stroke="#5fae5f" stroke-width="1"/><rect x="396.2" y="450.8" width="8" height="4.4" fill="#969696" stroke="#5fae5f" stroke-width="1"/><rect x="433.2" y="450.8" width="8" height="4.4" fill="#969696" stroke="#5fae5f" stroke-width="1"/><rect x="396.2" y="464" width="8" height="4.4" fill="#969696" stroke="#5fae5f" stroke-width="1"/><rect x="433.2" y="464" width="8" height="4.4" fill="#969696" stroke="#5fae5f" stroke-width="1"/><rect x="396.2" y="477.2" width="8" height="4.4" fill="#969696" stroke="#5fae5f" stroke-width="1"/><rect x="433.2" y="477.2" width="8" height="4.4" fill="#969696" stroke="#5fae5f" stroke-width="1"/><rect x="403.8" y="432.9" width="30.2" height="53.5" fill="#666666"/><rect x="403.8" y="432.9" width="30.2" height="2.8" fill="#444444"/><rect x="410.4" y="437.6" width="17.4" height="7.8" fill="#ffffff" stroke="#dedede" stroke-width="0.5"/><path d="M405.6,441.9 h2.6 M406.9,440.6 v2.6" stroke="#111" stroke-width="0.9"/><path d="M429.1,441.9 h2.4" stroke="#111" stroke-width="1.1"/><rect x="403.8" y="446.1" width="30.2" height="1.5" fill="#4a4a4a"/><rect x="410.4" y="450.8" width="17.4" height="7.8" fill="#ffffff" stroke="#dedede" stroke-width="0.5"/><path d="M405.6,455.1 h2.6 M406.9,453.8 v2.6" stroke="#111" stroke-width="0.9"/><path d="M429.1,455.1 h2.4" stroke="#111" stroke-width="1.1"/><rect x="403.8" y="459.3" width="30.2" height="1.5" fill="#4a4a4a"/><rect x="410.4" y="464" width="17.4" height="7.8" fill="#ffffff" stroke="#dedede" stroke-width="0.5"/><path d="M405.6,468.3 h2.6 M406.9,467 v2.6" stroke="#111" stroke-width="0.9"/><path d="M429.1,468.3 h2.4" stroke="#111" stroke-width="1.1"/><rect x="403.8" y="472.5" width="30.2" height="1.5" fill="#4a4a4a"/><rect x="410.4" y="477.2" width="17.4" height="7.8" fill="#ffffff" stroke="#dedede" stroke-width="0.5"/><path d="M405.6,481.5 h2.6 M406.9,480.2 v2.6" stroke="#111" stroke-width="0.9"/><path d="M429.1,481.5 h2.4" stroke="#111" stroke-width="1.1"/></g>
<g><rect x="897.8" y="424.4" width="8" height="4.4" fill="#969696" stroke="#5fae5f" stroke-width="1"/><rect x="934.9" y="424.4" width="8" height="4.4" fill="#969696" stroke="#5fae5f" stroke-width="1"/><rect x="897.8" y="437.6" width="8" height="4.4" fill="#969696" stroke="#5fae5f" stroke-width="1"/><rect x="934.9" y="437.6" width="8" height="4.4" fill="#969696" stroke="#5fae5f" stroke-width="1"/><rect x="897.8" y="450.8" width="8" height="4.4" fill="#969696" stroke="#5fae5f" stroke-width="1"/><rect x="934.9" y="450.8" width="8" height="4.4" fill="#969696" stroke="#5fae5f" stroke-width="1"/><rect x="897.8" y="464" width="8" height="4.4" fill="#969696" stroke="#5fae5f" stroke-width="1"/><rect x="934.9" y="464" width="8" height="4.4" fill="#969696" stroke="#5fae5f" stroke-width="1"/><rect x="905.3" y="418.7" width="30.2" height="53.7" fill="#666666"/><rect x="905.3" y="469.8" width="30.2" height="2.6" fill="#444444"/><rect x="905.3" y="431.6" width="30.2" height="1.5" fill="#4a4a4a"/><rect x="912" y="421" width="17.4" height="7.8" fill="#ffffff" stroke="#dedede" stroke-width="0.5"/><path d="M907.2,425.3 h2.6 M908.5,424 v2.6" stroke="#111" stroke-width="0.9"/><path d="M930.8,425.3 h2.4" stroke="#111" stroke-width="1.1"/><rect x="905.3" y="444.8" width="30.2" height="1.5" fill="#4a4a4a"/><rect x="912" y="434.2" width="17.4" height="7.8" fill="#ffffff" stroke="#dedede" stroke-width="0.5"/><path d="M907.2,438.5 h2.6 M908.5,437.2 v2.6" stroke="#111" stroke-width="0.9"/><path d="M930.8,438.5 h2.4" stroke="#111" stroke-width="1.1"/><rect x="905.3" y="458" width="30.2" height="1.5" fill="#4a4a4a"/><rect x="912" y="447.4" width="17.4" height="7.8" fill="#ffffff" stroke="#dedede" stroke-width="0.5"/><path d="M907.2,451.7 h2.6 M908.5,450.4 v2.6" stroke="#111" stroke-width="0.9"/><path d="M930.8,451.7 h2.4" stroke="#111" stroke-width="1.1"/><rect x="912" y="460.6" width="17.4" height="7.8" fill="#ffffff" stroke="#dedede" stroke-width="0.5"/><path d="M907.2,464.9 h2.6 M908.5,463.6 v2.6" stroke="#111" stroke-width="0.9"/><path d="M930.8,464.9 h2.4" stroke="#111" stroke-width="1.1"/></g>
<g transform="translate(29.4,162.6) rotate(90)"><line x1="-26.4" y1="0" x2="26.4" y2="0" stroke="#9b9b9b" stroke-width="4" stroke-linecap="round"/><path d="M-16.5,-4.5 Q-16.5,-6.2 -14.5,-6.2 L-9.5,-6.2 Q-7.5,-5.2 -5.5,-5.2 L5.5,-5.2 Q7.5,-5.2 9.5,-6.2 L14.5,-6.2 Q16.5,-6.2 16.5,-4.5 L16.5,4.5 Q16.5,6.2 14.5,6.2 L9.5,6.2 Q7.5,5.2 5.5,5.2 L-5.5,5.2 Q-7.5,5.2 -9.5,6.2 L-14.5,6.2 Q-16.5,6.2 -16.5,4.5Z" fill="#d6a066" stroke="#a98250" stroke-width="0.7"/><rect x="-15" y="-5.2" width="30" height="2.2" fill="#e8b880" opacity="0.7"/><rect x="-15" y="3.2" width="30" height="2.4" fill="#9a8850" opacity="0.6"/><rect x="-16" y="-5.6" width="3.6" height="4" fill="#8f8f50" opacity="0.45"/><rect x="12.4" y="-5.6" width="3.6" height="4" fill="#8f8f50" opacity="0.45"/><rect x="-4.7" y="-5.2" width="4.1" height="10.4" fill="#f0592b"/><rect x="2.6" y="-5.2" width="3.2" height="10.4" fill="#111111"/><rect x="8.5" y="-6.2" width="4.6" height="12.4" fill="#7a3b0c"/></g>
<g transform="translate(597,228.6) rotate(90)"><line x1="-26.4" y1="0" x2="26.4" y2="0" stroke="#9b9b9b" stroke-width="4" stroke-linecap="round"/><path d="M-16.5,-4.5 Q-16.5,-6.2 -14.5,-6.2 L-9.5,-6.2 Q-7.5,-5.2 -5.5,-5.2 L5.5,-5.2 Q7.5,-5.2 9.5,-6.2 L14.5,-6.2 Q16.5,-6.2 16.5,-4.5 L16.5,4.5 Q16.5,6.2 14.5,6.2 L9.5,6.2 Q7.5,5.2 5.5,5.2 L-5.5,5.2 Q-7.5,5.2 -9.5,6.2 L-14.5,6.2 Q-16.5,6.2 -16.5,4.5Z" fill="#d6a066" stroke="#a98250" stroke-width="0.7"/><rect x="-15" y="-5.2" width="30" height="2.2" fill="#e8b880" opacity="0.7"/><rect x="-15" y="3.2" width="30" height="2.4" fill="#9a8850" opacity="0.6"/><rect x="-16" y="-5.6" width="3.6" height="4" fill="#8f8f50" opacity="0.45"/><rect x="12.4" y="-5.6" width="3.6" height="4" fill="#8f8f50" opacity="0.45"/><rect x="-4.7" y="-5.2" width="4.1" height="10.4" fill="#f0592b"/><rect x="2.6" y="-5.2" width="3.2" height="10.4" fill="#111111"/><rect x="8.5" y="-6.2" width="4.6" height="12.4" fill="#7a3b0c"/></g>
<g transform="translate(623.4,215.4) rotate(90)"><line x1="-26.4" y1="0" x2="26.4" y2="0" stroke="#9b9b9b" stroke-width="4" stroke-linecap="round"/><path d="M-16.5,-4.5 Q-16.5,-6.2 -14.5,-6.2 L-9.5,-6.2 Q-7.5,-5.2 -5.5,-5.2 L5.5,-5.2 Q7.5,-5.2 9.5,-6.2 L14.5,-6.2 Q16.5,-6.2 16.5,-4.5 L16.5,4.5 Q16.5,6.2 14.5,6.2 L9.5,6.2 Q7.5,5.2 5.5,5.2 L-5.5,5.2 Q-7.5,5.2 -9.5,6.2 L-14.5,6.2 Q-16.5,6.2 -16.5,4.5Z" fill="#d6a066" stroke="#a98250" stroke-width="0.7"/><rect x="-15" y="-5.2" width="30" height="2.2" fill="#e8b880" opacity="0.7"/><rect x="-15" y="3.2" width="30" height="2.4" fill="#9a8850" opacity="0.6"/><rect x="-16" y="-5.6" width="3.6" height="4" fill="#8f8f50" opacity="0.45"/><rect x="12.4" y="-5.6" width="3.6" height="4" fill="#8f8f50" opacity="0.45"/><rect x="-4.7" y="-5.2" width="4.1" height="10.4" fill="#f0592b"/><rect x="2.6" y="-5.2" width="3.2" height="10.4" fill="#111111"/><rect x="8.5" y="-6.2" width="4.6" height="12.4" fill="#7a3b0c"/></g>
<g transform="translate(689.4,228.6) rotate(90)"><line x1="-26.4" y1="0" x2="26.4" y2="0" stroke="#9b9b9b" stroke-width="4" stroke-linecap="round"/><path d="M-16.5,-4.5 Q-16.5,-6.2 -14.5,-6.2 L-9.5,-6.2 Q-7.5,-5.2 -5.5,-5.2 L5.5,-5.2 Q7.5,-5.2 9.5,-6.2 L14.5,-6.2 Q16.5,-6.2 16.5,-4.5 L16.5,4.5 Q16.5,6.2 14.5,6.2 L9.5,6.2 Q7.5,5.2 5.5,5.2 L-5.5,5.2 Q-7.5,5.2 -9.5,6.2 L-14.5,6.2 Q-16.5,6.2 -16.5,4.5Z" fill="#d6a066" stroke="#a98250" stroke-width="0.7"/><rect x="-15" y="-5.2" width="30" height="2.2" fill="#e8b880" opacity="0.7"/><rect x="-15" y="3.2" width="30" height="2.4" fill="#9a8850" opacity="0.6"/><rect x="-16" y="-5.6" width="3.6" height="4" fill="#8f8f50" opacity="0.45"/><rect x="12.4" y="-5.6" width="3.6" height="4" fill="#8f8f50" opacity="0.45"/><rect x="-4.7" y="-5.2" width="4.1" height="10.4" fill="#f0592b"/><rect x="2.6" y="-5.2" width="3.2" height="10.4" fill="#111111"/><rect x="8.5" y="-6.2" width="4.6" height="12.4" fill="#7a3b0c"/></g>
<g transform="translate(702.5,215.4) rotate(90)"><line x1="-26.4" y1="0" x2="26.4" y2="0" stroke="#9b9b9b" stroke-width="4" stroke-linecap="round"/><path d="M-16.5,-4.5 Q-16.5,-6.2 -14.5,-6.2 L-9.5,-6.2 Q-7.5,-5.2 -5.5,-5.2 L5.5,-5.2 Q7.5,-5.2 9.5,-6.2 L14.5,-6.2 Q16.5,-6.2 16.5,-4.5 L16.5,4.5 Q16.5,6.2 14.5,6.2 L9.5,6.2 Q7.5,5.2 5.5,5.2 L-5.5,5.2 Q-7.5,5.2 -9.5,6.2 L-14.5,6.2 Q-16.5,6.2 -16.5,4.5Z" fill="#d6a066" stroke="#a98250" stroke-width="0.7"/><rect x="-15" y="-5.2" width="30" height="2.2" fill="#e8b880" opacity="0.7"/><rect x="-15" y="3.2" width="30" height="2.4" fill="#9a8850" opacity="0.6"/><rect x="-16" y="-5.6" width="3.6" height="4" fill="#8f8f50" opacity="0.45"/><rect x="12.4" y="-5.6" width="3.6" height="4" fill="#8f8f50" opacity="0.45"/><rect x="-13.1" y="-6.2" width="4.6" height="12.4" fill="#7a3b0c"/><rect x="-5.8" y="-5.2" width="3.2" height="10.4" fill="#111111"/><rect x="0.6" y="-5.2" width="4.1" height="10.4" fill="#f0592b"/></g>
<g transform="translate(597,439.8) rotate(0)"><line x1="-26.4" y1="0" x2="26.4" y2="0" stroke="#9b9b9b" stroke-width="4" stroke-linecap="round"/><path d="M-16.5,-4.5 Q-16.5,-6.2 -14.5,-6.2 L-9.5,-6.2 Q-7.5,-5.2 -5.5,-5.2 L5.5,-5.2 Q7.5,-5.2 9.5,-6.2 L14.5,-6.2 Q16.5,-6.2 16.5,-4.5 L16.5,4.5 Q16.5,6.2 14.5,6.2 L9.5,6.2 Q7.5,5.2 5.5,5.2 L-5.5,5.2 Q-7.5,5.2 -9.5,6.2 L-14.5,6.2 Q-16.5,6.2 -16.5,4.5Z" fill="#d6a066" stroke="#a98250" stroke-width="0.7"/><rect x="-15" y="-5.2" width="30" height="2.2" fill="#e8b880" opacity="0.7"/><rect x="-15" y="3.2" width="30" height="2.4" fill="#9a8850" opacity="0.6"/><rect x="-16" y="-5.6" width="3.6" height="4" fill="#8f8f50" opacity="0.45"/><rect x="12.4" y="-5.6" width="3.6" height="4" fill="#8f8f50" opacity="0.45"/><rect x="-4.7" y="-5.2" width="4.1" height="10.4" fill="#d2302c"/><rect x="2.6" y="-5.2" width="3.2" height="10.4" fill="#111111"/><rect x="8.5" y="-6.2" width="4.6" height="12.4" fill="#7a3b0c"/></g>
<g transform="translate(597,479.4) rotate(90)"><line x1="-26.4" y1="0" x2="26.4" y2="0" stroke="#9b9b9b" stroke-width="4" stroke-linecap="round"/><path d="M-16.5,-4.5 Q-16.5,-6.2 -14.5,-6.2 L-9.5,-6.2 Q-7.5,-5.2 -5.5,-5.2 L5.5,-5.2 Q7.5,-5.2 9.5,-6.2 L14.5,-6.2 Q16.5,-6.2 16.5,-4.5 L16.5,4.5 Q16.5,6.2 14.5,6.2 L9.5,6.2 Q7.5,5.2 5.5,5.2 L-5.5,5.2 Q-7.5,5.2 -9.5,6.2 L-14.5,6.2 Q-16.5,6.2 -16.5,4.5Z" fill="#d6a066" stroke="#a98250" stroke-width="0.7"/><rect x="-15" y="-5.2" width="30" height="2.2" fill="#e8b880" opacity="0.7"/><rect x="-15" y="3.2" width="30" height="2.4" fill="#9a8850" opacity="0.6"/><rect x="-16" y="-5.6" width="3.6" height="4" fill="#8f8f50" opacity="0.45"/><rect x="12.4" y="-5.6" width="3.6" height="4" fill="#8f8f50" opacity="0.45"/><rect x="-13.1" y="-6.2" width="4.6" height="12.4" fill="#7a3b0c"/><rect x="-5.8" y="-5.2" width="3.2" height="10.4" fill="#111111"/><rect x="0.6" y="-5.2" width="4.1" height="10.4" fill="#f0592b"/></g>
<g transform="translate(676.1,598.2) rotate(0)"><line x1="-26.4" y1="0" x2="26.4" y2="0" stroke="#9b9b9b" stroke-width="4" stroke-linecap="round"/><path d="M-16.5,-4.5 Q-16.5,-6.2 -14.5,-6.2 L-9.5,-6.2 Q-7.5,-5.2 -5.5,-5.2 L5.5,-5.2 Q7.5,-5.2 9.5,-6.2 L14.5,-6.2 Q16.5,-6.2 16.5,-4.5 L16.5,4.5 Q16.5,6.2 14.5,6.2 L9.5,6.2 Q7.5,5.2 5.5,5.2 L-5.5,5.2 Q-7.5,5.2 -9.5,6.2 L-14.5,6.2 Q-16.5,6.2 -16.5,4.5Z" fill="#d6a066" stroke="#a98250" stroke-width="0.7"/><rect x="-15" y="-5.2" width="30" height="2.2" fill="#e8b880" opacity="0.7"/><rect x="-15" y="3.2" width="30" height="2.4" fill="#9a8850" opacity="0.6"/><rect x="-16" y="-5.6" width="3.6" height="4" fill="#8f8f50" opacity="0.45"/><rect x="12.4" y="-5.6" width="3.6" height="4" fill="#8f8f50" opacity="0.45"/><rect x="-13.1" y="-6.2" width="4.6" height="12.4" fill="#7a3b0c"/><rect x="-5.8" y="-5.2" width="3.2" height="10.4" fill="#111111"/><rect x="0.6" y="-5.2" width="4.1" height="10.4" fill="#f0592b"/></g>
<g transform="translate(742.1,598.2) rotate(90)"><line x1="-26.4" y1="0" x2="26.4" y2="0" stroke="#9b9b9b" stroke-width="4" stroke-linecap="round"/><path d="M-16.5,-4.5 Q-16.5,-6.2 -14.5,-6.2 L-9.5,-6.2 Q-7.5,-5.2 -5.5,-5.2 L5.5,-5.2 Q7.5,-5.2 9.5,-6.2 L14.5,-6.2 Q16.5,-6.2 16.5,-4.5 L16.5,4.5 Q16.5,6.2 14.5,6.2 L9.5,6.2 Q7.5,5.2 5.5,5.2 L-5.5,5.2 Q-7.5,5.2 -9.5,6.2 L-14.5,6.2 Q-16.5,6.2 -16.5,4.5Z" fill="#d6a066" stroke="#a98250" stroke-width="0.7"/><rect x="-15" y="-5.2" width="30" height="2.2" fill="#e8b880" opacity="0.7"/><rect x="-15" y="3.2" width="30" height="2.4" fill="#9a8850" opacity="0.6"/><rect x="-16" y="-5.6" width="3.6" height="4" fill="#8f8f50" opacity="0.45"/><rect x="12.4" y="-5.6" width="3.6" height="4" fill="#8f8f50" opacity="0.45"/><rect x="-13.1" y="-6.2" width="4.6" height="12.4" fill="#7a3b0c"/><rect x="-5.8" y="-5.2" width="3.2" height="10.4" fill="#111111"/><rect x="0.6" y="-5.2" width="4.1" height="10.4" fill="#d2302c"/></g>
<g transform="translate(689.4,651) rotate(90)"><line x1="-26.4" y1="0" x2="26.4" y2="0" stroke="#9b9b9b" stroke-width="4" stroke-linecap="round"/><path d="M-16.5,-4.5 Q-16.5,-6.2 -14.5,-6.2 L-9.5,-6.2 Q-7.5,-5.2 -5.5,-5.2 L5.5,-5.2 Q7.5,-5.2 9.5,-6.2 L14.5,-6.2 Q16.5,-6.2 16.5,-4.5 L16.5,4.5 Q16.5,6.2 14.5,6.2 L9.5,6.2 Q7.5,5.2 5.5,5.2 L-5.5,5.2 Q-7.5,5.2 -9.5,6.2 L-14.5,6.2 Q-16.5,6.2 -16.5,4.5Z" fill="#d6a066" stroke="#a98250" stroke-width="0.7"/><rect x="-15" y="-5.2" width="30" height="2.2" fill="#e8b880" opacity="0.7"/><rect x="-15" y="3.2" width="30" height="2.4" fill="#9a8850" opacity="0.6"/><rect x="-16" y="-5.6" width="3.6" height="4" fill="#8f8f50" opacity="0.45"/><rect x="12.4" y="-5.6" width="3.6" height="4" fill="#8f8f50" opacity="0.45"/><rect x="-13.1" y="-6.2" width="4.6" height="12.4" fill="#7a3b0c"/><rect x="-5.8" y="-5.2" width="3.2" height="10.4" fill="#111111"/><rect x="0.6" y="-5.2" width="4.1" height="10.4" fill="#d2302c"/></g>
<g transform="translate(385.8,743.4) rotate(90)"><line x1="-26.4" y1="0" x2="26.4" y2="0" stroke="#9b9b9b" stroke-width="4" stroke-linecap="round"/><path d="M-16.5,-4.5 Q-16.5,-6.2 -14.5,-6.2 L-9.5,-6.2 Q-7.5,-5.2 -5.5,-5.2 L5.5,-5.2 Q7.5,-5.2 9.5,-6.2 L14.5,-6.2 Q16.5,-6.2 16.5,-4.5 L16.5,4.5 Q16.5,6.2 14.5,6.2 L9.5,6.2 Q7.5,5.2 5.5,5.2 L-5.5,5.2 Q-7.5,5.2 -9.5,6.2 L-14.5,6.2 Q-16.5,6.2 -16.5,4.5Z" fill="#d6a066" stroke="#a98250" stroke-width="0.7"/><rect x="-15" y="-5.2" width="30" height="2.2" fill="#e8b880" opacity="0.7"/><rect x="-15" y="3.2" width="30" height="2.4" fill="#9a8850" opacity="0.6"/><rect x="-16" y="-5.6" width="3.6" height="4" fill="#8f8f50" opacity="0.45"/><rect x="12.4" y="-5.6" width="3.6" height="4" fill="#8f8f50" opacity="0.45"/><rect x="-4.7" y="-5.2" width="4.1" height="10.4" fill="#d2302c"/><rect x="2.6" y="-5.2" width="3.2" height="10.4" fill="#111111"/><rect x="8.5" y="-6.2" width="4.6" height="12.4" fill="#7a3b0c"/></g>
<g transform="translate(398.9,769.8) rotate(90)"><line x1="-26.4" y1="0" x2="26.4" y2="0" stroke="#9b9b9b" stroke-width="4" stroke-linecap="round"/><path d="M-16.5,-4.5 Q-16.5,-6.2 -14.5,-6.2 L-9.5,-6.2 Q-7.5,-5.2 -5.5,-5.2 L5.5,-5.2 Q7.5,-5.2 9.5,-6.2 L14.5,-6.2 Q16.5,-6.2 16.5,-4.5 L16.5,4.5 Q16.5,6.2 14.5,6.2 L9.5,6.2 Q7.5,5.2 5.5,5.2 L-5.5,5.2 Q-7.5,5.2 -9.5,6.2 L-14.5,6.2 Q-16.5,6.2 -16.5,4.5Z" fill="#d6a066" stroke="#a98250" stroke-width="0.7"/><rect x="-15" y="-5.2" width="30" height="2.2" fill="#e8b880" opacity="0.7"/><rect x="-15" y="3.2" width="30" height="2.4" fill="#9a8850" opacity="0.6"/><rect x="-16" y="-5.6" width="3.6" height="4" fill="#8f8f50" opacity="0.45"/><rect x="12.4" y="-5.6" width="3.6" height="4" fill="#8f8f50" opacity="0.45"/><rect x="-13.1" y="-6.2" width="4.6" height="12.4" fill="#7a3b0c"/><rect x="-5.8" y="-5.2" width="3.2" height="10.4" fill="#111111"/><rect x="0.6" y="-5.2" width="4.1" height="10.4" fill="#d2302c"/></g>
<g transform="translate(346.1,809.4) rotate(90)"><line x1="-26.4" y1="0" x2="26.4" y2="0" stroke="#9b9b9b" stroke-width="4" stroke-linecap="round"/><path d="M-16.5,-4.5 Q-16.5,-6.2 -14.5,-6.2 L-9.5,-6.2 Q-7.5,-5.2 -5.5,-5.2 L5.5,-5.2 Q7.5,-5.2 9.5,-6.2 L14.5,-6.2 Q16.5,-6.2 16.5,-4.5 L16.5,4.5 Q16.5,6.2 14.5,6.2 L9.5,6.2 Q7.5,5.2 5.5,5.2 L-5.5,5.2 Q-7.5,5.2 -9.5,6.2 L-14.5,6.2 Q-16.5,6.2 -16.5,4.5Z" fill="#d6a066" stroke="#a98250" stroke-width="0.7"/><rect x="-15" y="-5.2" width="30" height="2.2" fill="#e8b880" opacity="0.7"/><rect x="-15" y="3.2" width="30" height="2.4" fill="#9a8850" opacity="0.6"/><rect x="-16" y="-5.6" width="3.6" height="4" fill="#8f8f50" opacity="0.45"/><rect x="12.4" y="-5.6" width="3.6" height="4" fill="#8f8f50" opacity="0.45"/><rect x="-13.1" y="-6.2" width="4.6" height="12.4" fill="#7a3b0c"/><rect x="-5.8" y="-5.2" width="3.2" height="10.4" fill="#111111"/><rect x="0.6" y="-5.2" width="4.1" height="10.4" fill="#f0592b"/></g>
<g transform="translate(504.5,835.8) rotate(0)"><line x1="-26.4" y1="0" x2="26.4" y2="0" stroke="#9b9b9b" stroke-width="4" stroke-linecap="round"/><path d="M-16.5,-4.5 Q-16.5,-6.2 -14.5,-6.2 L-9.5,-6.2 Q-7.5,-5.2 -5.5,-5.2 L5.5,-5.2 Q7.5,-5.2 9.5,-6.2 L14.5,-6.2 Q16.5,-6.2 16.5,-4.5 L16.5,4.5 Q16.5,6.2 14.5,6.2 L9.5,6.2 Q7.5,5.2 5.5,5.2 L-5.5,5.2 Q-7.5,5.2 -9.5,6.2 L-14.5,6.2 Q-16.5,6.2 -16.5,4.5Z" fill="#d6a066" stroke="#a98250" stroke-width="0.7"/><rect x="-15" y="-5.2" width="30" height="2.2" fill="#e8b880" opacity="0.7"/><rect x="-15" y="3.2" width="30" height="2.4" fill="#9a8850" opacity="0.6"/><rect x="-16" y="-5.6" width="3.6" height="4" fill="#8f8f50" opacity="0.45"/><rect x="12.4" y="-5.6" width="3.6" height="4" fill="#8f8f50" opacity="0.45"/><rect x="-13.1" y="-6.2" width="4.6" height="12.4" fill="#7a3b0c"/><rect x="-5.8" y="-5.2" width="3.2" height="10.4" fill="#111111"/><rect x="0.6" y="-5.2" width="4.1" height="10.4" fill="#d2302c"/></g>
<g><rect x="396.6" y="688.1" width="7.6" height="5" fill="#9a9a9a" stroke="#55aa55" stroke-width="1.15"/><rect x="435.6" y="688.1" width="7" height="5" fill="#9a9a9a" stroke="#55aa55" stroke-width="1.15"/><rect x="396.6" y="701.3" width="7.6" height="5" fill="#9a9a9a" stroke="#55aa55" stroke-width="1.15"/><rect x="435.6" y="701.3" width="7" height="5" fill="#9a9a9a" stroke="#55aa55" stroke-width="1.15"/><rect x="396.6" y="714.5" width="7.6" height="5" fill="#9a9a9a" stroke="#55aa55" stroke-width="1.15"/><rect x="435.6" y="714.5" width="7" height="5" fill="#9a9a9a" stroke="#55aa55" stroke-width="1.15"/><rect x="396.6" y="727.7" width="7.6" height="5" fill="#9a9a9a" stroke="#55aa55" stroke-width="1.15"/><rect x="435.6" y="727.7" width="7" height="5" fill="#9a9a9a" stroke="#55aa55" stroke-width="1.15"/><rect x="402.4" y="684.3" width="35.9" height="53.6" fill="#333333"/><rect x="402.4" y="684.3" width="3.6" height="53.6" fill="#0c0c0c"/><clipPath id="cpd"><rect x="398.9" y="684.3" width="40" height="53.6"/></clipPath><g clip-path="url(#cpd)"><text transform="translate(418.9,693.2) rotate(90) scale(1,1.12)" font-family="Liberation Mono, monospace" font-size="12.8" fill="#f4f4f4">Dual Op</text></g><path d="M419.9,683.6 l2.5,2.5 M421.4,735.7 l2.5,-2.5" stroke="#f0f0f0" stroke-width="1"/></g>
<g><rect x="647.4" y="490.1" width="7.6" height="5" fill="#9a9a9a" stroke="#55aa55" stroke-width="1.15"/><rect x="686.4" y="490.1" width="7" height="5" fill="#9a9a9a" stroke="#55aa55" stroke-width="1.15"/><rect x="647.4" y="503.3" width="7.6" height="5" fill="#9a9a9a" stroke="#55aa55" stroke-width="1.15"/><rect x="686.4" y="503.3" width="7" height="5" fill="#9a9a9a" stroke="#55aa55" stroke-width="1.15"/><rect x="647.4" y="516.5" width="7.6" height="5" fill="#9a9a9a" stroke="#55aa55" stroke-width="1.15"/><rect x="686.4" y="516.5" width="7" height="5" fill="#9a9a9a" stroke="#55aa55" stroke-width="1.15"/><rect x="647.4" y="529.7" width="7.6" height="5" fill="#9a9a9a" stroke="#55aa55" stroke-width="1.15"/><rect x="686.4" y="529.7" width="7" height="5" fill="#9a9a9a" stroke="#55aa55" stroke-width="1.15"/><rect x="647.4" y="542.9" width="7.6" height="5" fill="#9a9a9a" stroke="#55aa55" stroke-width="1.15"/><rect x="686.4" y="542.9" width="7" height="5" fill="#9a9a9a" stroke="#55aa55" stroke-width="1.15"/><rect x="647.4" y="556.1" width="7.6" height="5" fill="#9a9a9a" stroke="#55aa55" stroke-width="1.15"/><rect x="686.4" y="556.1" width="7" height="5" fill="#9a9a9a" stroke="#55aa55" stroke-width="1.15"/><rect x="647.4" y="569.3" width="7.6" height="5" fill="#9a9a9a" stroke="#55aa55" stroke-width="1.15"/><rect x="686.4" y="569.3" width="7" height="5" fill="#9a9a9a" stroke="#55aa55" stroke-width="1.15"/><rect x="652.5" y="485.3" width="36.7" height="93.5" fill="#333333"/><rect x="652.5" y="485.3" width="3.6" height="93.5" fill="#0c0c0c"/><rect x="661.9" y="501.1" width="17.3" height="16.9" fill="#a2a2a2"/><path d="M664.7,504.1 h12 l-6,10.8z" fill="#2c2c2c"/><text transform="translate(672.2,522.4) rotate(90) scale(1,1.2)" font-family="Liberation Sans, sans-serif" font-size="7.4" fill="#cfcfcf">OP482</text><path d="M671,490.5 q2.5,-0.5 3.5,-3" stroke="#0a0a0a" stroke-width="1.3" fill="none"/></g>
<g><circle cx="703.2" cy="387" r="2.9" fill="#8a9a8a" stroke="#5fae5f" stroke-width="1.2"/><circle cx="703.2" cy="400.2" r="2.9" fill="#8a9a8a" stroke="#5fae5f" stroke-width="1.2"/><circle cx="703.2" cy="413.4" r="2.9" fill="#8a9a8a" stroke="#5fae5f" stroke-width="1.2"/><rect x="653.1" y="379" width="48.8" height="41.9" fill="#3366cc"/><rect x="689.8" y="379" width="12.1" height="41.9" fill="#003366"/><rect x="689.4" y="379" width="0.9" height="41.9" fill="#5a5aa0"/><line x1="680.8" y1="401.4" x2="684.4" y2="401.8" stroke="#1a3a9a" stroke-width="1.7"/><line x1="679.5" y1="405.1" x2="682.5" y2="407.1" stroke="#1a3a9a" stroke-width="1.7"/><line x1="676.6" y1="408" x2="678.5" y2="411" stroke="#1a3a9a" stroke-width="1.7"/><line x1="672.8" y1="409.3" x2="673.2" y2="412.8" stroke="#1a3a9a" stroke-width="1.7"/><line x1="668.9" y1="408.8" x2="667.6" y2="412.2" stroke="#1a3a9a" stroke-width="1.7"/><line x1="665.5" y1="406.6" x2="662.9" y2="409.1" stroke="#1a3a9a" stroke-width="1.7"/><line x1="663.4" y1="403.2" x2="660" y2="404.4" stroke="#1a3a9a" stroke-width="1.7"/><line x1="663" y1="399.2" x2="659.4" y2="398.8" stroke="#1a3a9a" stroke-width="1.7"/><line x1="664.3" y1="395.5" x2="661.3" y2="393.5" stroke="#1a3a9a" stroke-width="1.7"/><line x1="667.2" y1="392.6" x2="665.3" y2="389.6" stroke="#1a3a9a" stroke-width="1.7"/><line x1="671" y1="391.3" x2="670.6" y2="387.8" stroke="#1a3a9a" stroke-width="1.7"/><line x1="674.9" y1="391.8" x2="676.2" y2="388.4" stroke="#1a3a9a" stroke-width="1.7"/><line x1="678.3" y1="394" x2="680.9" y2="391.5" stroke="#1a3a9a" stroke-width="1.7"/><line x1="680.4" y1="397.4" x2="683.8" y2="396.2" stroke="#1a3a9a" stroke-width="1.7"/><path d="M656.9,400.6 l5,-1.2 v2.4z M680.4,392.3 l3.6,-3.6 l1,1z" fill="#0a34a4"/><circle cx="671.9" cy="400.3" r="9.9" fill="#0a3aa8"/><circle cx="671.9" cy="400.3" r="8.2" fill="#9a9a9a"/><path d="M663.9,400.3 h16 M671.9,392.3 v16" stroke="#333" stroke-width="3.4"/><rect x="681.2" y="416.7" width="1.5" height="1.5" fill="#b0a0c8"/><path d="M685,391.5 h3 M685,393.5 h3 M683.5,395.5 h1.5 M686.5,396.5 h1.5 M685,399.5 h2 M685.5,401.5 h2 M685,404 h1.5 M685,408.3 h1.2" stroke="#3a2f9a" stroke-width="0.8"/></g>
<g transform="translate(225.4,725.1)"><rect x="-13.2" y="21.6" width="4.6" height="21" fill="#9c9c9c"/><rect x="-11.8" y="31.2" width="1.8" height="2.2" fill="#f2f2f2"/><rect x="-9.3" y="20.2" width="4.2" height="22.4" fill="#2b2b2b"/><rect x="-5.4" y="8" width="5.6" height="46.8" fill="#333333"/><rect x="0" y="0" width="52.5" height="63.5" fill="#333333"/><rect x="0.8" y="18.2" width="10.9" height="28.3" fill="#c8c8c8"/><rect x="8.8" y="18.2" width="2.9" height="28.3" fill="#9e9e9e"/><path d="M0.8,25.6 l2.2,3 v7.2 l-2.2,3z" fill="#f6f6f6"/><path d="M3,28.4 a3,3.8 0 0 1 0,7.6z" fill="#555"/><rect x="39.1" y="2.3" width="4.8" height="4.8" fill="#55554a" stroke="#8f8f4a" stroke-width="0.9"/><rect x="40.6" y="4" width="1.8" height="1.4" fill="#d8d8c8"/><rect x="39.1" y="16.1" width="4.8" height="4.8" fill="#55554a" stroke="#8f8f4a" stroke-width="0.9"/><rect x="40.6" y="17.8" width="1.8" height="1.4" fill="#d8d8c8"/><rect x="39.1" y="42.4" width="4.8" height="4.8" fill="#55554a" stroke="#8f8f4a" stroke-width="0.9"/><rect x="40.6" y="44.1" width="1.8" height="1.4" fill="#d8d8c8"/><rect x="39.1" y="55.9" width="4.8" height="4.8" fill="#55554a" stroke="#8f8f4a" stroke-width="0.9"/><rect x="40.6" y="57.6" width="1.8" height="1.4" fill="#d8d8c8"/></g>
<g transform="translate(770.5,748.7) rotate(180)"><rect x="-13.2" y="21.6" width="4.6" height="21" fill="#9c9c9c"/><rect x="-11.8" y="31.2" width="1.8" height="2.2" fill="#f2f2f2"/><rect x="-9.3" y="20.2" width="4.2" height="22.4" fill="#2b2b2b"/><rect x="-5.4" y="8" width="5.6" height="46.8" fill="#333333"/><rect x="0" y="0" width="52.5" height="63.5" fill="#333333"/><rect x="0.8" y="18.2" width="10.9" height="28.3" fill="#c8c8c8"/><rect x="8.8" y="18.2" width="2.9" height="28.3" fill="#9e9e9e"/><path d="M0.8,25.6 l2.2,3 v7.2 l-2.2,3z" fill="#f6f6f6"/><path d="M3,28.4 a3,3.8 0 0 1 0,7.6z" fill="#555"/><rect x="39.1" y="3.1" width="4.8" height="4.8" fill="#55554a" stroke="#8f8f4a" stroke-width="0.9"/><rect x="40.6" y="4.8" width="1.8" height="1.4" fill="#d8d8c8"/><rect x="39.1" y="16.2" width="4.8" height="4.8" fill="#55554a" stroke="#8f8f4a" stroke-width="0.9"/><rect x="40.6" y="17.9" width="1.8" height="1.4" fill="#d8d8c8"/><rect x="39.1" y="42.6" width="4.8" height="4.8" fill="#55554a" stroke="#8f8f4a" stroke-width="0.9"/><rect x="40.6" y="44.3" width="1.8" height="1.4" fill="#d8d8c8"/><rect x="39.1" y="55.8" width="4.8" height="4.8" fill="#55554a" stroke="#8f8f4a" stroke-width="0.9"/><rect x="40.6" y="57.5" width="1.8" height="1.4" fill="#d8d8c8"/></g>
<g fill="none" stroke-linecap="round" stroke-linejoin="round"><polyline points="174.5,83.4 346.1,83.4" stroke="#1563d0" stroke-width="5.5"/><polyline points="174.5,83.4 346.1,83.4" stroke="#5c97d3" stroke-width="3.2"/>
<path d="M174.5,83.4h0M346.1,83.4h0" stroke="#1563d0" stroke-width="4.6" opacity="0.7"/>
</g>
<g fill="none" stroke-linecap="round" stroke-linejoin="round"><polyline points="174.5,109.8 346.1,70.2" stroke="#74307a" stroke-width="5.5"/><polyline points="174.5,109.8 346.1,70.2" stroke="#c564a8" stroke-width="3.2"/>
<path d="M174.5,109.8h0M346.1,70.2h0" stroke="#74307a" stroke-width="4.6" opacity="0.7"/>
</g>
<g fill="none" stroke-linecap="round" stroke-linejoin="round"><polyline points="174.5,43.8 346.1,43.8" stroke="#bf6418" stroke-width="5.5"/><polyline points="174.5,43.8 346.1,43.8" stroke="#ff6a2e" stroke-width="3.2"/>
<path d="M174.5,43.8h0M346.1,43.8h0" stroke="#bf6418" stroke-width="4.6" opacity="0.7"/>
</g>
<g fill="none" stroke-linecap="round" stroke-linejoin="round"><polyline points="174.5,57 346.1,57" stroke="#cfcf1c" stroke-width="5.5"/><polyline points="174.5,57 346.1,57" stroke="#ffff33" stroke-width="3.2"/>
<path d="M174.5,57h0M346.1,57h0" stroke="#cfcf1c" stroke-width="4.6" opacity="0.7"/>
</g>
<g fill="none" stroke-linecap="round" stroke-linejoin="round"><polyline points="174.5,175.8 346.1,149.4" stroke="#1563d0" stroke-width="5.5"/><polyline points="174.5,175.8 346.1,149.4" stroke="#5c97d3" stroke-width="3.2"/>
<path d="M174.5,175.8h0M346.1,149.4h0" stroke="#1563d0" stroke-width="4.6" opacity="0.7"/>
</g>
<g fill="none" stroke-linecap="round" stroke-linejoin="round"><polyline points="174.5,202.2 346.1,136.2" stroke="#74307a" stroke-width="5.5"/><polyline points="174.5,202.2 346.1,136.2" stroke="#c564a8" stroke-width="3.2"/>
<path d="M174.5,202.2h0M346.1,136.2h0" stroke="#74307a" stroke-width="4.6" opacity="0.7"/>
</g>
<g fill="none" stroke-linecap="round" stroke-linejoin="round"><polyline points="174.5,136.2 346.1,109.8" stroke="#bf6418" stroke-width="5.5"/><polyline points="174.5,136.2 346.1,109.8" stroke="#ff6a2e" stroke-width="3.2"/>
<path d="M174.5,136.2h0M346.1,109.8h0" stroke="#bf6418" stroke-width="4.6" opacity="0.7"/>
</g>
<g fill="none" stroke-linecap="round" stroke-linejoin="round"><polyline points="174.5,149.4 346.1,123" stroke="#cfcf1c" stroke-width="5.5"/><polyline points="174.5,149.4 346.1,123" stroke="#ffff33" stroke-width="3.2"/>
<path d="M174.5,149.4h0M346.1,123h0" stroke="#cfcf1c" stroke-width="4.6" opacity="0.7"/>
</g>
<g fill="none" stroke-linecap="round" stroke-linejoin="round"><polyline points="174.5,268.2 346.1,215.4" stroke="#1563d0" stroke-width="5.5"/><polyline points="174.5,268.2 346.1,215.4" stroke="#5c97d3" stroke-width="3.2"/>
<path d="M174.5,268.2h0M346.1,215.4h0" stroke="#1563d0" stroke-width="4.6" opacity="0.7"/>
</g>
<g fill="none" stroke-linecap="round" stroke-linejoin="round"><polyline points="174.5,294.6 346.1,202.2" stroke="#74307a" stroke-width="5.5"/><polyline points="174.5,294.6 346.1,202.2" stroke="#c564a8" stroke-width="3.2"/>
<path d="M174.5,294.6h0M346.1,202.2h0" stroke="#74307a" stroke-width="4.6" opacity="0.7"/>
</g>
<g fill="none" stroke-linecap="round" stroke-linejoin="round"><polyline points="174.5,228.6 346.1,175.8" stroke="#bf6418" stroke-width="5.5"/><polyline points="174.5,228.6 346.1,175.8" stroke="#ff6a2e" stroke-width="3.2"/>
<path d="M174.5,228.6h0M346.1,175.8h0" stroke="#bf6418" stroke-width="4.6" opacity="0.7"/>
</g>
<g fill="none" stroke-linecap="round" stroke-linejoin="round"><polyline points="174.5,241.8 346.1,189" stroke="#cfcf1c" stroke-width="5.5"/><polyline points="174.5,241.8 346.1,189" stroke="#ffff33" stroke-width="3.2"/>
<path d="M174.5,241.8h0M346.1,189h0" stroke="#cfcf1c" stroke-width="4.6" opacity="0.7"/>
</g>
<g fill="none" stroke-linecap="round" stroke-linejoin="round"><polyline points="174.5,360.6 346.1,281.4" stroke="#1563d0" stroke-width="5.5"/><polyline points="174.5,360.6 346.1,281.4" stroke="#5c97d3" stroke-width="3.2"/>
<path d="M174.5,360.6h0M346.1,281.4h0" stroke="#1563d0" stroke-width="4.6" opacity="0.7"/>
</g>
<g fill="none" stroke-linecap="round" stroke-linejoin="round"><polyline points="174.5,387 346.1,268.2" stroke="#74307a" stroke-width="5.5"/><polyline points="174.5,387 346.1,268.2" stroke="#c564a8" stroke-width="3.2"/>
<path d="M174.5,387h0M346.1,268.2h0" stroke="#74307a" stroke-width="4.6" opacity="0.7"/>
</g>
<g fill="none" stroke-linecap="round" stroke-linejoin="round"><polyline points="174.5,321 346.1,241.8" stroke="#bf6418" stroke-width="5.5"/><polyline points="174.5,321 346.1,241.8" stroke="#ff6a2e" stroke-width="3.2"/>
<path d="M174.5,321h0M346.1,241.8h0" stroke="#bf6418" stroke-width="4.6" opacity="0.7"/>
</g>
<g fill="none" stroke-linecap="round" stroke-linejoin="round"><polyline points="174.5,334.2 346.1,255" stroke="#cfcf1c" stroke-width="5.5"/><polyline points="174.5,334.2 346.1,255" stroke="#ffff33" stroke-width="3.2"/>
<path d="M174.5,334.2h0M346.1,255h0" stroke="#cfcf1c" stroke-width="4.6" opacity="0.7"/>
</g>
<g fill="none" stroke-linecap="round" stroke-linejoin="round"><polyline points="174.5,453 346.1,347.4" stroke="#1563d0" stroke-width="5.5"/><polyline points="174.5,453 346.1,347.4" stroke="#5c97d3" stroke-width="3.2"/>
<path d="M174.5,453h0M346.1,347.4h0" stroke="#1563d0" stroke-width="4.6" opacity="0.7"/>
</g>
<g fill="none" stroke-linecap="round" stroke-linejoin="round"><polyline points="174.5,479.4 346.1,334.2" stroke="#74307a" stroke-width="5.5"/><polyline points="174.5,479.4 346.1,334.2" stroke="#c564a8" stroke-width="3.2"/>
<path d="M174.5,479.4h0M346.1,334.2h0" stroke="#74307a" stroke-width="4.6" opacity="0.7"/>
</g>
<g fill="none" stroke-linecap="round" stroke-linejoin="round"><polyline points="174.5,413.4 346.1,307.8" stroke="#bf6418" stroke-width="5.5"/><polyline points="174.5,413.4 346.1,307.8" stroke="#ff6a2e" stroke-width="3.2"/>
<path d="M174.5,413.4h0M346.1,307.8h0" stroke="#bf6418" stroke-width="4.6" opacity="0.7"/>
</g>
<g fill="none" stroke-linecap="round" stroke-linejoin="round"><polyline points="174.5,426.6 346.1,321" stroke="#cfcf1c" stroke-width="5.5"/><polyline points="174.5,426.6 346.1,321" stroke="#ffff33" stroke-width="3.2"/>
<path d="M174.5,426.6h0M346.1,321h0" stroke="#cfcf1c" stroke-width="4.6" opacity="0.7"/>
</g>
<g fill="none" stroke-linecap="round" stroke-linejoin="round"><polyline points="174.5,545.4 346.1,413.4" stroke="#1563d0" stroke-width="5.5"/><polyline points="174.5,545.4 346.1,413.4" stroke="#5c97d3" stroke-width="3.2"/>
<path d="M174.5,545.4h0M346.1,413.4h0" stroke="#1563d0" stroke-width="4.6" opacity="0.7"/>
</g>
<g fill="none" stroke-linecap="round" stroke-linejoin="round"><polyline points="174.5,571.8 346.1,400.2" stroke="#74307a" stroke-width="5.5"/><polyline points="174.5,571.8 346.1,400.2" stroke="#c564a8" stroke-width="3.2"/>
<path d="M174.5,571.8h0M346.1,400.2h0" stroke="#74307a" stroke-width="4.6" opacity="0.7"/>
</g>
<g fill="none" stroke-linecap="round" stroke-linejoin="round"><polyline points="174.5,505.8 346.1,373.8" stroke="#bf6418" stroke-width="5.5"/><polyline points="174.5,505.8 346.1,373.8" stroke="#ff6a2e" stroke-width="3.2"/>
<path d="M174.5,505.8h0M346.1,373.8h0" stroke="#bf6418" stroke-width="4.6" opacity="0.7"/>
</g>
<g fill="none" stroke-linecap="round" stroke-linejoin="round"><polyline points="174.5,519 346.1,387" stroke="#cfcf1c" stroke-width="5.5"/><polyline points="174.5,519 346.1,387" stroke="#ffff33" stroke-width="3.2"/>
<path d="M174.5,519h0M346.1,387h0" stroke="#cfcf1c" stroke-width="4.6" opacity="0.7"/>
</g>
<g fill="none" stroke-linecap="round" stroke-linejoin="round"><polyline points="174.5,637.8 346.1,479.4" stroke="#1563d0" stroke-width="5.5"/><polyline points="174.5,637.8 346.1,479.4" stroke="#5c97d3" stroke-width="3.2"/>
<path d="M174.5,637.8h0M346.1,479.4h0" stroke="#1563d0" stroke-width="4.6" opacity="0.7"/>
</g>
<g fill="none" stroke-linecap="round" stroke-linejoin="round"><polyline points="174.5,664.2 346.1,466.2" stroke="#74307a" stroke-width="5.5"/><polyline points="174.5,664.2 346.1,466.2" stroke="#c564a8" stroke-width="3.2"/>
<path d="M174.5,664.2h0M346.1,466.2h0" stroke="#74307a" stroke-width="4.6" opacity="0.7"/>
</g>
<g fill="none" stroke-linecap="round" stroke-linejoin="round"><polyline points="174.5,598.2 346.1,439.8" stroke="#bf6418" stroke-width="5.5"/><polyline points="174.5,598.2 346.1,439.8" stroke="#ff6a2e" stroke-width="3.2"/>
<path d="M174.5,598.2h0M346.1,439.8h0" stroke="#bf6418" stroke-width="4.6" opacity="0.7"/>
</g>
<g fill="none" stroke-linecap="round" stroke-linejoin="round"><polyline points="174.5,611.4 346.1,453" stroke="#cfcf1c" stroke-width="5.5"/><polyline points="174.5,611.4 346.1,453" stroke="#ffff33" stroke-width="3.2"/>
<path d="M174.5,611.4h0M346.1,453h0" stroke="#cfcf1c" stroke-width="4.6" opacity="0.7"/>
</g>
<g fill="none" stroke-linecap="round" stroke-linejoin="round"><polyline points="42.5,136.2 42.5,17.4 134.9,17.4 134.9,43.8" stroke="#bf6418" stroke-width="6.8" opacity="0.72"/><polyline points="42.5,136.2 42.5,17.4 134.9,17.4 134.9,43.8" stroke="#ff6a2e" stroke-width="4.2"/>
<path d="M42.5,136.2h0M134.9,43.8h0" stroke="#bf6418" stroke-width="4.6" opacity="0.7"/>
<path d="M42.5,17.4h0M134.9,17.4h0" stroke="#bf6418" stroke-width="6.8"/>
</g>
<g fill="none" stroke-linecap="round" stroke-linejoin="round"><polyline points="148.2,43.8 134.9,136.2" stroke="#bf6418" stroke-width="5.5"/><polyline points="148.2,43.8 134.9,136.2" stroke="#ff6a2e" stroke-width="3.2"/>
<path d="M148.2,43.8h0M134.9,136.2h0" stroke="#bf6418" stroke-width="4.6" opacity="0.7"/>
</g>
<g fill="none" stroke-linecap="round" stroke-linejoin="round"><polyline points="148.2,136.2 148.2,228.6" stroke="#bf6418" stroke-width="5.5"/><polyline points="148.2,136.2 148.2,228.6" stroke="#ff6a2e" stroke-width="3.2"/>
<path d="M148.2,136.2h0M148.2,228.6h0" stroke="#bf6418" stroke-width="4.6" opacity="0.7"/>
</g>
<g fill="none" stroke-linecap="round" stroke-linejoin="round"><polyline points="161.3,228.6 148.2,321" stroke="#bf6418" stroke-width="5.5"/><polyline points="161.3,228.6 148.2,321" stroke="#ff6a2e" stroke-width="3.2"/>
<path d="M161.3,228.6h0M148.2,321h0" stroke="#bf6418" stroke-width="4.6" opacity="0.7"/>
</g>
<g fill="none" stroke-linecap="round" stroke-linejoin="round"><polyline points="161.3,321 148.2,413.4" stroke="#bf6418" stroke-width="5.5"/><polyline points="161.3,321 148.2,413.4" stroke="#ff6a2e" stroke-width="3.2"/>
<path d="M161.3,321h0M148.2,413.4h0" stroke="#bf6418" stroke-width="4.6" opacity="0.7"/>
</g>
<g fill="none" stroke-linecap="round" stroke-linejoin="round"><polyline points="134.9,413.4 148.2,505.8" stroke="#bf6418" stroke-width="5.5"/><polyline points="134.9,413.4 148.2,505.8" stroke="#ff6a2e" stroke-width="3.2"/>
<path d="M134.9,413.4h0M148.2,505.8h0" stroke="#bf6418" stroke-width="4.6" opacity="0.7"/>
</g>
<g fill="none" stroke-linecap="round" stroke-linejoin="round"><polyline points="134.9,505.8 148.2,598.2" stroke="#bf6418" stroke-width="5.5"/><polyline points="134.9,505.8 148.2,598.2" stroke="#ff6a2e" stroke-width="3.2"/>
<path d="M134.9,505.8h0M148.2,598.2h0" stroke="#bf6418" stroke-width="4.6" opacity="0.7"/>
</g>
<g fill="none" stroke-linecap="round" stroke-linejoin="round"><polyline points="148.2,96.6 148.2,123 55.8,123 42.5,189" stroke="#9a9a9a" stroke-width="6" opacity="0.72"/><polyline points="148.2,96.6 148.2,123 55.8,123 42.5,189" stroke="#ffffff" stroke-width="3.4"/>
<path d="M148.2,96.6h0M42.5,189h0" stroke="#9a9a9a" stroke-width="4.6" opacity="0.7"/>
<path d="M148.2,123h0M55.8,123h0" stroke="#9a9a9a" stroke-width="6"/>
</g>
<g fill="none" stroke-linecap="round" stroke-linejoin="round"><polyline points="161.3,96.6 161.3,189" stroke="#9a9a9a" stroke-width="5.5"/><polyline points="161.3,96.6 161.3,189" stroke="#ffffff" stroke-width="3.2"/>
<path d="M161.3,96.6h0M161.3,189h0" stroke="#9a9a9a" stroke-width="4.6" opacity="0.7"/>
</g>
<g fill="none" stroke-linecap="round" stroke-linejoin="round"><polyline points="174.5,189 161.3,281.4" stroke="#9a9a9a" stroke-width="5.5"/><polyline points="174.5,189 161.3,281.4" stroke="#ffffff" stroke-width="3.2"/>
<path d="M174.5,189h0M161.3,281.4h0" stroke="#9a9a9a" stroke-width="4.6" opacity="0.7"/>
</g>
<g fill="none" stroke-linecap="round" stroke-linejoin="round"><polyline points="174.5,281.4 161.3,373.8" stroke="#9a9a9a" stroke-width="5.5"/><polyline points="174.5,281.4 161.3,373.8" stroke="#ffffff" stroke-width="3.2"/>
<path d="M174.5,281.4h0M161.3,373.8h0" stroke="#9a9a9a" stroke-width="4.6" opacity="0.7"/>
</g>
<g fill="none" stroke-linecap="round" stroke-linejoin="round"><polyline points="174.5,373.8 148.2,466.2" stroke="#9a9a9a" stroke-width="5.5"/><polyline points="174.5,373.8 148.2,466.2" stroke="#ffffff" stroke-width="3.2"/>
<path d="M174.5,373.8h0M148.2,466.2h0" stroke="#9a9a9a" stroke-width="4.6" opacity="0.7"/>
</g>
<g fill="none" stroke-linecap="round" stroke-linejoin="round"><polyline points="161.3,466.2 161.3,558.6" stroke="#9a9a9a" stroke-width="5.5"/><polyline points="161.3,466.2 161.3,558.6" stroke="#ffffff" stroke-width="3.2"/>
<path d="M161.3,466.2h0M161.3,558.6h0" stroke="#9a9a9a" stroke-width="4.6" opacity="0.7"/>
</g>
<g fill="none" stroke-linecap="round" stroke-linejoin="round"><polyline points="174.5,558.6 161.3,651" stroke="#9a9a9a" stroke-width="5.5"/><polyline points="174.5,558.6 161.3,651" stroke="#ffffff" stroke-width="3.2"/>
<path d="M174.5,558.6h0M161.3,651h0" stroke="#9a9a9a" stroke-width="4.6" opacity="0.7"/>
</g>
<g fill="none" stroke-linecap="round" stroke-linejoin="round"><polyline points="451.8,83.4 451.8,149.4" stroke="#1563d0" stroke-width="5.5"/><polyline points="451.8,83.4 451.8,149.4" stroke="#5c97d3" stroke-width="3.2"/>
<path d="M451.8,83.4h0M451.8,149.4h0" stroke="#1563d0" stroke-width="4.6" opacity="0.7"/>
</g>
<g fill="none" stroke-linecap="round" stroke-linejoin="round"><polyline points="464.9,70.2 464.9,136.2" stroke="#74307a" stroke-width="5.5"/><polyline points="464.9,70.2 464.9,136.2" stroke="#c564a8" stroke-width="3.2"/>
<path d="M464.9,70.2h0M464.9,136.2h0" stroke="#74307a" stroke-width="4.6" opacity="0.7"/>
</g>
<g fill="none" stroke-linecap="round" stroke-linejoin="round"><polyline points="451.8,57 478.1,123" stroke="#cfcf1c" stroke-width="5.5"/><polyline points="451.8,57 478.1,123" stroke="#ffff33" stroke-width="3.2"/>
<path d="M451.8,57h0M478.1,123h0" stroke="#cfcf1c" stroke-width="4.6" opacity="0.7"/>
</g>
<g fill="none" stroke-linecap="round" stroke-linejoin="round"><polyline points="451.8,43.8 478.1,109.8" stroke="#bf6418" stroke-width="5.5"/><polyline points="451.8,43.8 478.1,109.8" stroke="#ff6a2e" stroke-width="3.2"/>
<path d="M451.8,43.8h0M478.1,109.8h0" stroke="#bf6418" stroke-width="4.6" opacity="0.7"/>
</g>
<g fill="none" stroke-linecap="round" stroke-linejoin="round"><polyline points="464.9,149.4 464.9,215.4" stroke="#1563d0" stroke-width="5.5"/><polyline points="464.9,149.4 464.9,215.4" stroke="#5c97d3" stroke-width="3.2"/>
<path d="M464.9,149.4h0M464.9,215.4h0" stroke="#1563d0" stroke-width="4.6" opacity="0.7"/>
</g>
<g fill="none" stroke-linecap="round" stroke-linejoin="round"><polyline points="478.1,136.2 451.8,202.2" stroke="#74307a" stroke-width="5.5"/><polyline points="478.1,136.2 451.8,202.2" stroke="#c564a8" stroke-width="3.2"/>
<path d="M478.1,136.2h0M451.8,202.2h0" stroke="#74307a" stroke-width="4.6" opacity="0.7"/>
</g>
<g fill="none" stroke-linecap="round" stroke-linejoin="round"><polyline points="491.4,123 451.8,189" stroke="#cfcf1c" stroke-width="5.5"/><polyline points="491.4,123 451.8,189" stroke="#ffff33" stroke-width="3.2"/>
<path d="M491.4,123h0M451.8,189h0" stroke="#cfcf1c" stroke-width="4.6" opacity="0.7"/>
</g>
<g fill="none" stroke-linecap="round" stroke-linejoin="round"><polyline points="491.4,109.8 451.8,175.8" stroke="#bf6418" stroke-width="5.5"/><polyline points="491.4,109.8 451.8,175.8" stroke="#ff6a2e" stroke-width="3.2"/>
<path d="M491.4,109.8h0M451.8,175.8h0" stroke="#bf6418" stroke-width="4.6" opacity="0.7"/>
</g>
<g fill="none" stroke-linecap="round" stroke-linejoin="round"><polyline points="451.8,215.4 451.8,281.4" stroke="#1563d0" stroke-width="5.5"/><polyline points="451.8,215.4 451.8,281.4" stroke="#5c97d3" stroke-width="3.2"/>
<path d="M451.8,215.4h0M451.8,281.4h0" stroke="#1563d0" stroke-width="4.6" opacity="0.7"/>
</g>
<g fill="none" stroke-linecap="round" stroke-linejoin="round"><polyline points="478.1,202.2 464.9,268.2" stroke="#74307a" stroke-width="5.5"/><polyline points="478.1,202.2 464.9,268.2" stroke="#c564a8" stroke-width="3.2"/>
<path d="M478.1,202.2h0M464.9,268.2h0" stroke="#74307a" stroke-width="4.6" opacity="0.7"/>
</g>
<g fill="none" stroke-linecap="round" stroke-linejoin="round"><polyline points="478.1,189 478.1,255" stroke="#cfcf1c" stroke-width="5.5"/><polyline points="478.1,189 478.1,255" stroke="#ffff33" stroke-width="3.2"/>
<path d="M478.1,189h0M478.1,255h0" stroke="#cfcf1c" stroke-width="4.6" opacity="0.7"/>
</g>
<g fill="none" stroke-linecap="round" stroke-linejoin="round"><polyline points="478.1,175.8 464.9,241.8" stroke="#bf6418" stroke-width="5.5"/><polyline points="478.1,175.8 464.9,241.8" stroke="#ff6a2e" stroke-width="3.2"/>
<path d="M478.1,175.8h0M464.9,241.8h0" stroke="#bf6418" stroke-width="4.6" opacity="0.7"/>
</g>
<g fill="none" stroke-linecap="round" stroke-linejoin="round"><polyline points="464.9,281.4 464.9,347.4" stroke="#1563d0" stroke-width="5.5"/><polyline points="464.9,281.4 464.9,347.4" stroke="#5c97d3" stroke-width="3.2"/>
<path d="M464.9,281.4h0M464.9,347.4h0" stroke="#1563d0" stroke-width="4.6" opacity="0.7"/>
</g>
<g fill="none" stroke-linecap="round" stroke-linejoin="round"><polyline points="478.1,268.2 451.8,334.2" stroke="#74307a" stroke-width="5.5"/><polyline points="478.1,268.2 451.8,334.2" stroke="#c564a8" stroke-width="3.2"/>
<path d="M478.1,268.2h0M451.8,334.2h0" stroke="#74307a" stroke-width="4.6" opacity="0.7"/>
</g>
<g fill="none" stroke-linecap="round" stroke-linejoin="round"><polyline points="491.4,255 451.8,321" stroke="#cfcf1c" stroke-width="5.5"/><polyline points="491.4,255 451.8,321" stroke="#ffff33" stroke-width="3.2"/>
<path d="M491.4,255h0M451.8,321h0" stroke="#cfcf1c" stroke-width="4.6" opacity="0.7"/>
</g>
<g fill="none" stroke-linecap="round" stroke-linejoin="round"><polyline points="491.4,241.8 451.8,307.8" stroke="#bf6418" stroke-width="5.5"/><polyline points="491.4,241.8 451.8,307.8" stroke="#ff6a2e" stroke-width="3.2"/>
<path d="M491.4,241.8h0M451.8,307.8h0" stroke="#bf6418" stroke-width="4.6" opacity="0.7"/>
</g>
<g fill="none" stroke-linecap="round" stroke-linejoin="round"><polyline points="451.8,347.4 451.8,413.4" stroke="#1563d0" stroke-width="5.5"/><polyline points="451.8,347.4 451.8,413.4" stroke="#5c97d3" stroke-width="3.2"/>
<path d="M451.8,347.4h0M451.8,413.4h0" stroke="#1563d0" stroke-width="4.6" opacity="0.7"/>
</g>
<g fill="none" stroke-linecap="round" stroke-linejoin="round"><polyline points="478.1,334.2 464.9,400.2" stroke="#74307a" stroke-width="5.5"/><polyline points="478.1,334.2 464.9,400.2" stroke="#c564a8" stroke-width="3.2"/>
<path d="M478.1,334.2h0M464.9,400.2h0" stroke="#74307a" stroke-width="4.6" opacity="0.7"/>
</g>
<g fill="none" stroke-linecap="round" stroke-linejoin="round"><polyline points="478.1,321 478.1,387" stroke="#cfcf1c" stroke-width="5.5"/><polyline points="478.1,321 478.1,387" stroke="#ffff33" stroke-width="3.2"/>
<path d="M478.1,321h0M478.1,387h0" stroke="#cfcf1c" stroke-width="4.6" opacity="0.7"/>
</g>
<g fill="none" stroke-linecap="round" stroke-linejoin="round"><polyline points="478.1,307.8 464.9,373.8" stroke="#bf6418" stroke-width="5.5"/><polyline points="478.1,307.8 464.9,373.8" stroke="#ff6a2e" stroke-width="3.2"/>
<path d="M478.1,307.8h0M464.9,373.8h0" stroke="#bf6418" stroke-width="4.6" opacity="0.7"/>
</g>
<g fill="none" stroke-linecap="round" stroke-linejoin="round"><polyline points="464.9,413.4 464.9,479.4" stroke="#1563d0" stroke-width="5.5"/><polyline points="464.9,413.4 464.9,479.4" stroke="#5c97d3" stroke-width="3.2"/>
<path d="M464.9,413.4h0M464.9,479.4h0" stroke="#1563d0" stroke-width="4.6" opacity="0.7"/>
</g>
<g fill="none" stroke-linecap="round" stroke-linejoin="round"><polyline points="478.1,400.2 451.8,466.2" stroke="#74307a" stroke-width="5.5"/><polyline points="478.1,400.2 451.8,466.2" stroke="#c564a8" stroke-width="3.2"/>
<path d="M478.1,400.2h0M451.8,466.2h0" stroke="#74307a" stroke-width="4.6" opacity="0.7"/>
</g>
<g fill="none" stroke-linecap="round" stroke-linejoin="round"><polyline points="491.4,387 451.8,453" stroke="#cfcf1c" stroke-width="5.5"/><polyline points="491.4,387 451.8,453" stroke="#ffff33" stroke-width="3.2"/>
<path d="M491.4,387h0M451.8,453h0" stroke="#cfcf1c" stroke-width="4.6" opacity="0.7"/>
</g>
<g fill="none" stroke-linecap="round" stroke-linejoin="round"><polyline points="491.4,373.8 451.8,439.8" stroke="#bf6418" stroke-width="5.5"/><polyline points="491.4,373.8 451.8,439.8" stroke="#ff6a2e" stroke-width="3.2"/>
<path d="M491.4,373.8h0M451.8,439.8h0" stroke="#bf6418" stroke-width="4.6" opacity="0.7"/>
</g>
<g fill="none" stroke-linecap="round" stroke-linejoin="round"><polyline points="491.4,57 610.1,255" stroke="#cfcf1c" stroke-width="5.5"/><polyline points="491.4,57 610.1,255" stroke="#ffff33" stroke-width="3.2"/>
<path d="M491.4,57h0M610.1,255h0" stroke="#cfcf1c" stroke-width="4.6" opacity="0.7"/>
</g>
<g fill="none" stroke-linecap="round" stroke-linejoin="round"><polyline points="491.4,70.2 636.5,241.8" stroke="#74307a" stroke-width="5.5"/><polyline points="491.4,70.2 636.5,241.8" stroke="#c564a8" stroke-width="3.2"/>
<path d="M491.4,70.2h0M636.5,241.8h0" stroke="#74307a" stroke-width="4.6" opacity="0.7"/>
</g>
<g fill="none" stroke-linecap="round" stroke-linejoin="round"><polyline points="530.9,70.2 570.5,149.4" stroke="#12a23a" stroke-width="5.5"/><polyline points="530.9,70.2 570.5,149.4" stroke="#54ca62" stroke-width="3.2"/>
<path d="M530.9,70.2h0M570.5,149.4h0" stroke="#12a23a" stroke-width="4.6" opacity="0.7"/>
</g>
<g fill="none" stroke-linecap="round" stroke-linejoin="round"><polyline points="491.4,466.2 597,519" stroke="#74307a" stroke-width="5.5"/><polyline points="491.4,466.2 597,519" stroke="#c564a8" stroke-width="3.2"/>
<path d="M491.4,466.2h0M597,519h0" stroke="#74307a" stroke-width="4.6" opacity="0.7"/>
</g>
<g fill="none" stroke-linecap="round" stroke-linejoin="round"><polyline points="491.4,453 597,545.4" stroke="#cfcf1c" stroke-width="5.5"/><polyline points="491.4,453 597,545.4" stroke="#ffff33" stroke-width="3.2"/>
<path d="M491.4,453h0M597,545.4h0" stroke="#cfcf1c" stroke-width="4.6" opacity="0.7"/>
</g>
<g fill="none" stroke-linecap="round" stroke-linejoin="round"><polyline points="491.4,439.8 623.4,492.6" stroke="#bf6418" stroke-width="5.5"/><polyline points="491.4,439.8 623.4,492.6" stroke="#ff6a2e" stroke-width="3.2"/>
<path d="M491.4,439.8h0M623.4,492.6h0" stroke="#bf6418" stroke-width="4.6" opacity="0.7"/>
</g>
<g fill="none" stroke-linecap="round" stroke-linejoin="round"><polyline points="293.4,664.2 597,532.2" stroke="#9c1a1a" stroke-width="5.5"/><polyline points="293.4,664.2 597,532.2" stroke="#d23232" stroke-width="3.2"/>
<path d="M293.4,664.2h0M597,532.2h0" stroke="#9c1a1a" stroke-width="4.6" opacity="0.7"/>
</g>
<g fill="none" stroke-linecap="round" stroke-linejoin="round"><polyline points="306.6,664.2 702.5,532.2" stroke="#0c0c0c" stroke-width="5.5"/><polyline points="306.6,664.2 702.5,532.2" stroke="#3a3a3a" stroke-width="3.2"/>
<path d="M306.6,664.2h0M702.5,532.2h0" stroke="#0c0c0c" stroke-width="4.6" opacity="0.7"/>
</g>
<g fill="none" stroke-linecap="round" stroke-linejoin="round"><polyline points="530.9,585 570.5,664.2" stroke="#12a23a" stroke-width="5.5"/><polyline points="530.9,585 570.5,664.2" stroke="#54ca62" stroke-width="3.2"/>
<path d="M530.9,585h0M570.5,664.2h0" stroke="#12a23a" stroke-width="4.6" opacity="0.7"/>
</g>
<g fill="none" stroke-linecap="round" stroke-linejoin="round"><polyline points="451.8,479.4 385.8,690.6" stroke="#1563d0" stroke-width="5.5"/><polyline points="451.8,479.4 385.8,690.6" stroke="#5c97d3" stroke-width="3.2"/>
<path d="M451.8,479.4h0M385.8,690.6h0" stroke="#1563d0" stroke-width="4.6" opacity="0.7"/>
</g>
<g fill="none" stroke-linecap="round" stroke-linejoin="round"><polyline points="293.4,677.4 451.8,677.4 451.8,690.6" stroke="#9c1a1a" stroke-width="6.1" opacity="0.72"/><polyline points="293.4,677.4 451.8,677.4 451.8,690.6" stroke="#d23232" stroke-width="3.5"/>
<path d="M293.4,677.4h0M451.8,690.6h0" stroke="#9c1a1a" stroke-width="4.6" opacity="0.7"/>
<path d="M451.8,677.4h0" stroke="#9c1a1a" stroke-width="6.1"/>
</g>
<g fill="none" stroke-linecap="round" stroke-linejoin="round"><polyline points="372.6,690.6 372.6,783" stroke="#1563d0" stroke-width="5.5"/><polyline points="372.6,690.6 372.6,783" stroke="#5c97d3" stroke-width="3.2"/>
<path d="M372.6,690.6h0M372.6,783h0" stroke="#1563d0" stroke-width="4.6" opacity="0.7"/>
</g>
<g fill="none" stroke-linecap="round" stroke-linejoin="round"><polyline points="359.4,717 359.4,796.2" stroke="#1563d0" stroke-width="5.5"/><polyline points="359.4,717 359.4,796.2" stroke="#5c97d3" stroke-width="3.2"/>
<path d="M359.4,717h0M359.4,796.2h0" stroke="#1563d0" stroke-width="4.6" opacity="0.7"/>
</g>
<g fill="none" stroke-linecap="round" stroke-linejoin="round"><polyline points="346.1,703.8 385.8,835.8" stroke="#1563d0" stroke-width="5.5"/><polyline points="346.1,703.8 385.8,835.8" stroke="#5c97d3" stroke-width="3.2"/>
<path d="M346.1,703.8h0M385.8,835.8h0" stroke="#1563d0" stroke-width="4.6" opacity="0.7"/>
</g>
<g fill="none" stroke-linecap="round" stroke-linejoin="round"><polyline points="306.6,730.2 346.1,730.2" stroke="#0c0c0c" stroke-width="5.5"/><polyline points="306.6,730.2 346.1,730.2" stroke="#3a3a3a" stroke-width="3.2"/>
<path d="M306.6,730.2h0M346.1,730.2h0" stroke="#0c0c0c" stroke-width="4.6" opacity="0.7"/>
</g>
<g fill="none" stroke-linecap="round" stroke-linejoin="round"><polyline points="266.9,743.4 346.1,743.4" stroke="#9c1a1a" stroke-width="5.5"/><polyline points="266.9,743.4 346.1,743.4" stroke="#d23232" stroke-width="3.2"/>
<path d="M266.9,743.4h0M346.1,743.4h0" stroke="#9c1a1a" stroke-width="4.6" opacity="0.7"/>
</g>
<g fill="none" stroke-linecap="round" stroke-linejoin="round"><polyline points="266.9,769.8 346.1,769.8" stroke="#0c0c0c" stroke-width="5.5"/><polyline points="266.9,769.8 346.1,769.8" stroke="#3a3a3a" stroke-width="3.2"/>
<path d="M266.9,769.8h0M346.1,769.8h0" stroke="#0c0c0c" stroke-width="4.6" opacity="0.7"/>
</g>
<g fill="none" stroke-linecap="round" stroke-linejoin="round"><polyline points="398.9,835.8 438.6,835.8" stroke="#12a23a" stroke-width="5.5"/><polyline points="398.9,835.8 438.6,835.8" stroke="#54ca62" stroke-width="3.2"/>
<path d="M398.9,835.8h0M438.6,835.8h0" stroke="#12a23a" stroke-width="4.6" opacity="0.7"/>
</g>
<g fill="none" stroke-linecap="round" stroke-linejoin="round"><polyline points="240.4,755 240.4,849 530.9,849 544.1,849 530.9,822.6" stroke="#12a23a" stroke-width="6.4" opacity="0.72"/><polyline points="240.4,755 240.4,849 530.9,849 544.1,849 530.9,822.6" stroke="#54ca62" stroke-width="3.8"/>
<path d="M240.4,755h0M530.9,822.6h0" stroke="#12a23a" stroke-width="4.6" opacity="0.7"/>
<path d="M240.4,849h0M530.9,849h0M544.1,849h0" stroke="#12a23a" stroke-width="6.4"/>
</g>
<g fill="none" stroke-linecap="round" stroke-linejoin="round"><polyline points="860.9,426.6 715.8,598.2" stroke="#1563d0" stroke-width="5.5"/><polyline points="860.9,426.6 715.8,598.2" stroke="#5c97d3" stroke-width="3.2"/>
<path d="M860.9,426.6h0M715.8,598.2h0" stroke="#1563d0" stroke-width="4.6" opacity="0.7"/>
</g>
<g fill="none" stroke-linecap="round" stroke-linejoin="round"><polyline points="860.9,439.8 742.1,545.4" stroke="#74307a" stroke-width="5.5"/><polyline points="860.9,439.8 742.1,545.4" stroke="#c564a8" stroke-width="3.2"/>
<path d="M860.9,439.8h0M742.1,545.4h0" stroke="#74307a" stroke-width="4.6" opacity="0.7"/>
</g>
<g fill="none" stroke-linecap="round" stroke-linejoin="round"><polyline points="847.8,453 715.8,571.8" stroke="#cfcf1c" stroke-width="5.5"/><polyline points="847.8,453 715.8,571.8" stroke="#ffff33" stroke-width="3.2"/>
<path d="M847.8,453h0M715.8,571.8h0" stroke="#cfcf1c" stroke-width="4.6" opacity="0.7"/>
</g>
<g fill="none" stroke-linecap="round" stroke-linejoin="round"><polyline points="847.8,466.2 742.1,519" stroke="#bf6418" stroke-width="5.5"/><polyline points="847.8,466.2 742.1,519" stroke="#ff6a2e" stroke-width="3.2"/>
<path d="M847.8,466.2h0M742.1,519h0" stroke="#bf6418" stroke-width="4.6" opacity="0.7"/>
</g>
<g fill="none" stroke-linecap="round" stroke-linejoin="round"><polyline points="742.1,202.2 728.9,123 728.9,4.2 953.4,4.2 953.4,30.6" stroke="#1563d0" stroke-width="6.6" opacity="0.72"/><polyline points="742.1,202.2 728.9,123 728.9,4.2 953.4,4.2 953.4,30.6" stroke="#5c97d3" stroke-width="4"/>
<path d="M742.1,202.2h0M953.4,30.6h0" stroke="#1563d0" stroke-width="4.6" opacity="0.7"/>
<path d="M728.9,123h0M728.9,4.2h0M953.4,4.2h0" stroke="#1563d0" stroke-width="6.6"/>
</g>
<g fill="none" stroke-linecap="round" stroke-linejoin="round"><polyline points="847.8,43.8 742.1,255" stroke="#74307a" stroke-width="5.5"/><polyline points="847.8,43.8 742.1,255" stroke="#c564a8" stroke-width="3.2"/>
<path d="M847.8,43.8h0M742.1,255h0" stroke="#74307a" stroke-width="4.6" opacity="0.7"/>
</g>
<g fill="none" stroke-linecap="round" stroke-linejoin="round"><polyline points="847.8,70.2 742.1,241.8" stroke="#bf6418" stroke-width="5.5"/><polyline points="847.8,70.2 742.1,241.8" stroke="#ff6a2e" stroke-width="3.2"/>
<path d="M847.8,70.2h0M742.1,241.8h0" stroke="#bf6418" stroke-width="4.6" opacity="0.7"/>
</g>
<g fill="none" stroke-linecap="round" stroke-linejoin="round"><polyline points="742.1,189 847.8,57" stroke="#cfcf1c" stroke-width="5.5"/><polyline points="742.1,189 847.8,57" stroke="#ffff33" stroke-width="3.2"/>
<path d="M742.1,189h0M847.8,57h0" stroke="#cfcf1c" stroke-width="4.6" opacity="0.7"/>
</g>
<g fill="none" stroke-linecap="round" stroke-linejoin="round"><polyline points="649.8,189 649.8,202.2" stroke="#12a23a" stroke-width="5.5"/><polyline points="649.8,189 649.8,202.2" stroke="#54ca62" stroke-width="3.2"/>
<path d="M649.8,189h0M649.8,202.2h0" stroke="#12a23a" stroke-width="4.6" opacity="0.7"/>
</g>
<g fill="none" stroke-linecap="round" stroke-linejoin="round"><polyline points="715.8,387 794.9,387 794.9,690.6 728.9,690.6" stroke="#9c1a1a" stroke-width="6.1" opacity="0.72"/><polyline points="715.8,387 794.9,387 794.9,690.6 728.9,690.6" stroke="#d23232" stroke-width="3.5"/>
<path d="M715.8,387h0M728.9,690.6h0" stroke="#9c1a1a" stroke-width="4.6" opacity="0.7"/>
<path d="M794.9,387h0M794.9,690.6h0" stroke="#9c1a1a" stroke-width="6.1"/>
</g>
<g fill="none" stroke-linecap="round" stroke-linejoin="round"><polyline points="570.5,387 570.5,360.6 742.1,360.6 742.1,413.4" stroke="#12a23a" stroke-width="6.3" opacity="0.72"/><polyline points="570.5,387 570.5,360.6 742.1,360.6 742.1,413.4" stroke="#54ca62" stroke-width="3.7"/>
<path d="M570.5,387h0M742.1,413.4h0" stroke="#12a23a" stroke-width="4.6" opacity="0.7"/>
<path d="M570.5,360.6h0M742.1,360.6h0" stroke="#12a23a" stroke-width="6.3"/>
</g>
<g fill="none" stroke-linecap="round" stroke-linejoin="round"><polyline points="808.1,268.2 728.9,413.4" stroke="#12a23a" stroke-width="5.5"/><polyline points="808.1,268.2 728.9,413.4" stroke="#54ca62" stroke-width="3.2"/>
<path d="M808.1,268.2h0M728.9,413.4h0" stroke="#12a23a" stroke-width="4.6" opacity="0.7"/>
</g>
<g fill="none" stroke-linecap="round" stroke-linejoin="round"><polyline points="715.8,400.2 715.8,492.6" stroke="#1563d0" stroke-width="5.5"/><polyline points="715.8,400.2 715.8,492.6" stroke="#5c97d3" stroke-width="3.2"/>
<path d="M715.8,400.2h0M715.8,492.6h0" stroke="#1563d0" stroke-width="4.6" opacity="0.7"/>
</g>
<g fill="none" stroke-linecap="round" stroke-linejoin="round"><polyline points="702.5,492.6 702.5,505.8" stroke="#1563d0" stroke-width="5.5"/><polyline points="702.5,492.6 702.5,505.8" stroke="#5c97d3" stroke-width="3.2"/>
<path d="M702.5,492.6h0M702.5,505.8h0" stroke="#1563d0" stroke-width="4.6" opacity="0.7"/>
</g>
<g fill="none" stroke-linecap="round" stroke-linejoin="round"><polyline points="636.5,439.8 636.5,505.8" stroke="#12a23a" stroke-width="5.5"/><polyline points="636.5,439.8 636.5,505.8" stroke="#54ca62" stroke-width="3.2"/>
<path d="M636.5,439.8h0M636.5,505.8h0" stroke="#12a23a" stroke-width="4.6" opacity="0.7"/>
</g>
<g fill="none" stroke-linecap="round" stroke-linejoin="round"><polyline points="610.1,453 610.1,492.6" stroke="#1563d0" stroke-width="5.5"/><polyline points="610.1,453 610.1,492.6" stroke="#5c97d3" stroke-width="3.2"/>
<path d="M610.1,453h0M610.1,492.6h0" stroke="#1563d0" stroke-width="4.6" opacity="0.7"/>
</g>
<g fill="none" stroke-linecap="round" stroke-linejoin="round"><polyline points="636.5,558.6 636.5,571.8" stroke="#1563d0" stroke-width="5.5"/><polyline points="636.5,558.6 636.5,571.8" stroke="#5c97d3" stroke-width="3.2"/>
<path d="M636.5,558.6h0M636.5,571.8h0" stroke="#1563d0" stroke-width="4.6" opacity="0.7"/>
</g>
<g fill="none" stroke-linecap="round" stroke-linejoin="round"><polyline points="597,571.8 610.1,598.2" stroke="#1563d0" stroke-width="5.5"/><polyline points="597,571.8 610.1,598.2" stroke="#5c97d3" stroke-width="3.2"/>
<path d="M597,571.8h0M610.1,598.2h0" stroke="#1563d0" stroke-width="4.6" opacity="0.7"/>
</g>
<g fill="none" stroke-linecap="round" stroke-linejoin="round"><polyline points="728.9,558.6 728.9,624.6" stroke="#1563d0" stroke-width="5.5"/><polyline points="728.9,558.6 728.9,624.6" stroke="#5c97d3" stroke-width="3.2"/>
<path d="M728.9,558.6h0M728.9,624.6h0" stroke="#1563d0" stroke-width="4.6" opacity="0.7"/>
</g>
<g fill="none" stroke-linecap="round" stroke-linejoin="round"><polyline points="570.5,677.4 570.5,690.6 702.5,690.6 702.5,677.4" stroke="#12a23a" stroke-width="6.3" opacity="0.72"/><polyline points="570.5,677.4 570.5,690.6 702.5,690.6 702.5,677.4" stroke="#54ca62" stroke-width="3.7"/>
<path d="M570.5,677.4h0M702.5,677.4h0" stroke="#12a23a" stroke-width="4.6" opacity="0.7"/>
<path d="M570.5,690.6h0M702.5,690.6h0" stroke="#12a23a" stroke-width="6.3"/>
</g>
<g fill="none" stroke-linecap="round" stroke-linejoin="round"><polyline points="742.1,677.4 742.1,717 756.6,717" stroke="#12a23a" stroke-width="6.3" opacity="0.72"/><polyline points="742.1,677.4 742.1,717 756.6,717" stroke="#54ca62" stroke-width="3.7"/>
<path d="M742.1,677.4h0M756.6,717h0" stroke="#12a23a" stroke-width="4.6" opacity="0.7"/>
<path d="M742.1,717h0" stroke="#12a23a" stroke-width="6.3"/>
</g>
<g fill="none" stroke-linecap="round" stroke-linejoin="round"><polyline points="728.9,703.8 728.9,730.2" stroke="#9c1a1a" stroke-width="5.5"/><polyline points="728.9,703.8 728.9,730.2" stroke="#d23232" stroke-width="3.2"/>
<path d="M728.9,703.8h0M728.9,730.2h0" stroke="#9c1a1a" stroke-width="4.6" opacity="0.7"/>
</g>
<g fill="none" stroke-linecap="round" stroke-linejoin="round"><polyline points="808.1,637.8 1124.9,637.8" stroke="#12a23a" stroke-width="5.5"/><polyline points="808.1,637.8 1124.9,637.8" stroke="#54ca62" stroke-width="3.2"/>
<path d="M808.1,637.8h0M1124.9,637.8h0" stroke="#12a23a" stroke-width="4.6" opacity="0.7"/>
</g>
<g fill="none" stroke-linecap="round" stroke-linejoin="round"><polyline points="860.9,70.2 887.4,136.2" stroke="#bf6418" stroke-width="5.5"/><polyline points="860.9,70.2 887.4,136.2" stroke="#ff6a2e" stroke-width="3.2"/>
<path d="M860.9,70.2h0M887.4,136.2h0" stroke="#bf6418" stroke-width="4.6" opacity="0.7"/>
</g>
<g fill="none" stroke-linecap="round" stroke-linejoin="round"><polyline points="887.4,30.6 887.4,96.6" stroke="#1563d0" stroke-width="5.5"/><polyline points="887.4,30.6 887.4,96.6" stroke="#5c97d3" stroke-width="3.2"/>
<path d="M887.4,30.6h0M887.4,96.6h0" stroke="#1563d0" stroke-width="4.6" opacity="0.7"/>
</g>
<g fill="none" stroke-linecap="round" stroke-linejoin="round"><polyline points="860.9,43.8 860.9,109.8" stroke="#74307a" stroke-width="5.5"/><polyline points="860.9,43.8 860.9,109.8" stroke="#c564a8" stroke-width="3.2"/>
<path d="M860.9,43.8h0M860.9,109.8h0" stroke="#74307a" stroke-width="4.6" opacity="0.7"/>
</g>
<g fill="none" stroke-linecap="round" stroke-linejoin="round"><polyline points="874.1,57 874.1,123" stroke="#cfcf1c" stroke-width="5.5"/><polyline points="874.1,57 874.1,123" stroke="#ffff33" stroke-width="3.2"/>
<path d="M874.1,57h0M874.1,123h0" stroke="#cfcf1c" stroke-width="4.6" opacity="0.7"/>
</g>
<g fill="none" stroke-linecap="round" stroke-linejoin="round"><polyline points="847.8,96.6 874.1,162.6" stroke="#1563d0" stroke-width="5.5"/><polyline points="847.8,96.6 874.1,162.6" stroke="#5c97d3" stroke-width="3.2"/>
<path d="M847.8,96.6h0M874.1,162.6h0" stroke="#1563d0" stroke-width="4.6" opacity="0.7"/>
</g>
<g fill="none" stroke-linecap="round" stroke-linejoin="round"><polyline points="887.4,109.8 887.4,175.8" stroke="#74307a" stroke-width="5.5"/><polyline points="887.4,109.8 887.4,175.8" stroke="#c564a8" stroke-width="3.2"/>
<path d="M887.4,109.8h0M887.4,175.8h0" stroke="#74307a" stroke-width="4.6" opacity="0.7"/>
</g>
<g fill="none" stroke-linecap="round" stroke-linejoin="round"><polyline points="860.9,123 860.9,189" stroke="#cfcf1c" stroke-width="5.5"/><polyline points="860.9,123 860.9,189" stroke="#ffff33" stroke-width="3.2"/>
<path d="M860.9,123h0M860.9,189h0" stroke="#cfcf1c" stroke-width="4.6" opacity="0.7"/>
</g>
<g fill="none" stroke-linecap="round" stroke-linejoin="round"><polyline points="874.1,136.2 874.1,202.2" stroke="#bf6418" stroke-width="5.5"/><polyline points="874.1,136.2 874.1,202.2" stroke="#ff6a2e" stroke-width="3.2"/>
<path d="M874.1,136.2h0M874.1,202.2h0" stroke="#bf6418" stroke-width="4.6" opacity="0.7"/>
</g>
<g fill="none" stroke-linecap="round" stroke-linejoin="round"><polyline points="847.8,162.6 860.9,228.6" stroke="#1563d0" stroke-width="5.5"/><polyline points="847.8,162.6 860.9,228.6" stroke="#5c97d3" stroke-width="3.2"/>
<path d="M847.8,162.6h0M860.9,228.6h0" stroke="#1563d0" stroke-width="4.6" opacity="0.7"/>
</g>
<g fill="none" stroke-linecap="round" stroke-linejoin="round"><polyline points="847.8,175.8 874.1,241.8" stroke="#74307a" stroke-width="5.5"/><polyline points="847.8,175.8 874.1,241.8" stroke="#c564a8" stroke-width="3.2"/>
<path d="M847.8,175.8h0M874.1,241.8h0" stroke="#74307a" stroke-width="4.6" opacity="0.7"/>
</g>
<g fill="none" stroke-linecap="round" stroke-linejoin="round"><polyline points="847.8,189 847.8,255" stroke="#cfcf1c" stroke-width="5.5"/><polyline points="847.8,189 847.8,255" stroke="#ffff33" stroke-width="3.2"/>
<path d="M847.8,189h0M847.8,255h0" stroke="#cfcf1c" stroke-width="4.6" opacity="0.7"/>
</g>
<g fill="none" stroke-linecap="round" stroke-linejoin="round"><polyline points="887.4,202.2 874.1,268.2" stroke="#bf6418" stroke-width="5.5"/><polyline points="887.4,202.2 874.1,268.2" stroke="#ff6a2e" stroke-width="3.2"/>
<path d="M887.4,202.2h0M874.1,268.2h0" stroke="#bf6418" stroke-width="4.6" opacity="0.7"/>
</g>
<g fill="none" stroke-linecap="round" stroke-linejoin="round"><polyline points="860.9,241.8 860.9,307.8" stroke="#74307a" stroke-width="5.5"/><polyline points="860.9,241.8 860.9,307.8" stroke="#c564a8" stroke-width="3.2"/>
<path d="M860.9,241.8h0M860.9,307.8h0" stroke="#74307a" stroke-width="4.6" opacity="0.7"/>
</g>
<g fill="none" stroke-linecap="round" stroke-linejoin="round"><polyline points="887.4,255 887.4,321" stroke="#cfcf1c" stroke-width="5.5"/><polyline points="887.4,255 887.4,321" stroke="#ffff33" stroke-width="3.2"/>
<path d="M887.4,255h0M887.4,321h0" stroke="#cfcf1c" stroke-width="4.6" opacity="0.7"/>
</g>
<g fill="none" stroke-linecap="round" stroke-linejoin="round"><polyline points="847.8,268.2 887.4,334.2" stroke="#bf6418" stroke-width="5.5"/><polyline points="847.8,268.2 887.4,334.2" stroke="#ff6a2e" stroke-width="3.2"/>
<path d="M847.8,268.2h0M887.4,334.2h0" stroke="#bf6418" stroke-width="4.6" opacity="0.7"/>
</g>
<g fill="none" stroke-linecap="round" stroke-linejoin="round"><polyline points="887.4,228.6 874.1,294.6" stroke="#1563d0" stroke-width="5.5"/><polyline points="887.4,228.6 874.1,294.6" stroke="#5c97d3" stroke-width="3.2"/>
<path d="M887.4,228.6h0M874.1,294.6h0" stroke="#1563d0" stroke-width="4.6" opacity="0.7"/>
</g>
<g fill="none" stroke-linecap="round" stroke-linejoin="round"><polyline points="847.8,294.6 847.8,360.6" stroke="#1563d0" stroke-width="5.5"/><polyline points="847.8,294.6 847.8,360.6" stroke="#5c97d3" stroke-width="3.2"/>
<path d="M847.8,294.6h0M847.8,360.6h0" stroke="#1563d0" stroke-width="4.6" opacity="0.7"/>
</g>
<g fill="none" stroke-linecap="round" stroke-linejoin="round"><polyline points="860.9,321 887.4,387" stroke="#cfcf1c" stroke-width="5.5"/><polyline points="860.9,321 887.4,387" stroke="#ffff33" stroke-width="3.2"/>
<path d="M860.9,321h0M887.4,387h0" stroke="#cfcf1c" stroke-width="4.6" opacity="0.7"/>
</g>
<g fill="none" stroke-linecap="round" stroke-linejoin="round"><polyline points="874.1,307.8 860.9,373.8" stroke="#74307a" stroke-width="5.5"/><polyline points="874.1,307.8 860.9,373.8" stroke="#c564a8" stroke-width="3.2"/>
<path d="M874.1,307.8h0M860.9,373.8h0" stroke="#74307a" stroke-width="4.6" opacity="0.7"/>
</g>
<g fill="none" stroke-linecap="round" stroke-linejoin="round"><polyline points="874.1,334.2 874.1,400.2" stroke="#bf6418" stroke-width="5.5"/><polyline points="874.1,334.2 874.1,400.2" stroke="#ff6a2e" stroke-width="3.2"/>
<path d="M874.1,334.2h0M874.1,400.2h0" stroke="#bf6418" stroke-width="4.6" opacity="0.7"/>
</g>
<g fill="none" stroke-linecap="round" stroke-linejoin="round"><polyline points="860.9,387 887.4,453" stroke="#cfcf1c" stroke-width="5.5"/><polyline points="860.9,387 887.4,453" stroke="#ffff33" stroke-width="3.2"/>
<path d="M860.9,387h0M887.4,453h0" stroke="#cfcf1c" stroke-width="4.6" opacity="0.7"/>
</g>
<g fill="none" stroke-linecap="round" stroke-linejoin="round"><polyline points="847.8,373.8 874.1,439.8" stroke="#74307a" stroke-width="5.5"/><polyline points="847.8,373.8 874.1,439.8" stroke="#c564a8" stroke-width="3.2"/>
<path d="M847.8,373.8h0M874.1,439.8h0" stroke="#74307a" stroke-width="4.6" opacity="0.7"/>
</g>
<g fill="none" stroke-linecap="round" stroke-linejoin="round"><polyline points="887.4,360.6 847.8,426.6" stroke="#1563d0" stroke-width="5.5"/><polyline points="887.4,360.6 847.8,426.6" stroke="#5c97d3" stroke-width="3.2"/>
<path d="M887.4,360.6h0M847.8,426.6h0" stroke="#1563d0" stroke-width="4.6" opacity="0.7"/>
</g>
<g fill="none" stroke-linecap="round" stroke-linejoin="round"><polyline points="887.4,400.2 887.4,466.2" stroke="#bf6418" stroke-width="5.5"/><polyline points="887.4,400.2 887.4,466.2" stroke="#ff6a2e" stroke-width="3.2"/>
<path d="M887.4,400.2h0M887.4,466.2h0" stroke="#bf6418" stroke-width="4.6" opacity="0.7"/>
</g>
<g fill="none" stroke-linecap="round" stroke-linejoin="round"><polyline points="992.9,30.6 1124.9,30.6" stroke="#1563d0" stroke-width="5.5"/><polyline points="992.9,30.6 1124.9,30.6" stroke="#5c97d3" stroke-width="3.2"/>
<path d="M992.9,30.6h0M1124.9,30.6h0" stroke="#1563d0" stroke-width="4.6" opacity="0.7"/>
</g>
<g fill="none" stroke-linecap="round" stroke-linejoin="round"><polyline points="992.9,43.8 1124.9,57" stroke="#74307a" stroke-width="5.5"/><polyline points="992.9,43.8 1124.9,57" stroke="#c564a8" stroke-width="3.2"/>
<path d="M992.9,43.8h0M1124.9,57h0" stroke="#74307a" stroke-width="4.6" opacity="0.7"/>
</g>
<g fill="none" stroke-linecap="round" stroke-linejoin="round"><polyline points="992.9,57 1124.9,43.8" stroke="#cfcf1c" stroke-width="5.5"/><polyline points="992.9,57 1124.9,43.8" stroke="#ffff33" stroke-width="3.2"/>
<path d="M992.9,57h0M1124.9,43.8h0" stroke="#cfcf1c" stroke-width="4.6" opacity="0.7"/>
</g>
<g fill="none" stroke-linecap="round" stroke-linejoin="round"><polyline points="992.9,70.2 1124.9,83.4" stroke="#bf6418" stroke-width="5.5"/><polyline points="992.9,70.2 1124.9,83.4" stroke="#ff6a2e" stroke-width="3.2"/>
<path d="M992.9,70.2h0M1124.9,83.4h0" stroke="#bf6418" stroke-width="4.6" opacity="0.7"/>
</g>
<g fill="none" stroke-linecap="round" stroke-linejoin="round"><polyline points="992.9,96.6 1124.9,109.8" stroke="#1563d0" stroke-width="5.5"/><polyline points="992.9,96.6 1124.9,109.8" stroke="#5c97d3" stroke-width="3.2"/>
<path d="M992.9,96.6h0M1124.9,109.8h0" stroke="#1563d0" stroke-width="4.6" opacity="0.7"/>
</g>
<g fill="none" stroke-linecap="round" stroke-linejoin="round"><polyline points="992.9,123 1124.9,123" stroke="#cfcf1c" stroke-width="5.5"/><polyline points="992.9,123 1124.9,123" stroke="#ffff33" stroke-width="3.2"/>
<path d="M992.9,123h0M1124.9,123h0" stroke="#cfcf1c" stroke-width="4.6" opacity="0.7"/>
</g>
<g fill="none" stroke-linecap="round" stroke-linejoin="round"><polyline points="992.9,109.8 1124.9,136.2" stroke="#74307a" stroke-width="5.5"/><polyline points="992.9,109.8 1124.9,136.2" stroke="#c564a8" stroke-width="3.2"/>
<path d="M992.9,109.8h0M1124.9,136.2h0" stroke="#74307a" stroke-width="4.6" opacity="0.7"/>
</g>
<g fill="none" stroke-linecap="round" stroke-linejoin="round"><polyline points="992.9,136.2 1124.9,162.6" stroke="#bf6418" stroke-width="5.5"/><polyline points="992.9,136.2 1124.9,162.6" stroke="#ff6a2e" stroke-width="3.2"/>
<path d="M992.9,136.2h0M1124.9,162.6h0" stroke="#bf6418" stroke-width="4.6" opacity="0.7"/>
</g>
<g fill="none" stroke-linecap="round" stroke-linejoin="round"><polyline points="992.9,162.6 1124.9,202.2" stroke="#1563d0" stroke-width="5.5"/><polyline points="992.9,162.6 1124.9,202.2" stroke="#5c97d3" stroke-width="3.2"/>
<path d="M992.9,162.6h0M1124.9,202.2h0" stroke="#1563d0" stroke-width="4.6" opacity="0.7"/>
</g>
<g fill="none" stroke-linecap="round" stroke-linejoin="round"><polyline points="992.9,175.8 1124.9,228.6" stroke="#74307a" stroke-width="5.5"/><polyline points="992.9,175.8 1124.9,228.6" stroke="#c564a8" stroke-width="3.2"/>
<path d="M992.9,175.8h0M1124.9,228.6h0" stroke="#74307a" stroke-width="4.6" opacity="0.7"/>
</g>
<g fill="none" stroke-linecap="round" stroke-linejoin="round"><polyline points="992.9,189 1124.9,215.4" stroke="#cfcf1c" stroke-width="5.5"/><polyline points="992.9,189 1124.9,215.4" stroke="#ffff33" stroke-width="3.2"/>
<path d="M992.9,189h0M1124.9,215.4h0" stroke="#cfcf1c" stroke-width="4.6" opacity="0.7"/>
</g>
<g fill="none" stroke-linecap="round" stroke-linejoin="round"><polyline points="992.9,202.2 1124.9,255" stroke="#bf6418" stroke-width="5.5"/><polyline points="992.9,202.2 1124.9,255" stroke="#ff6a2e" stroke-width="3.2"/>
<path d="M992.9,202.2h0M1124.9,255h0" stroke="#bf6418" stroke-width="4.6" opacity="0.7"/>
</g>
<g fill="none" stroke-linecap="round" stroke-linejoin="round"><polyline points="992.9,228.6 1124.9,294.6" stroke="#1563d0" stroke-width="5.5"/><polyline points="992.9,228.6 1124.9,294.6" stroke="#5c97d3" stroke-width="3.2"/>
<path d="M992.9,228.6h0M1124.9,294.6h0" stroke="#1563d0" stroke-width="4.6" opacity="0.7"/>
</g>
<g fill="none" stroke-linecap="round" stroke-linejoin="round"><polyline points="992.9,241.8 1124.9,321" stroke="#74307a" stroke-width="5.5"/><polyline points="992.9,241.8 1124.9,321" stroke="#c564a8" stroke-width="3.2"/>
<path d="M992.9,241.8h0M1124.9,321h0" stroke="#74307a" stroke-width="4.6" opacity="0.7"/>
</g>
<g fill="none" stroke-linecap="round" stroke-linejoin="round"><polyline points="992.9,255 1124.9,307.8" stroke="#cfcf1c" stroke-width="5.5"/><polyline points="992.9,255 1124.9,307.8" stroke="#ffff33" stroke-width="3.2"/>
<path d="M992.9,255h0M1124.9,307.8h0" stroke="#cfcf1c" stroke-width="4.6" opacity="0.7"/>
</g>
<g fill="none" stroke-linecap="round" stroke-linejoin="round"><polyline points="992.9,268.2 1124.9,347.4" stroke="#bf6418" stroke-width="5.5"/><polyline points="992.9,268.2 1124.9,347.4" stroke="#ff6a2e" stroke-width="3.2"/>
<path d="M992.9,268.2h0M1124.9,347.4h0" stroke="#bf6418" stroke-width="4.6" opacity="0.7"/>
</g>
<g fill="none" stroke-linecap="round" stroke-linejoin="round"><polyline points="992.9,294.6 1124.9,387" stroke="#1563d0" stroke-width="5.5"/><polyline points="992.9,294.6 1124.9,387" stroke="#5c97d3" stroke-width="3.2"/>
<path d="M992.9,294.6h0M1124.9,387h0" stroke="#1563d0" stroke-width="4.6" opacity="0.7"/>
</g>
<g fill="none" stroke-linecap="round" stroke-linejoin="round"><polyline points="992.9,321 1124.9,400.2" stroke="#cfcf1c" stroke-width="5.5"/><polyline points="992.9,321 1124.9,400.2" stroke="#ffff33" stroke-width="3.2"/>
<path d="M992.9,321h0M1124.9,400.2h0" stroke="#cfcf1c" stroke-width="4.6" opacity="0.7"/>
</g>
<g fill="none" stroke-linecap="round" stroke-linejoin="round"><polyline points="992.9,307.8 1124.9,413.4" stroke="#74307a" stroke-width="5.5"/><polyline points="992.9,307.8 1124.9,413.4" stroke="#c564a8" stroke-width="3.2"/>
<path d="M992.9,307.8h0M1124.9,413.4h0" stroke="#74307a" stroke-width="4.6" opacity="0.7"/>
</g>
<g fill="none" stroke-linecap="round" stroke-linejoin="round"><polyline points="992.9,334.2 1124.9,439.8" stroke="#bf6418" stroke-width="5.5"/><polyline points="992.9,334.2 1124.9,439.8" stroke="#ff6a2e" stroke-width="3.2"/>
<path d="M992.9,334.2h0M1124.9,439.8h0" stroke="#bf6418" stroke-width="4.6" opacity="0.7"/>
</g>
<g fill="none" stroke-linecap="round" stroke-linejoin="round"><polyline points="992.9,360.6 1124.9,479.4" stroke="#1563d0" stroke-width="5.5"/><polyline points="992.9,360.6 1124.9,479.4" stroke="#5c97d3" stroke-width="3.2"/>
<path d="M992.9,360.6h0M1124.9,479.4h0" stroke="#1563d0" stroke-width="4.6" opacity="0.7"/>
</g>
<g fill="none" stroke-linecap="round" stroke-linejoin="round"><polyline points="992.9,373.8 1124.9,505.8" stroke="#74307a" stroke-width="5.5"/><polyline points="992.9,373.8 1124.9,505.8" stroke="#c564a8" stroke-width="3.2"/>
<path d="M992.9,373.8h0M1124.9,505.8h0" stroke="#74307a" stroke-width="4.6" opacity="0.7"/>
</g>
<g fill="none" stroke-linecap="round" stroke-linejoin="round"><polyline points="992.9,387 1124.9,492.6" stroke="#cfcf1c" stroke-width="5.5"/><polyline points="992.9,387 1124.9,492.6" stroke="#ffff33" stroke-width="3.2"/>
<path d="M992.9,387h0M1124.9,492.6h0" stroke="#cfcf1c" stroke-width="4.6" opacity="0.7"/>
</g>
<g fill="none" stroke-linecap="round" stroke-linejoin="round"><polyline points="992.9,400.2 1124.9,532.2" stroke="#bf6418" stroke-width="5.5"/><polyline points="992.9,400.2 1124.9,532.2" stroke="#ff6a2e" stroke-width="3.2"/>
<path d="M992.9,400.2h0M1124.9,532.2h0" stroke="#bf6418" stroke-width="4.6" opacity="0.7"/>
</g>
<g fill="none" stroke-linecap="round" stroke-linejoin="round"><polyline points="992.9,426.6 1124.9,571.8" stroke="#1563d0" stroke-width="5.5"/><polyline points="992.9,426.6 1124.9,571.8" stroke="#5c97d3" stroke-width="3.2"/>
<path d="M992.9,426.6h0M1124.9,571.8h0" stroke="#1563d0" stroke-width="4.6" opacity="0.7"/>
</g>
<g fill="none" stroke-linecap="round" stroke-linejoin="round"><polyline points="992.9,439.8 1124.9,598.2" stroke="#74307a" stroke-width="5.5"/><polyline points="992.9,439.8 1124.9,598.2" stroke="#c564a8" stroke-width="3.2"/>
<path d="M992.9,439.8h0M1124.9,598.2h0" stroke="#74307a" stroke-width="4.6" opacity="0.7"/>
</g>
<g fill="none" stroke-linecap="round" stroke-linejoin="round"><polyline points="992.9,453 1124.9,585" stroke="#cfcf1c" stroke-width="5.5"/><polyline points="992.9,453 1124.9,585" stroke="#ffff33" stroke-width="3.2"/>
<path d="M992.9,453h0M1124.9,585h0" stroke="#cfcf1c" stroke-width="4.6" opacity="0.7"/>
</g>
<g fill="none" stroke-linecap="round" stroke-linejoin="round"><polyline points="992.9,466.2 1124.9,624.6" stroke="#bf6418" stroke-width="5.5"/><polyline points="992.9,466.2 1124.9,624.6" stroke="#ff6a2e" stroke-width="3.2"/>
<path d="M992.9,466.2h0M1124.9,624.6h0" stroke="#bf6418" stroke-width="4.6" opacity="0.7"/>
</g>
<g fill="none" stroke-linecap="round" stroke-linejoin="round"><polyline points="1138.1,30.6 1138.1,109.8" stroke="#1563d0" stroke-width="5.5"/><polyline points="1138.1,30.6 1138.1,109.8" stroke="#5c97d3" stroke-width="3.2"/>
<path d="M1138.1,30.6h0M1138.1,109.8h0" stroke="#1563d0" stroke-width="4.6" opacity="0.7"/>
</g>
<g fill="none" stroke-linecap="round" stroke-linejoin="round"><polyline points="1164.5,109.8 1138.1,202.2" stroke="#1563d0" stroke-width="5.5"/><polyline points="1164.5,109.8 1138.1,202.2" stroke="#5c97d3" stroke-width="3.2"/>
<path d="M1164.5,109.8h0M1138.1,202.2h0" stroke="#1563d0" stroke-width="4.6" opacity="0.7"/>
</g>
<g fill="none" stroke-linecap="round" stroke-linejoin="round"><polyline points="1164.5,202.2 1138.1,294.6" stroke="#1563d0" stroke-width="5.5"/><polyline points="1164.5,202.2 1138.1,294.6" stroke="#5c97d3" stroke-width="3.2"/>
<path d="M1164.5,202.2h0M1138.1,294.6h0" stroke="#1563d0" stroke-width="4.6" opacity="0.7"/>
</g>
<g fill="none" stroke-linecap="round" stroke-linejoin="round"><polyline points="1164.5,294.6 1138.1,387" stroke="#1563d0" stroke-width="5.5"/><polyline points="1164.5,294.6 1138.1,387" stroke="#5c97d3" stroke-width="3.2"/>
<path d="M1164.5,294.6h0M1138.1,387h0" stroke="#1563d0" stroke-width="4.6" opacity="0.7"/>
</g>
<g fill="none" stroke-linecap="round" stroke-linejoin="round"><polyline points="1164.5,387 1138.1,479.4" stroke="#1563d0" stroke-width="5.5"/><polyline points="1164.5,387 1138.1,479.4" stroke="#5c97d3" stroke-width="3.2"/>
<path d="M1164.5,387h0M1138.1,479.4h0" stroke="#1563d0" stroke-width="4.6" opacity="0.7"/>
</g>
<g fill="none" stroke-linecap="round" stroke-linejoin="round"><polyline points="1164.5,479.4 1138.1,571.8" stroke="#1563d0" stroke-width="5.5"/><polyline points="1164.5,479.4 1138.1,571.8" stroke="#5c97d3" stroke-width="3.2"/>
<path d="M1164.5,479.4h0M1138.1,571.8h0" stroke="#1563d0" stroke-width="4.6" opacity="0.7"/>
</g>
<g fill="none" stroke-linecap="round" stroke-linejoin="round"><polyline points="1151.3,70.2 1151.3,149.4" stroke="#12a23a" stroke-width="5.5"/><polyline points="1151.3,70.2 1151.3,149.4" stroke="#54ca62" stroke-width="3.2"/>
<path d="M1151.3,70.2h0M1151.3,149.4h0" stroke="#12a23a" stroke-width="4.6" opacity="0.7"/>
</g>
<g fill="none" stroke-linecap="round" stroke-linejoin="round"><polyline points="1151.3,175.8 1151.3,241.8" stroke="#12a23a" stroke-width="5.5"/><polyline points="1151.3,175.8 1151.3,241.8" stroke="#54ca62" stroke-width="3.2"/>
<path d="M1151.3,175.8h0M1151.3,241.8h0" stroke="#12a23a" stroke-width="4.6" opacity="0.7"/>
</g>
<g fill="none" stroke-linecap="round" stroke-linejoin="round"><polyline points="1151.3,268.2 1151.3,334.2" stroke="#12a23a" stroke-width="5.5"/><polyline points="1151.3,268.2 1151.3,334.2" stroke="#54ca62" stroke-width="3.2"/>
<path d="M1151.3,268.2h0M1151.3,334.2h0" stroke="#12a23a" stroke-width="4.6" opacity="0.7"/>
</g>
<g fill="none" stroke-linecap="round" stroke-linejoin="round"><polyline points="1151.3,360.6 1151.3,426.6" stroke="#12a23a" stroke-width="5.5"/><polyline points="1151.3,360.6 1151.3,426.6" stroke="#54ca62" stroke-width="3.2"/>
<path d="M1151.3,360.6h0M1151.3,426.6h0" stroke="#12a23a" stroke-width="4.6" opacity="0.7"/>
</g>
<g fill="none" stroke-linecap="round" stroke-linejoin="round"><polyline points="1151.3,453 1151.3,519" stroke="#12a23a" stroke-width="5.5"/><polyline points="1151.3,453 1151.3,519" stroke="#54ca62" stroke-width="3.2"/>
<path d="M1151.3,453h0M1151.3,519h0" stroke="#12a23a" stroke-width="4.6" opacity="0.7"/>
</g>
<g fill="none" stroke-linecap="round" stroke-linejoin="round"><polyline points="1151.3,545.4 1151.3,611.4" stroke="#12a23a" stroke-width="5.5"/><polyline points="1151.3,545.4 1151.3,611.4" stroke="#54ca62" stroke-width="3.2"/>
<path d="M1151.3,545.4h0M1151.3,611.4h0" stroke="#12a23a" stroke-width="4.6" opacity="0.7"/>
</g>
<g fill="none" stroke-linecap="round" stroke-linejoin="round"><polyline points="1164.5,149.4 1164.5,175.8" stroke="#12a23a" stroke-width="5.5"/><polyline points="1164.5,149.4 1164.5,175.8" stroke="#54ca62" stroke-width="3.2"/>
<path d="M1164.5,149.4h0M1164.5,175.8h0" stroke="#12a23a" stroke-width="4.6" opacity="0.7"/>
</g>
<g fill="none" stroke-linecap="round" stroke-linejoin="round"><polyline points="1164.5,241.8 1164.5,268.2" stroke="#12a23a" stroke-width="5.5"/><polyline points="1164.5,241.8 1164.5,268.2" stroke="#54ca62" stroke-width="3.2"/>
<path d="M1164.5,241.8h0M1164.5,268.2h0" stroke="#12a23a" stroke-width="4.6" opacity="0.7"/>
</g>
<g fill="none" stroke-linecap="round" stroke-linejoin="round"><polyline points="1164.5,334.2 1164.5,360.6" stroke="#12a23a" stroke-width="5.5"/><polyline points="1164.5,334.2 1164.5,360.6" stroke="#54ca62" stroke-width="3.2"/>
<path d="M1164.5,334.2h0M1164.5,360.6h0" stroke="#12a23a" stroke-width="4.6" opacity="0.7"/>
</g>
<g fill="none" stroke-linecap="round" stroke-linejoin="round"><polyline points="1164.5,426.6 1164.5,453" stroke="#12a23a" stroke-width="5.5"/><polyline points="1164.5,426.6 1164.5,453" stroke="#54ca62" stroke-width="3.2"/>
<path d="M1164.5,426.6h0M1164.5,453h0" stroke="#12a23a" stroke-width="4.6" opacity="0.7"/>
</g>
<g fill="none" stroke-linecap="round" stroke-linejoin="round"><polyline points="1164.5,519 1164.5,545.4" stroke="#12a23a" stroke-width="5.5"/><polyline points="1164.5,519 1164.5,545.4" stroke="#54ca62" stroke-width="3.2"/>
<path d="M1164.5,519h0M1164.5,545.4h0" stroke="#12a23a" stroke-width="4.6" opacity="0.7"/>
</g>
<g fill="none" stroke-linecap="round" stroke-linejoin="round"><polyline points="1164.5,611.4 1164.5,637.8" stroke="#12a23a" stroke-width="5.5"/><polyline points="1164.5,611.4 1164.5,637.8" stroke="#54ca62" stroke-width="3.2"/>
<path d="M1164.5,611.4h0M1164.5,637.8h0" stroke="#12a23a" stroke-width="4.6" opacity="0.7"/>
</g>
</svg>
</body></html>
